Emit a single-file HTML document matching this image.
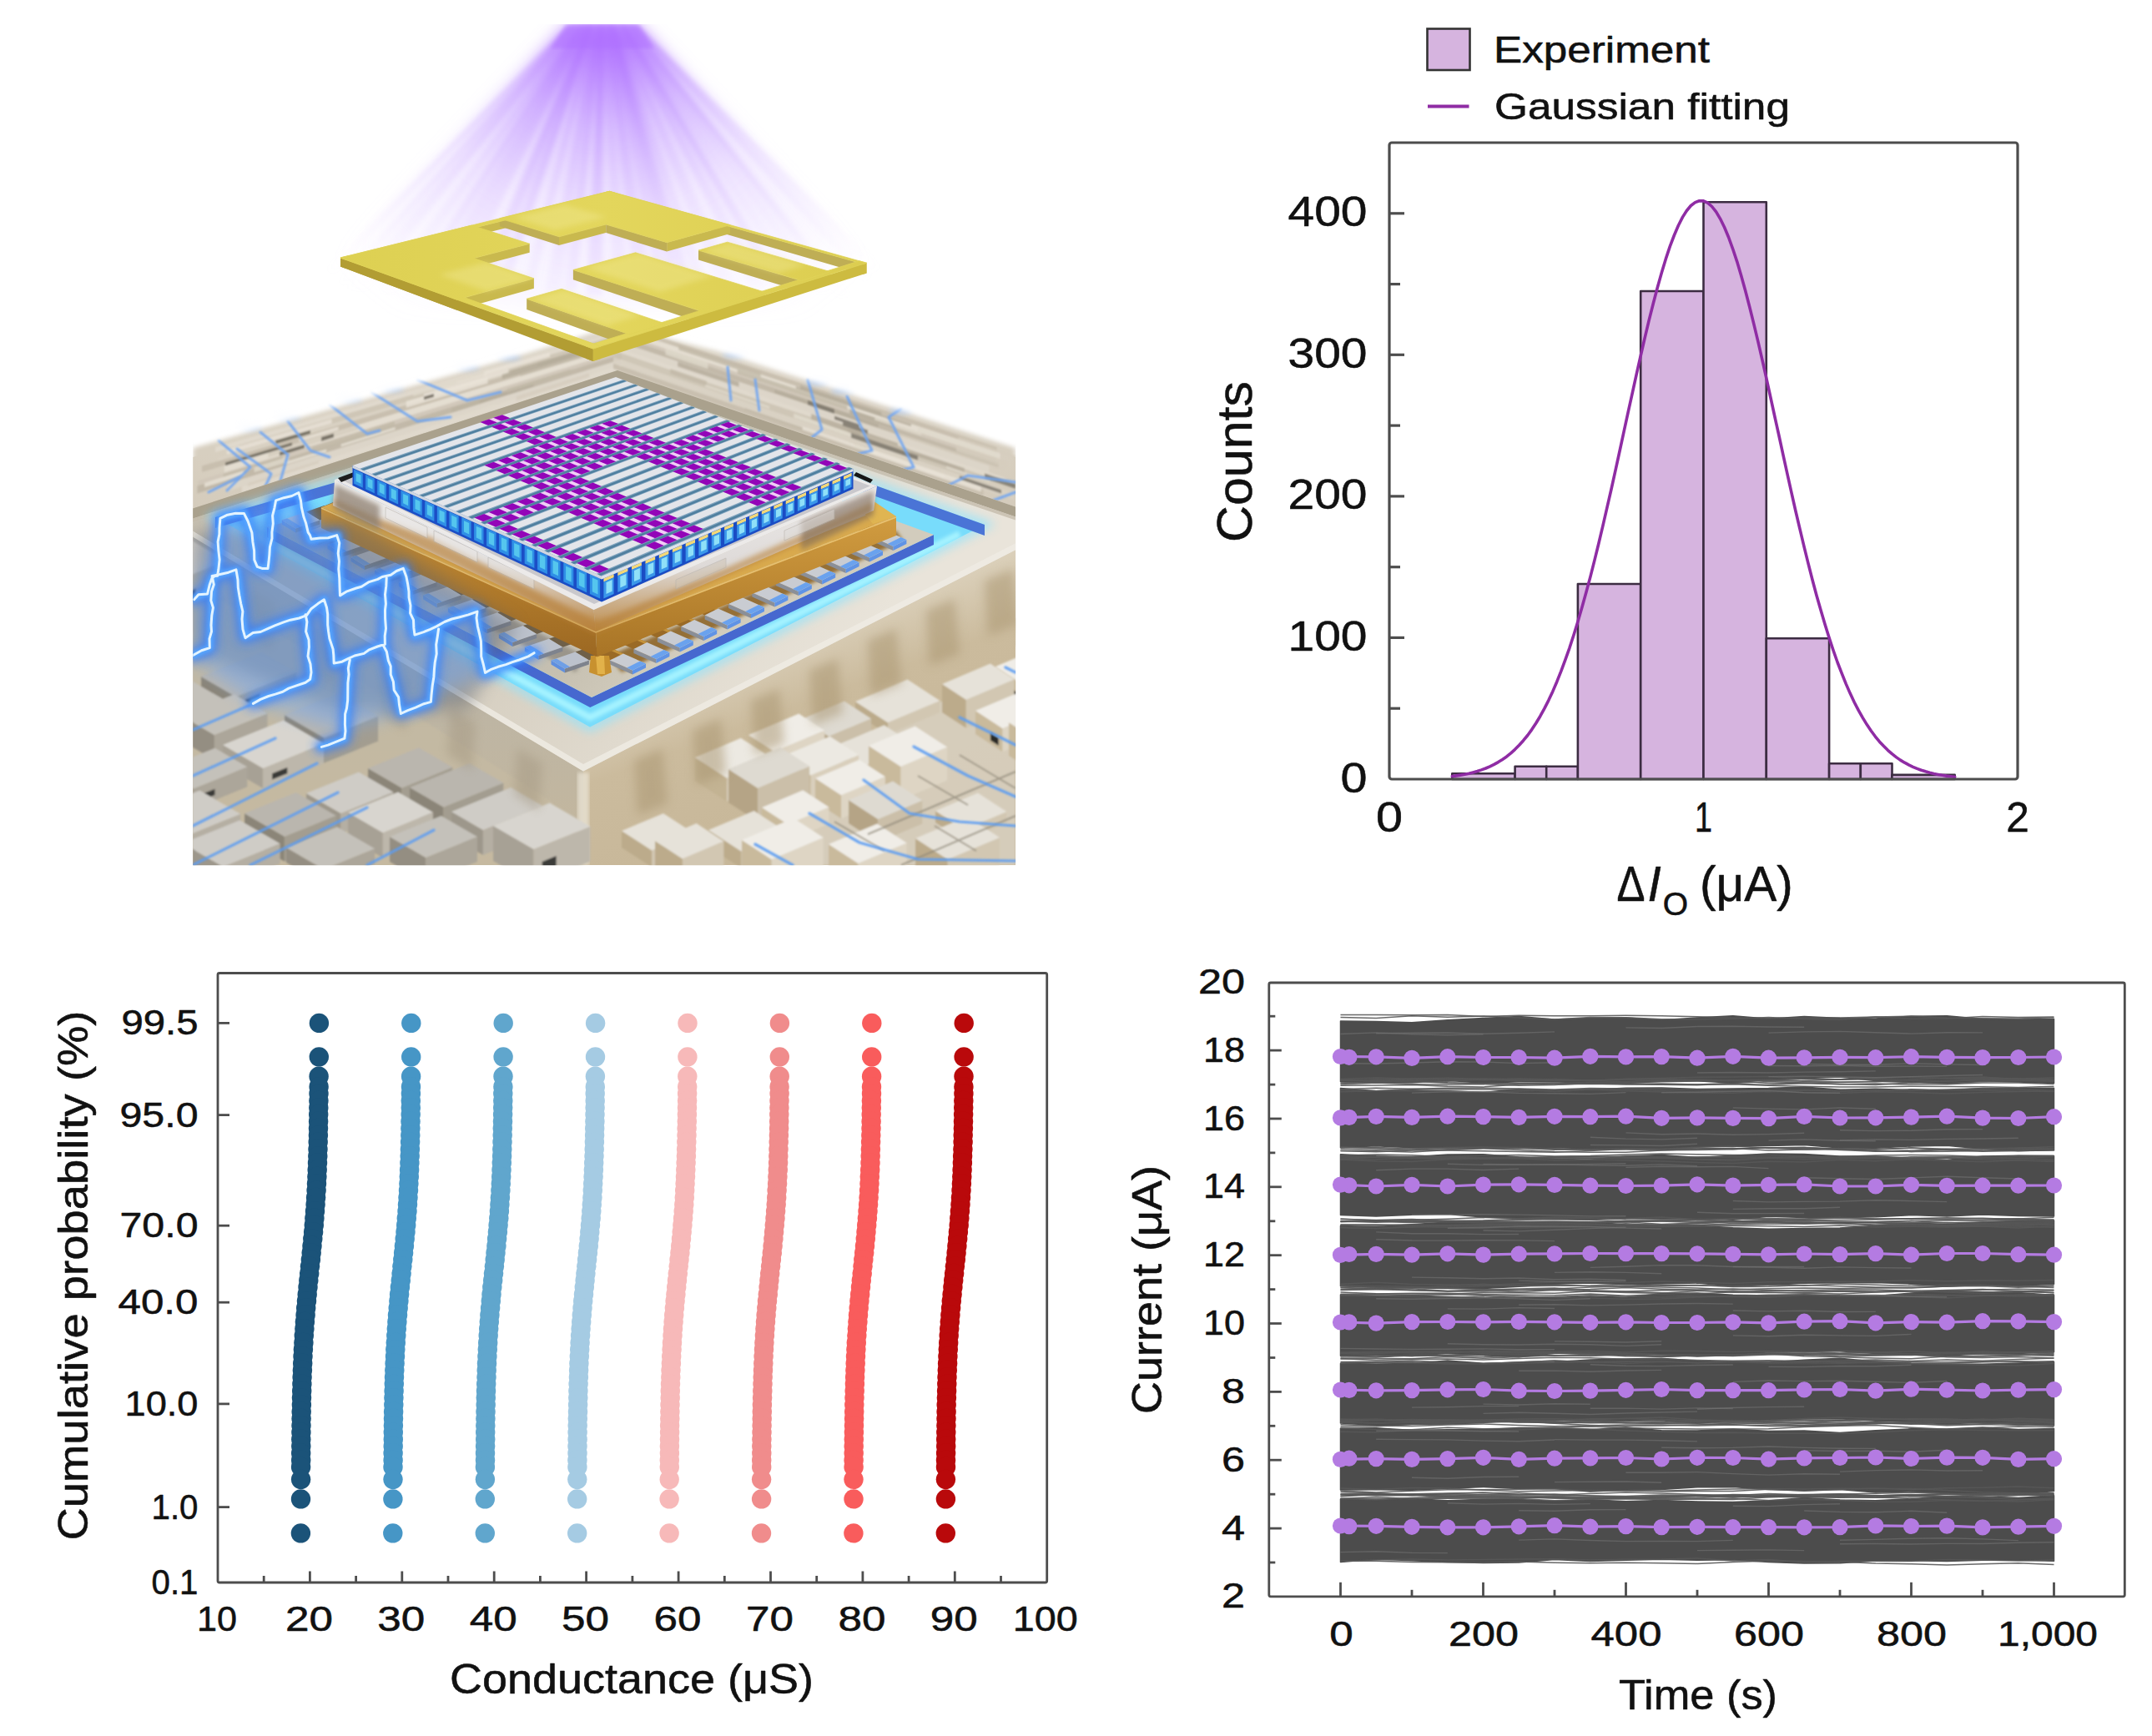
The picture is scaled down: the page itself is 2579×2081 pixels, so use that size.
<!DOCTYPE html>
<html lang="en"><head><meta charset="utf-8"><title>Figure</title>
<style>
html,body{margin:0;padding:0;background:#fff}
body{width:2579px;height:2081px;overflow:hidden}
svg{display:block;font-family:'Liberation Sans', sans-serif}
svg text{stroke:#111;stroke-width:0.55px;stroke-linejoin:round}
</style></head><body>
<svg width="2579" height="2081" viewBox="0 0 2579 2081">
<rect width="2579" height="2081" fill="#fff"/>
<defs>
<clipPath id="sceneClip"><rect x="231.3" y="0" width="985.9" height="1037.3"/></clipPath>
<filter id="b1" x="-5%" y="-5%" width="110%" height="110%"><feGaussianBlur stdDeviation="1"/></filter>
<filter id="b2" x="-5%" y="-5%" width="110%" height="110%"><feGaussianBlur stdDeviation="2"/></filter>
<filter id="b3" x="-10%" y="-10%" width="120%" height="120%"><feGaussianBlur stdDeviation="3.2"/></filter>
<filter id="b6" x="-10%" y="-10%" width="120%" height="120%"><feGaussianBlur stdDeviation="6"/></filter>
<filter id="b10" x="-20%" y="-20%" width="140%" height="140%"><feGaussianBlur stdDeviation="10"/></filter>
<filter id="b16" x="-20%" y="-20%" width="140%" height="140%"><feGaussianBlur stdDeviation="16"/></filter>
<linearGradient id="gBoard" x1="0" y1="400" x2="0" y2="1037" gradientUnits="userSpaceOnUse">
<stop offset="0" stop-color="#ddd6c9"/><stop offset="0.35" stop-color="#d4cbbb"/><stop offset="1" stop-color="#cdc2ae"/></linearGradient>
<linearGradient id="gPlat" x1="300" y1="500" x2="900" y2="950" gradientUnits="userSpaceOnUse">
<stop offset="0" stop-color="#c6bfb0"/><stop offset="0.55" stop-color="#d6cfc1"/><stop offset="1" stop-color="#e9e4da"/></linearGradient>
<linearGradient id="gFaceL" x1="0" y1="640" x2="0" y2="1037" gradientUnits="userSpaceOnUse">
<stop offset="0" stop-color="#b4b2ae"/><stop offset="0.5" stop-color="#bdb5a4"/><stop offset="1" stop-color="#c4b79d"/></linearGradient>
<linearGradient id="gFaceR" x1="900" y1="760" x2="1000" y2="1030" gradientUnits="userSpaceOnUse">
<stop offset="0" stop-color="#ded4c0"/><stop offset="0.35" stop-color="#cbbb9d"/><stop offset="1" stop-color="#c6b698"/></linearGradient>
<linearGradient id="gIsland" x1="400" y1="560" x2="760" y2="840" gradientUnits="userSpaceOnUse">
<stop offset="0" stop-color="#9ea3ad"/><stop offset="0.45" stop-color="#b7b5b0"/><stop offset="0.8" stop-color="#c6c0b1"/><stop offset="1" stop-color="#d2ccbd"/></linearGradient>
<linearGradient id="gBrL" x1="0" y1="0" x2="0" y2="1" >
<stop offset="0" stop-color="#c89036"/><stop offset="1" stop-color="#9c6822"/></linearGradient>
<linearGradient id="gBrR" x1="0" y1="0" x2="0" y2="1">
<stop offset="0" stop-color="#d19c40"/><stop offset="1" stop-color="#a87426"/></linearGradient>
<linearGradient id="gCarL" x1="0" y1="0" x2="0" y2="1">
<stop offset="0" stop-color="#f1f0ef"/><stop offset="0.55" stop-color="#e2dfdd"/><stop offset="0.85" stop-color="#c8a67c"/><stop offset="1" stop-color="#b98238"/></linearGradient>
<linearGradient id="gCarR" x1="0" y1="0" x2="0" y2="1">
<stop offset="0" stop-color="#eceae9"/><stop offset="0.55" stop-color="#dedad8"/><stop offset="0.88" stop-color="#c6a171"/><stop offset="1" stop-color="#b8843a"/></linearGradient>
<linearGradient id="gCellL" x1="0" y1="0" x2="1" y2="0">
<stop offset="0" stop-color="#1c4fc8"/><stop offset="0.3" stop-color="#3fb2ea"/><stop offset="0.7" stop-color="#56c4ee"/><stop offset="1" stop-color="#1b55cc"/></linearGradient>
<radialGradient id="gBeam" cx="722" cy="22" r="430" gradientUnits="userSpaceOnUse">
<stop offset="0" stop-color="#ae6cff" stop-opacity="0.98"/><stop offset="0.1" stop-color="#b57cff" stop-opacity="0.9"/>
<stop offset="0.3" stop-color="#c39bff" stop-opacity="0.55"/><stop offset="0.55" stop-color="#d3b8ff" stop-opacity="0.28"/>
<stop offset="0.8" stop-color="#dccaff" stop-opacity="0.14"/>
<stop offset="1" stop-color="#e6d8ff" stop-opacity="0"/></radialGradient>
<radialGradient id="gRay" cx="722" cy="22" r="450" gradientUnits="userSpaceOnUse">
<stop offset="0" stop-color="#a862ff" stop-opacity="0.9"/><stop offset="0.4" stop-color="#b98aff" stop-opacity="0.45"/>
<stop offset="0.8" stop-color="#cfb0ff" stop-opacity="0.12"/><stop offset="1" stop-color="#e6d8ff" stop-opacity="0"/></radialGradient>
<linearGradient id="gMaskTop" x1="408" y1="310" x2="1038" y2="330" gradientUnits="userSpaceOnUse">
<stop offset="0" stop-color="#ddd052"/><stop offset="0.5" stop-color="#e3d65c"/><stop offset="1" stop-color="#dccd50"/></linearGradient>
</defs>
<g clip-path="url(#sceneClip)">
<g id="board">
<g filter="url(#b3)">
<polygon points="231,535 620,425 738,388 860,419 1217,535 1217,760 231,760" fill="url(#gBoard)" />
</g>
<polygon points="231,548 620,438 738,402 860,432 1217,548 1217,1037 231,1037" fill="url(#gBoard)" />
<g filter="url(#b1)">
<polygon points="258.1,536.1 745,396 745,400.2 258.1,542" fill="#e2dbcf" opacity="0.85"/>
<polygon points="735,385.7 1194.6,536.2 1194.6,542 735,390.8" fill="#c5bcab" opacity="0.85"/>
<polygon points="286.5,533.8 745,400.2 745,405.4 286.5,541" fill="#cdc4b4" opacity="0.85"/>
<polygon points="735,390.8 1198.4,543.3 1198.4,550.5 735,397.3" fill="#e6dfd4" opacity="0.85"/>
<polygon points="261.5,548.4 745,405.4 745,408.6 261.5,552.8" fill="#d9d1c3" opacity="0.85"/>
<polygon points="735,397.3 1193.5,548.9 1193.5,553.2 735,401.1" fill="#d0c7b8" opacity="0.85"/>
<polygon points="242.1,558.6 745,408.6 745,413.9 242.1,566" fill="#c5bcab" opacity="0.85"/>
<polygon points="735,401.1 1196.5,554.2 1196.5,561.4 735,407.5" fill="#beb5a4" opacity="0.85"/>
<polygon points="268.8,557.9 745,413.9 745,420.2 268.8,566.6" fill="#e6dfd4" opacity="0.85"/>
<polygon points="735,407.5 1185.3,557.7 1185.3,566.3 735,415.2" fill="#ddd6ca" opacity="0.85"/>
<polygon points="236.6,576.5 745,420.2 745,424.4 236.6,582.5" fill="#d0c7b8" opacity="0.85"/>
<polygon points="735,415.2 1204.9,572.9 1204.9,578.7 735,420.3" fill="#e2dbcf" opacity="0.85"/>
<polygon points="236.4,582.5 745,424.4 745,430.7 236.4,591.5" fill="#beb5a4" opacity="0.85"/>
<polygon points="735,420.3 1184.6,571.9 1184.6,580.5 735,428" fill="#cdc4b4" opacity="0.85"/>
<polygon points="272.6,580 745,430.7 745,437 272.6,588.8" fill="#ddd6ca" opacity="0.85"/>
<polygon points="735,428 1215.3,590.9 1215.3,599.6 735,435.7" fill="#d9d1c3" opacity="0.85"/>
<polygon points="289.9,583.2 745,437 745,442.3 289.9,590.4" fill="#e2dbcf" opacity="0.85"/>
<polygon points="735,435.7 1178.4,587 1178.4,594.2 735,442.1" fill="#c5bcab" opacity="0.85"/>
<polygon points="304.6,560 346.1,547.1 346.1,553.3 304.6,566.3" fill="#e0d9cc" opacity="0.8"/>
<polygon points="803.4,442.1 846.9,456.8 846.9,462.7 803.4,447.9" fill="#c2b9a8" opacity="0.8"/>
<polygon points="373.8,535.7 472.9,505.1 472.9,511.7 373.8,542.7" fill="#c2b9a8" opacity="0.8"/>
<polygon points="972.1,496.1 1076.1,531.1 1076.1,538.2 972.1,503.1" fill="#b4ab9a" opacity="0.8"/>
<polygon points="508.5,466.2 589.1,442.8 589.1,445.6 508.5,469.1" fill="#e0d9cc" opacity="0.8"/>
<polygon points="1148.4,523.5 1217,546 1217,549.4 1148.4,526.8" fill="#d6cdbe" opacity="0.8"/>
<polygon points="358.5,525.7 405.5,511.6 405.5,515.5 358.5,529.7" fill="#ebe5da" opacity="0.8"/>
<polygon points="928.1,467 1052.8,508.4 1052.8,512.4 928.1,470.9" fill="#b4ab9a" opacity="0.8"/>
<polygon points="520.8,465.5 582.2,447.6 582.2,450.1 520.8,468.1" fill="#ebe5da" opacity="0.8"/>
<polygon points="953.9,462.9 1091.9,508.3 1091.9,511.2 953.9,465.7" fill="#b4ab9a" opacity="0.8"/>
<polygon points="321.4,542.3 428.9,509.8 428.9,515.4 321.4,548.4" fill="#d6cdbe" opacity="0.8"/>
<polygon points="812.2,433.6 885.5,458 885.5,463.7 812.2,439.2" fill="#b4ab9a" opacity="0.8"/>
<polygon points="341,554.1 391.1,538.4 391.1,541.8 341,557.6" fill="#ebe5da" opacity="0.8"/>
<polygon points="952,497.4 1040.7,527.4 1040.7,530.9 952,500.8" fill="#e0d9cc" opacity="0.8"/>
<polygon points="644,434.8 735,407.9 735,412.2 644,439.4" fill="#b4ab9a" opacity="0.8"/>
<polygon points="1018.2,490.3 1069.8,507.4 1069.8,513 1018.2,495.9" fill="#b4ab9a" opacity="0.8"/>
<polygon points="594.4,485 731.9,440.9 731.9,443 594.4,487.3" fill="#e0d9cc" opacity="0.8"/>
<polygon points="892.5,489 1021,532.8 1021,535.6 892.5,491.7" fill="#c2b9a8" opacity="0.8"/>
<polygon points="486.8,481.1 584.5,452.3 584.5,459.4 486.8,488.8" fill="#ebe5da" opacity="0.8"/>
<polygon points="1146,532.5 1207.4,552.8 1207.4,561.4 1146,541" fill="#d6cdbe" opacity="0.8"/>
<polygon points="580.4,445.6 659,422.8 659,427.8 580.4,450.9" fill="#ebe5da" opacity="0.8"/>
<polygon points="813.3,413.8 911.6,446.1 911.6,452 813.3,419.6" fill="#c2b9a8" opacity="0.8"/>
<polygon points="495.1,470.6 547.8,455.3 547.8,459.5 495.1,475" fill="#e0d9cc" opacity="0.8"/>
<polygon points="959,461.9 1056.4,493.9 1056.4,498.7 959,466.6" fill="#b4ab9a" opacity="0.8"/>
<polygon points="612.5,443.9 734.2,407.9 734.2,410.7 612.5,446.9" fill="#c2b9a8" opacity="0.8"/>
<polygon points="1048.4,500 1104.2,518.4 1104.2,522.1 1048.4,503.6" fill="#e0d9cc" opacity="0.8"/>
<polygon points="601.7,447.6 702.1,418 702.1,424.3 601.7,454.5" fill="#b4ab9a" opacity="0.8"/>
<polygon points="797.5,417.8 848.4,434.6 848.4,442.3 797.5,425.3" fill="#e0d9cc" opacity="0.8"/>
<polygon points="528.9,504.7 594.6,483.7 594.6,487.2 528.9,508.4" fill="#e0d9cc" opacity="0.8"/>
<polygon points="961.7,511.2 1053.7,542.5 1053.7,546.6 961.7,515.2" fill="#ebe5da" opacity="0.8"/>
<polygon points="507.9,472 609.5,442.3 609.5,446.8 507.9,477" fill="#ebe5da" opacity="0.8"/>
<polygon points="883.7,442.7 1015.4,486.2 1015.4,491.6 883.7,448" fill="#c2b9a8" opacity="0.8"/>
<polygon points="408.7,532.4 473.6,512.1 473.6,515 408.7,535.5" fill="#ebe5da" opacity="0.8"/>
<polygon points="845.2,460.9 922.1,486.9 922.1,489.9 845.2,463.9" fill="#e0d9cc" opacity="0.8"/>
<polygon points="296.7,579.6 381.8,552.3 381.8,555.6 296.7,583" fill="#d6cdbe" opacity="0.8"/>
<polygon points="1023.1,532.6 1132.2,569.8 1132.2,573.2 1023.1,535.9" fill="#e0d9cc" opacity="0.8"/>
<polygon points="618.7,475.3 706.2,447.3 706.2,452.1 618.7,480.4" fill="#d6cdbe" opacity="0.8"/>
<polygon points="1039.4,536.8 1175.6,583.2 1175.6,589.5 1039.4,542.9" fill="#ebe5da" opacity="0.8"/>
<polygon points="267.6,568.4 338.7,546.5 338.7,549.7 267.6,571.7" fill="#c2b9a8" opacity="0.8"/>
<polygon points="1149.8,555.7 1197.3,571.7 1197.3,575 1149.8,559" fill="#e0d9cc" opacity="0.8"/>
<polygon points="623.9,448.5 735,415.1 735,417.4 623.9,451" fill="#c2b9a8" opacity="0.8"/>
<polygon points="1073.5,518 1205,561.8 1205,564.9 1073.5,521.1" fill="#d6cdbe" opacity="0.8"/>
<polygon points="271.8,539 397.6,502.3 397.6,507.6 271.8,544.7" fill="#ebe5da" opacity="0.8"/>
<polygon points="1099.5,511.7 1196.8,543.7 1196.8,549.3 1099.5,517.2" fill="#e0d9cc" opacity="0.8"/>
<polygon points="245.1,578.9 292.3,564.2 292.3,569.3 245.1,584.1" fill="#ebe5da" opacity="0.8"/>
<polygon points="1016.6,514.3 1155.9,561.2 1155.9,566.3 1016.6,519.2" fill="#b4ab9a" opacity="0.8"/>
<polygon points="541.4,489.9 639.5,459.3 639.5,463.3 541.4,494.3" fill="#b4ab9a" opacity="0.8"/>
<polygon points="951.2,495.6 1045.3,527.4 1045.3,532.4 951.2,500.5" fill="#e0d9cc" opacity="0.8"/>
<polygon points="486.5,508.1 574.6,480.5 574.6,483.1 486.5,510.8" fill="#c2b9a8" opacity="0.8"/>
<polygon points="1134.2,558.6 1185.5,576 1185.5,579 1134.2,561.6" fill="#e0d9cc" opacity="0.8"/>
<polygon points="607.5,466.3 684.3,442.4 684.3,446.8 607.5,470.9" fill="#c2b9a8" opacity="0.8"/>
<polygon points="1030.9,519 1091.2,539.3 1091.2,544.9 1030.9,524.5" fill="#c2b9a8" opacity="0.8"/>
<polygon points="270,554.6 350,530.5 350,534 270,558.3" fill="#6f695d" opacity="0.9"/>
<polygon points="330,528.1 372,515.7 372,519.8 330,532.3" fill="#6f695d" opacity="0.9"/>
<polygon points="335,542.1 365,532.9 365,537.1 335,546.3" fill="#6f695d" opacity="0.9"/>
<polygon points="385,524.1 400,519.6 400,524.3 385,528.9" fill="#6f695d" opacity="0.9"/>
<polygon points="508,475.5 520,471.9 520,475.7 508,479.3" fill="#6f695d" opacity="0.9"/>
<polygon points="968,479.8 1000,490.4 1000,495.9 968,485.2" fill="#7d776b" opacity="0.85"/>
<polygon points="1010,505.4 1040,515.5 1040,520.3 1010,510.3" fill="#7d776b" opacity="0.85"/>
<polygon points="1020,519.1 1100,546.2 1100,551.8 1020,524.7" fill="#7d776b" opacity="0.85"/>
<polygon points="1000,498.6 1030,508.7 1030,512.8 1000,502.8" fill="#7d776b" opacity="0.85"/>
<polygon points="1180,567.4 1217,579.9 1217,585.7 1180,573.2" fill="#7d776b" opacity="0.85"/>
<polygon points="1150,570.2 1200,587.2 1200,591.5 1150,574.5" fill="#7d776b" opacity="0.85"/>
</g>
<g fill="none" stroke="#6ea4f2" stroke-width="3" stroke-linejoin="round" stroke-linecap="round" opacity="0.9" filter="url(#b1)">
<polyline points="262,528 300,560 272,588"/>
<polyline points="284,538 325,568 310,600"/>
<polyline points="312,518 345,545 335,580"/>
<polyline points="345,505 372,540 395,548"/>
<polyline points="395,485 440,520 455,516"/>
<polyline points="445,470 500,505 540,500"/>
<polyline points="500,455 560,480 600,470"/>
<polyline points="250,590 290,570"/>
<polyline points="872,440 876,480"/>
<polyline points="905,455 910,492"/>
<polyline points="968,455 985,515 972,525"/>
<polyline points="1015,475 1045,540 1025,545"/>
<polyline points="1080,490 1065,500 1095,560 1075,565"/>
<polyline points="1130,585 1160,570 1217,578"/>
<polyline points="1190,600 1217,590"/>
</g>
<g filter="url(#b3)" opacity="0.55" fill="#9cc4ff">
<ellipse cx="300" cy="512" rx="14" ry="4"/>
<ellipse cx="345" cy="500" rx="14" ry="4"/>
<ellipse cx="420" cy="478" rx="14" ry="4"/>
<ellipse cx="470" cy="466" rx="14" ry="4"/>
<ellipse cx="560" cy="440" rx="14" ry="4"/>
<ellipse cx="610" cy="428" rx="14" ry="4"/>
<ellipse cx="880" cy="425" rx="14" ry="4"/>
<ellipse cx="980" cy="458" rx="14" ry="4"/>
<ellipse cx="1010" cy="468" rx="14" ry="4"/>
<ellipse cx="1080" cy="492" rx="14" ry="4"/>
</g>
<g filter="url(#b3)" fill="none" stroke="#fff" stroke-width="16" stroke-linejoin="round" opacity="0.95">
<polyline points="200,536 620,417 738,380 860,411 1250,538"/>
</g>
</g>
<g id="platform">
<polygon points="231,643.6 699,924.4 699,1037 231,1037" fill="url(#gFaceL)" />
<polygon points="699,924.4 1217,659.2 1217,1037 699,1037" fill="url(#gFaceR)" />
<polygon points="231,609.6 740,444 1217,607.5 1217,659.2 699,924.4 231,643.6" fill="url(#gPlat)" />
<polygon points="231,609.6 740,444 1217,607.5 1217,619.5 740,457 231,621.6" fill="#aaa18d" />
<polygon points="231,621.6 740,457 1217,619.5 1217,623.5 740,461 231,625.6" fill="#c4bcab" opacity="0.8"/>
<polygon points="231,636.6 699,916 1217,651.2 1217,659.2 699,924.4 231,643.6" fill="#efebe3" opacity="0.85"/>
<g filter="url(#b2)">
<polygon points="692,926 706,926 706,1037 692,1037" fill="#e9e2d3" opacity="0.8"/>
</g>
</g>
<g id="blocks">
<g filter="url(#b1)">
<polygon points="231,700 470,840 660,960 699,1037 231,1037" fill="#c7bba3" opacity="0.55"/>
<polygon points="165,670 210.7,696.5 210.7,738.5 165,712" fill="#a7a195" /><polygon points="210.7,696.5 271.2,672 271.2,714 210.7,738.5" fill="#bdb7ab" /><polygon points="165,670 225.5,645.5 271.2,672 210.7,696.5" fill="#d8d5cf" />
<polygon points="219.8,711.7 234.9,705.6 234.9,718.2 219.8,724.3" fill="#3b3a38" />
<polygon points="241,811 282.8,835.2 282.8,853.2 241,829" fill="#8b8578" /><polygon points="282.8,835.2 355.3,805.8 355.3,823.8 282.8,853.2" fill="#a39d90" /><polygon points="241,811 313.5,781.6 355.3,805.8 282.8,835.2" fill="#bab6ae" />
<polygon points="293.7,838.9 311.8,831.6 311.8,837 293.7,844.3" fill="#3b3a38" />
<polygon points="167,841 207.1,864.2 207.1,882.2 167,859" fill="#948e82" /><polygon points="207.1,864.2 269.2,839.1 269.2,857.1 207.1,882.2" fill="#aca69a" /><polygon points="167,841 229.1,815.8 269.2,839.1 207.1,864.2" fill="#c4c1ba" />
<polygon points="216.4,868.6 231.9,862.3 231.9,867.7 216.4,874" fill="#3b3a38" />
<polygon points="217,858 256.9,881.1 256.9,911.1 217,888" fill="#948e82" /><polygon points="256.9,881.1 320.5,855.3 320.5,885.3 256.9,911.1" fill="#aca69a" /><polygon points="217,858 280.6,832.2 320.5,855.3 256.9,881.1" fill="#c4c1ba" />
<polygon points="341,857 388.6,884.6 388.6,914.6 341,887" fill="#8b8578" /><polygon points="388.6,884.6 453.1,858.5 453.1,888.5 388.6,914.6" fill="#a39d90" /><polygon points="341,857 405.5,830.9 453.1,858.5 388.6,884.6" fill="#bab6ae" />
<polygon points="267,893 315.2,921 315.2,945 267,917" fill="#a7a195" /><polygon points="315.2,921 388,891.5 388,915.5 315.2,945" fill="#bdb7ab" /><polygon points="267,893 339.8,863.5 388,891.5 315.2,921" fill="#d8d5cf" />
<polygon points="326.1,927.3 344.3,920 344.3,927.2 326.1,934.5" fill="#3b3a38" />
<polygon points="193,923 231.7,945.5 231.7,969.5 193,947" fill="#948e82" /><polygon points="231.7,945.5 296.3,919.3 296.3,943.3 231.7,969.5" fill="#aca69a" /><polygon points="193,923 257.6,896.8 296.3,919.3 231.7,945.5" fill="#c4c1ba" />
<polygon points="241.4,952.3 257.5,945.8 257.5,953 241.4,959.5" fill="#3b3a38" />
<polygon points="441,921 481.5,944.5 481.5,968.5 441,945" fill="#8b8578" /><polygon points="481.5,944.5 542.3,919.8 542.3,943.8 481.5,968.5" fill="#a39d90" /><polygon points="441,921 501.9,896.3 542.3,919.8 481.5,944.5" fill="#bab6ae" />
<polygon points="367,951 408.5,975.1 408.5,999.1 367,975" fill="#9d978b" /><polygon points="408.5,975.1 471.4,949.6 471.4,973.6 408.5,999.1" fill="#b5afa3" /><polygon points="367,951 429.9,925.5 471.4,949.6 408.5,975.1" fill="#cfccc6" />
<polygon points="491,944 531.5,967.5 531.5,997.5 491,974" fill="#8b8578" /><polygon points="531.5,967.5 603.3,938.4 603.3,968.4 531.5,997.5" fill="#a39d90" /><polygon points="491,944 562.8,914.9 603.3,938.4 531.5,967.5" fill="#bab6ae" />
<polygon points="169,976 217.8,1004.3 217.8,1034.3 169,1006" fill="#9d978b" /><polygon points="217.8,1004.3 288.2,975.8 288.2,1005.8 217.8,1034.3" fill="#b5afa3" /><polygon points="169,976 239.4,947.5 288.2,975.8 217.8,1004.3" fill="#cfccc6" />
<polygon points="228.4,1013.5 246,1006.4 246,1015.4 228.4,1022.5" fill="#3b3a38" />
<polygon points="293,975 340.9,1002.8 340.9,1032.8 293,1005" fill="#8b8578" /><polygon points="340.9,1002.8 402.7,977.7 402.7,1007.7 340.9,1032.8" fill="#a39d90" /><polygon points="293,975 354.8,950 402.7,977.7 340.9,1002.8" fill="#bab6ae" />
<polygon points="417,974 458.8,998.2 458.8,1028.2 417,1004" fill="#a7a195" /><polygon points="458.8,998.2 518.9,973.8 518.9,1003.8 458.8,1028.2" fill="#bdb7ab" /><polygon points="417,974 477.1,949.6 518.9,973.8 458.8,998.2" fill="#d8d5cf" />
<polygon points="541,973 578.9,995 578.9,1025 541,1003" fill="#9d978b" /><polygon points="578.9,995 650.2,966.1 650.2,996.1 578.9,1025" fill="#b5afa3" /><polygon points="541,973 612.3,944.1 650.2,966.1 578.9,995" fill="#cfccc6" />
<polygon points="219,1011 267.3,1039 267.3,1063 219,1035" fill="#9d978b" /><polygon points="267.3,1039 335.6,1011.3 335.6,1035.3 267.3,1063" fill="#b5afa3" /><polygon points="219,1011 287.3,983.3 335.6,1011.3 267.3,1039" fill="#cfccc6" />
<polygon points="343,1016 387.9,1042 387.9,1060 343,1034" fill="#948e82" /><polygon points="387.9,1042 449.1,1017.3 449.1,1035.3 387.9,1060" fill="#aca69a" /><polygon points="343,1016 404.2,991.2 449.1,1017.3 387.9,1042" fill="#c4c1ba" />
<polygon points="397.1,1046.4 412.4,1040.2 412.4,1045.6 397.1,1051.8" fill="#3b3a38" />
<polygon points="467,1003 510.2,1028 510.2,1058 467,1033" fill="#948e82" /><polygon points="510.2,1028 572,1003 572,1033 510.2,1058" fill="#aca69a" /><polygon points="467,1003 528.8,977.9 572,1003 510.2,1028" fill="#c4c1ba" />
<polygon points="591,990 639.5,1018.1 639.5,1060.1 591,1032" fill="#a7a195" /><polygon points="639.5,1018.1 707.3,990.7 707.3,1032.7 639.5,1060.1" fill="#bdb7ab" /><polygon points="591,990 658.8,962.5 707.3,990.7 639.5,1018.1" fill="#d8d5cf" />
<polygon points="649.7,1032.9 666.6,1026 666.6,1038.6 649.7,1045.5" fill="#3b3a38" />
</g>
<g fill="none" stroke="#5b9cf2" stroke-width="3.2" stroke-linecap="round" opacity="0.85" filter="url(#b1)">
<line x1="231" y1="875" x2="300" y2="845"/>
<line x1="231" y1="930" x2="330" y2="885"/>
<line x1="231" y1="990" x2="380" y2="915"/>
<line x1="231" y1="1037" x2="405" y2="950"/>
<line x1="300" y1="1037" x2="440" y2="968"/>
<line x1="440" y1="1037" x2="520" y2="995"/>
</g>
<g filter="url(#b1)">
<polygon points="1000,900 1217,800 1217,1037 900,1037" fill="#dad2c3" opacity="0.8"/>
<polygon points="1217,740 1251.3,762.3 1251.3,796.3 1217,774" fill="#c9ba9c" /><polygon points="1251.3,762.3 1305.3,739.5 1305.3,773.5 1251.3,796.3" fill="#ded5c4" /><polygon points="1217,740 1271,717.2 1305.3,739.5 1251.3,762.3" fill="#f0ede7" />
<polygon points="1193,799 1224.3,819.3 1224.3,847.3 1193,827" fill="#c9ba9c" /><polygon points="1224.3,819.3 1286.3,793.2 1286.3,821.2 1224.3,847.3" fill="#ded5c4" /><polygon points="1193,799 1255,772.8 1286.3,793.2 1224.3,819.3" fill="#f0ede7" />
<polygon points="1210.2,824.2 1219.6,830.3 1219.6,840.1 1210.2,834" fill="#2b2a28" />
<polygon points="1025,841 1064,866.3 1064,880.3 1025,855" fill="#bcab8b" /><polygon points="1064,866.3 1126.5,840 1126.5,854 1064,880.3" fill="#d2c7b2" /><polygon points="1025,841 1087.5,814.6 1126.5,840 1064,866.3" fill="#e6e2d9" />
<polygon points="1129,820 1157.8,838.7 1157.8,872.7 1129,854" fill="#bcab8b" /><polygon points="1157.8,838.7 1215.6,814.4 1215.6,848.4 1157.8,872.7" fill="#d2c7b2" /><polygon points="1129,820 1186.8,795.6 1215.6,814.4 1157.8,838.7" fill="#e6e2d9" />
<polygon points="961,862 993.1,882.8 993.1,902.8 961,882" fill="#b5a486" /><polygon points="993.1,882.8 1044,861.4 1044,881.4 993.1,902.8" fill="#cbbfa9" /><polygon points="961,862 1011.9,840.5 1044,861.4 993.1,882.8" fill="#dedad1" />
<polygon points="1169,852 1201.5,873.2 1201.5,901.2 1169,880" fill="#c9ba9c" /><polygon points="1201.5,873.2 1249.5,852.9 1249.5,880.9 1201.5,901.2" fill="#ded5c4" /><polygon points="1169,852 1217,831.7 1249.5,852.9 1201.5,873.2" fill="#f0ede7" />
<polygon points="1186.9,877.6 1196.7,884 1196.7,893.8 1186.9,887.4" fill="#2b2a28" />
<polygon points="897,881 928,901.1 928,929.1 897,909" fill="#c9ba9c" /><polygon points="928,901.1 988.3,875.7 988.3,903.7 928,929.1" fill="#ded5c4" /><polygon points="897,881 957.3,855.6 988.3,875.7 928,901.1" fill="#f0ede7" />
<polygon points="914,906.1 923.3,912.1 923.3,921.9 914,915.9" fill="#2b2a28" />
<polygon points="1001,894 1037.2,917.5 1037.2,931.5 1001,908" fill="#bcab8b" /><polygon points="1037.2,917.5 1095.8,892.8 1095.8,906.8 1037.2,931.5" fill="#d2c7b2" /><polygon points="1001,894 1059.6,869.3 1095.8,892.8 1037.2,917.5" fill="#e6e2d9" />
<polygon points="1209,866 1237.4,884.5 1237.4,924.5 1209,906" fill="#c9ba9c" /><polygon points="1237.4,884.5 1290.9,861.9 1290.9,901.9 1237.4,924.5" fill="#ded5c4" /><polygon points="1209,866 1262.5,843.4 1290.9,861.9 1237.4,884.5" fill="#f0ede7" />
<polygon points="833,908 871.1,932.8 871.1,960.8 833,936" fill="#c3b393" /><polygon points="871.1,932.8 926,909.6 926,937.6 871.1,960.8" fill="#d9cfbc" /><polygon points="833,908 887.9,884.8 926,909.6 871.1,932.8" fill="#ece9e2" />
<polygon points="937,907 971.5,929.4 971.5,957.4 937,935" fill="#c3b393" /><polygon points="971.5,929.4 1029.1,905.1 1029.1,933.1 971.5,957.4" fill="#d9cfbc" /><polygon points="937,907 994.6,882.7 1029.1,905.1 971.5,929.4" fill="#ece9e2" />
<polygon points="1041,894 1079.5,919 1079.5,959 1041,934" fill="#c9ba9c" /><polygon points="1079.5,919 1135.1,895.6 1135.1,935.6 1079.5,959" fill="#ded5c4" /><polygon points="1041,894 1096.6,870.5 1135.1,895.6 1079.5,919" fill="#f0ede7" />
<polygon points="873,922 908,944.8 908,984.8 873,962" fill="#b5a486" /><polygon points="908,944.8 970.2,918.6 970.2,958.6 908,984.8" fill="#cbbfa9" /><polygon points="873,922 935.1,895.8 970.2,918.6 908,944.8" fill="#dedad1" />
<polygon points="977,933 1008.1,953.2 1008.1,981.2 977,961" fill="#c9ba9c" /><polygon points="1008.1,953.2 1060.9,930.9 1060.9,958.9 1008.1,981.2" fill="#ded5c4" /><polygon points="977,933 1029.8,910.7 1060.9,930.9 1008.1,953.2" fill="#f0ede7" />
<polygon points="913,968 944,988.2 944,1008.2 913,988" fill="#c9ba9c" /><polygon points="944,988.2 993.4,967.4 993.4,987.4 944,1008.2" fill="#ded5c4" /><polygon points="913,968 962.3,947.2 993.4,967.4 944,988.2" fill="#f0ede7" />
<polygon points="1017,959 1052.2,981.9 1052.2,1009.9 1017,987" fill="#b5a486" /><polygon points="1052.2,981.9 1105.3,959.5 1105.3,987.5 1052.2,1009.9" fill="#cbbfa9" /><polygon points="1017,959 1070.1,936.6 1105.3,959.5 1052.2,981.9" fill="#dedad1" />
<polygon points="1121,972 1155.6,994.5 1155.6,1008.5 1121,986" fill="#bcab8b" /><polygon points="1155.6,994.5 1206.4,973 1206.4,987 1155.6,1008.5" fill="#d2c7b2" /><polygon points="1121,972 1171.9,950.5 1206.4,973 1155.6,994.5" fill="#e6e2d9" />
<polygon points="745,996 781.2,1019.5 781.2,1039.5 745,1016" fill="#bcab8b" /><polygon points="781.2,1019.5 831.1,998.5 831.1,1018.5 781.2,1039.5" fill="#d2c7b2" /><polygon points="745,996 794.9,974.9 831.1,998.5 781.2,1019.5" fill="#e6e2d9" />
<polygon points="849,995 888.2,1020.5 888.2,1040.5 849,1015" fill="#bcab8b" /><polygon points="888.2,1020.5 942.9,997.4 942.9,1017.4 888.2,1040.5" fill="#d2c7b2" /><polygon points="849,995 903.7,971.9 942.9,997.4 888.2,1020.5" fill="#e6e2d9" />
<polygon points="785,1008 817.9,1029.4 817.9,1063.4 785,1042" fill="#bcab8b" /><polygon points="817.9,1029.4 867.4,1008.5 867.4,1042.5 817.9,1063.4" fill="#d2c7b2" /><polygon points="785,1008 834.6,987.1 867.4,1008.5 817.9,1029.4" fill="#e6e2d9" />
<polygon points="889,1007 924.7,1030.2 924.7,1064.2 889,1041" fill="#c9ba9c" /><polygon points="924.7,1030.2 986.8,1004 986.8,1038 924.7,1064.2" fill="#ded5c4" /><polygon points="889,1007 951.1,980.8 986.8,1004 924.7,1030.2" fill="#f0ede7" />
<polygon points="993,1012 1028.4,1035 1028.4,1063 993,1040" fill="#c9ba9c" /><polygon points="1028.4,1035 1086.7,1010.5 1086.7,1038.5 1028.4,1063" fill="#ded5c4" /><polygon points="993,1012 1051.2,987.4 1086.7,1010.5 1028.4,1035" fill="#f0ede7" />
<polygon points="1097,1005 1135.7,1030.2 1135.7,1064.2 1097,1039" fill="#bcab8b" /><polygon points="1135.7,1030.2 1198.1,1003.9 1198.1,1037.9 1135.7,1064.2" fill="#d2c7b2" /><polygon points="1097,1005 1159.4,978.7 1198.1,1003.9 1135.7,1030.2" fill="#e6e2d9" />
</g>
<g fill="none" stroke="#8d8677" stroke-width="2" opacity="0.7" filter="url(#b1)">
<line x1="1040" y1="1000" x2="1217" y2="925"/>
<line x1="1080" y1="1037" x2="1217" y2="978"/>
<line x1="1100" y1="930" x2="1160" y2="965"/>
<line x1="1150" y1="905" x2="1217" y2="945"/>
<line x1="1120" y1="990" x2="1170" y2="1020"/>
<line x1="1000" y1="985" x2="1060" y2="1020"/>
</g>
<g fill="none" stroke="#5b9cf2" stroke-width="3.2" stroke-linecap="round" stroke-linejoin="round" opacity="0.9" filter="url(#b1)">
<polyline points="1150,860 1217,893"/>
<polyline points="1095,895 1160,930 1217,955"/>
<polyline points="1035,935 1090,975 1150,985 1217,990"/>
<polyline points="970,975 1030,1010 1100,1030 1217,1032"/>
<polyline points="905,1012 950,1037"/>
<polyline points="1205,800 1217,806"/>
</g>
<g filter="url(#b6)" opacity="0.5">
<polygon points="760,911.2 794,897.2 800,963.2 764,977.2" fill="#a8946f" />
<polygon points="830,875.3 864,861.3 870,927.3 834,941.3" fill="#a8946f" />
<polygon points="900,839.5 934,825.5 940,891.5 904,905.5" fill="#a8946f" />
<polygon points="970,803.6 1004,789.6 1010,855.6 974,869.6" fill="#a8946f" />
<polygon points="1040,767.8 1074,753.8 1080,819.8 1044,833.8" fill="#a8946f" />
<polygon points="1110,732 1144,718 1150,784 1114,798" fill="#a8946f" />
<polygon points="1180,696.1 1214,682.1 1220,748.1 1184,762.1" fill="#a8946f" />
</g>
<g filter="url(#b6)" opacity="0.45">
<polygon points="300,705 330,723 326,780 296,760" fill="#a39680" />
<polygon points="380,753 410,771 406,828 376,808" fill="#a39680" />
<polygon points="460,801 490,819 486,876 456,856" fill="#a39680" />
<polygon points="540,849 570,867 566,924 536,904" fill="#a39680" />
<polygon points="620,897 650,915 646,972 616,952" fill="#a39680" />
</g>
</g>
<g id="ring">
<g filter="url(#b6)" opacity="0.8"><polygon points="258,620 755,476 1180,629 707,871.5" fill="none" stroke="#8fe4ff" stroke-width="10"/></g>
<polygon points="258,620 755,476 1180,629 707,871.5" fill="#78dcfb" />
<g filter="url(#b2)">
<polyline points="290,634 707,860 1150,640" fill="none" stroke="#a5f3ff" stroke-width="8"/>
</g>
<polygon points="258,620 755,476 1180,629 1180,642 755,489 258,633" fill="#4a74d6" />
<polygon points="320,632 709,836 1119,641 1119,653 707.2,848 320,644" fill="#4668cf" />
<polygon points="320,632 754,508 1119,641 709,836" fill="url(#gIsland)" />
<g filter="url(#b6)" opacity="0.45"><polygon points="320,632 520,570 640,700 470,720" fill="#7f9fd8" /></g>
</g>
<g id="pins">
<g filter="url(#b2)">
<polygon points="392,630 700,786 690,806 395,652" fill="#77736c" opacity="0.55"/>
<polygon points="730,786 1074,636 1082,648 745,806" fill="#8a5f22" opacity="0.85"/>
</g>
<polygon points="366.8,613.5 383.2,623.5 405,616 388.6,606" fill="#6f6048" />
<polygon points="354.2,633.5 383.2,623.5 383.2,628.5 354.2,638.5" fill="#7e838d" /><polygon points="337.8,623.5 354.2,633.5 354.2,638.5 337.8,628.5" fill="#5f8fe0" /><polygon points="337.8,623.5 366.8,613.5 383.2,623.5 354.2,633.5" fill="#bcc2cc" /><polygon points="337.8,623.5 344.2,621.3 360.6,631.3 354.2,633.5" fill="#6f9fe6" />
<polygon points="394,628.2 410.4,638.2 432.1,630.7 415.7,620.7" fill="#6f6048" />
<polygon points="381.4,648.2 410.4,638.2 410.4,643.2 381.4,653.2" fill="#7e838d" /><polygon points="365,638.2 381.4,648.2 381.4,653.2 365,643.2" fill="#5f8fe0" /><polygon points="365,638.2 394,628.2 410.4,638.2 381.4,648.2" fill="#bcc2cc" /><polygon points="365,638.2 371.4,636 387.8,646 381.4,648.2" fill="#6f9fe6" />
<polygon points="421.6,643 438,653 459.7,645.5 443.3,635.5" fill="#6f6048" />
<polygon points="409,663 438,653 438,658 409,668" fill="#7e838d" /><polygon points="392.6,653 409,663 409,668 392.6,658" fill="#5f8fe0" /><polygon points="392.6,653 421.6,643 438,653 409,663" fill="#bcc2cc" /><polygon points="392.6,653 399,650.8 415.4,660.8 409,663" fill="#6f9fe6" />
<polygon points="449.6,657.9 466,667.9 487.7,660.4 471.3,650.4" fill="#6f6048" />
<polygon points="437,677.9 466,667.9 466,672.9 437,682.9" fill="#7e838d" /><polygon points="420.6,667.9 437,677.9 437,682.9 420.6,672.9" fill="#5f8fe0" /><polygon points="420.6,667.9 449.6,657.9 466,667.9 437,677.9" fill="#bcc2cc" /><polygon points="420.6,667.9 427,665.7 443.4,675.7 437,677.9" fill="#6f9fe6" />
<polygon points="478,672.9 494.4,682.9 516.2,675.4 499.8,665.4" fill="#6f6048" />
<polygon points="465.4,692.9 494.4,682.9 494.4,687.9 465.4,697.9" fill="#7e838d" /><polygon points="449,682.9 465.4,692.9 465.4,697.9 449,687.9" fill="#5f8fe0" /><polygon points="449,682.9 478,672.9 494.4,682.9 465.4,692.9" fill="#bcc2cc" /><polygon points="449,682.9 455.4,680.7 471.8,690.7 465.4,692.9" fill="#6f9fe6" />
<polygon points="506.9,688.1 523.3,698.1 545,690.6 528.6,680.6" fill="#6f6048" />
<polygon points="494.3,708.1 523.3,698.1 523.3,703.1 494.3,713.1" fill="#7e838d" /><polygon points="477.9,698.1 494.3,708.1 494.3,713.1 477.9,703.1" fill="#5f8fe0" /><polygon points="477.9,698.1 506.9,688.1 523.3,698.1 494.3,708.1" fill="#bcc2cc" /><polygon points="477.9,698.1 484.2,695.9 500.6,705.9 494.3,708.1" fill="#6f9fe6" />
<polygon points="536.2,703.4 552.6,713.4 574.3,705.9 557.9,695.9" fill="#6f6048" />
<polygon points="523.6,723.4 552.6,713.4 552.6,718.4 523.6,728.4" fill="#7e838d" /><polygon points="507.2,713.4 523.6,723.4 523.6,728.4 507.2,718.4" fill="#5f8fe0" /><polygon points="507.2,713.4 536.2,703.4 552.6,713.4 523.6,723.4" fill="#bcc2cc" /><polygon points="507.2,713.4 513.5,711.2 529.9,721.2 523.6,723.4" fill="#6f9fe6" />
<polygon points="565.9,718.8 582.3,728.8 604.1,721.3 587.7,711.3" fill="#6f6048" />
<polygon points="553.3,738.8 582.3,728.8 582.3,733.8 553.3,743.8" fill="#7e838d" /><polygon points="536.9,728.8 553.3,738.8 553.3,743.8 536.9,733.8" fill="#5f8fe0" /><polygon points="536.9,728.8 565.9,718.8 582.3,728.8 553.3,738.8" fill="#bcc2cc" /><polygon points="536.9,728.8 543.3,726.6 559.7,736.6 553.3,738.8" fill="#6f9fe6" />
<polygon points="596.1,734.3 612.5,744.3 634.3,736.8 617.9,726.8" fill="#6f6048" />
<polygon points="583.5,754.3 612.5,744.3 612.5,749.3 583.5,759.3" fill="#7e838d" /><polygon points="567.1,744.3 583.5,754.3 583.5,759.3 567.1,749.3" fill="#5f8fe0" /><polygon points="567.1,744.3 596.1,734.3 612.5,744.3 583.5,754.3" fill="#bcc2cc" /><polygon points="567.1,744.3 573.5,742.1 589.9,752.1 583.5,754.3" fill="#6f9fe6" />
<polygon points="626.8,749.9 643.2,759.9 664.9,752.4 648.5,742.4" fill="#6f6048" />
<polygon points="614.2,769.9 643.2,759.9 643.2,764.9 614.2,774.9" fill="#7e838d" /><polygon points="597.8,759.9 614.2,769.9 614.2,774.9 597.8,764.9" fill="#5f8fe0" /><polygon points="597.8,759.9 626.8,749.9 643.2,759.9 614.2,769.9" fill="#bcc2cc" /><polygon points="597.8,759.9 604.2,757.7 620.6,767.7 614.2,769.9" fill="#6f9fe6" />
<polygon points="657.9,765.7 674.3,775.7 696.1,768.2 679.6,758.2" fill="#6f6048" />
<polygon points="645.3,785.7 674.3,775.7 674.3,780.7 645.3,790.7" fill="#7e838d" /><polygon points="628.9,775.7 645.3,785.7 645.3,790.7 628.9,780.7" fill="#5f8fe0" /><polygon points="628.9,775.7 657.9,765.7 674.3,775.7 645.3,785.7" fill="#bcc2cc" /><polygon points="628.9,775.7 635.3,773.5 651.7,783.5 645.3,785.7" fill="#6f9fe6" />
<polygon points="689.5,781.6 705.9,791.6 727.7,784.1 711.2,774.1" fill="#6f6048" />
<polygon points="676.9,801.6 705.9,791.6 705.9,796.6 676.9,806.6" fill="#7e838d" /><polygon points="660.5,791.6 676.9,801.6 676.9,806.6 660.5,796.6" fill="#5f8fe0" /><polygon points="660.5,791.6 689.5,781.6 705.9,791.6 676.9,801.6" fill="#bcc2cc" /><polygon points="660.5,791.6 666.9,789.4 683.3,799.4 676.9,801.6" fill="#6f9fe6" />
<polygon points="1043.4,643 1059.4,635 1036.5,624.8 1020.5,632.8" fill="#9a6a26" />
<polygon points="1059.4,635 1036.5,624.8 1036.5,627.8 1059.4,638" fill="#c4933c" />
<polygon points="1043.4,643 1070.4,655 1070.4,660 1043.4,648" fill="#8a8f98" /><polygon points="1070.4,655 1086.4,647 1086.4,652 1070.4,660" fill="#5f93e6" /><polygon points="1043.4,643 1070.4,655 1086.4,647 1059.4,635" fill="#c9ccd2" /><polygon points="1070.4,655 1063.7,652 1079.7,644 1086.4,647" fill="#6aa2ee" />
<polygon points="1015,656.5 1031,648.5 1008,638.3 992,646.3" fill="#9a6a26" />
<polygon points="1031,648.5 1008,638.3 1008,641.3 1031,651.5" fill="#c4933c" />
<polygon points="1015,656.5 1042,668.5 1042,673.5 1015,661.5" fill="#8a8f98" /><polygon points="1042,668.5 1058,660.5 1058,665.5 1042,673.5" fill="#5f93e6" /><polygon points="1015,656.5 1042,668.5 1058,660.5 1031,648.5" fill="#c9ccd2" /><polygon points="1042,668.5 1035.2,665.5 1051.2,657.5 1058,660.5" fill="#6aa2ee" />
<polygon points="986.6,670 1002.6,662 979.6,651.8 963.6,659.8" fill="#9a6a26" />
<polygon points="1002.6,662 979.6,651.8 979.6,654.8 1002.6,665" fill="#c4933c" />
<polygon points="986.6,670 1013.6,682 1013.6,687 986.6,675" fill="#8a8f98" /><polygon points="1013.6,682 1029.6,674 1029.6,679 1013.6,687" fill="#5f93e6" /><polygon points="986.6,670 1013.6,682 1029.6,674 1002.6,662" fill="#c9ccd2" /><polygon points="1013.6,682 1006.9,679 1022.8,671 1029.6,674" fill="#6aa2ee" />
<polygon points="958.2,683.5 974.2,675.5 951.2,665.3 935.2,673.3" fill="#9a6a26" />
<polygon points="974.2,675.5 951.2,665.3 951.2,668.3 974.2,678.5" fill="#c4933c" />
<polygon points="958.2,683.5 985.2,695.5 985.2,700.5 958.2,688.5" fill="#8a8f98" /><polygon points="985.2,695.5 1001.2,687.5 1001.2,692.5 985.2,700.5" fill="#5f93e6" /><polygon points="958.2,683.5 985.2,695.5 1001.2,687.5 974.2,675.5" fill="#c9ccd2" /><polygon points="985.2,695.5 978.5,692.5 994.5,684.5 1001.2,687.5" fill="#6aa2ee" />
<polygon points="929.8,697 945.8,689 922.8,678.8 906.8,686.8" fill="#9a6a26" />
<polygon points="945.8,689 922.8,678.8 922.8,681.8 945.8,692" fill="#c4933c" />
<polygon points="929.8,697 956.8,709 956.8,714 929.8,702" fill="#8a8f98" /><polygon points="956.8,709 972.8,701 972.8,706 956.8,714" fill="#5f93e6" /><polygon points="929.8,697 956.8,709 972.8,701 945.8,689" fill="#c9ccd2" /><polygon points="956.8,709 950,706 966,698 972.8,701" fill="#6aa2ee" />
<polygon points="901.4,710.5 917.4,702.5 894.4,692.3 878.4,700.3" fill="#9a6a26" />
<polygon points="917.4,702.5 894.4,692.3 894.4,695.3 917.4,705.5" fill="#c4933c" />
<polygon points="901.4,710.5 928.4,722.5 928.4,727.5 901.4,715.5" fill="#8a8f98" /><polygon points="928.4,722.5 944.4,714.5 944.4,719.5 928.4,727.5" fill="#5f93e6" /><polygon points="901.4,710.5 928.4,722.5 944.4,714.5 917.4,702.5" fill="#c9ccd2" /><polygon points="928.4,722.5 921.6,719.5 937.6,711.5 944.4,714.5" fill="#6aa2ee" />
<polygon points="873,724 889,716 866,705.8 850,713.8" fill="#9a6a26" />
<polygon points="889,716 866,705.8 866,708.8 889,719" fill="#c4933c" />
<polygon points="873,724 900,736 900,741 873,729" fill="#8a8f98" /><polygon points="900,736 916,728 916,733 900,741" fill="#5f93e6" /><polygon points="873,724 900,736 916,728 889,716" fill="#c9ccd2" /><polygon points="900,736 893.2,733 909.2,725 916,728" fill="#6aa2ee" />
<polygon points="844.6,737.5 860.6,729.5 837.6,719.3 821.6,727.3" fill="#9a6a26" />
<polygon points="860.6,729.5 837.6,719.3 837.6,722.3 860.6,732.5" fill="#c4933c" />
<polygon points="844.6,737.5 871.6,749.5 871.6,754.5 844.6,742.5" fill="#8a8f98" /><polygon points="871.6,749.5 887.6,741.5 887.6,746.5 871.6,754.5" fill="#5f93e6" /><polygon points="844.6,737.5 871.6,749.5 887.6,741.5 860.6,729.5" fill="#c9ccd2" /><polygon points="871.6,749.5 864.9,746.5 880.9,738.5 887.6,741.5" fill="#6aa2ee" />
<polygon points="816.2,751 832.2,743 809.2,732.8 793.2,740.8" fill="#9a6a26" />
<polygon points="832.2,743 809.2,732.8 809.2,735.8 832.2,746" fill="#c4933c" />
<polygon points="816.2,751 843.2,763 843.2,768 816.2,756" fill="#8a8f98" /><polygon points="843.2,763 859.2,755 859.2,760 843.2,768" fill="#5f93e6" /><polygon points="816.2,751 843.2,763 859.2,755 832.2,743" fill="#c9ccd2" /><polygon points="843.2,763 836.5,760 852.5,752 859.2,755" fill="#6aa2ee" />
<polygon points="787.8,764.5 803.8,756.5 780.8,746.3 764.8,754.3" fill="#9a6a26" />
<polygon points="803.8,756.5 780.8,746.3 780.8,749.3 803.8,759.5" fill="#c4933c" />
<polygon points="787.8,764.5 814.8,776.5 814.8,781.5 787.8,769.5" fill="#8a8f98" /><polygon points="814.8,776.5 830.8,768.5 830.8,773.5 814.8,781.5" fill="#5f93e6" /><polygon points="787.8,764.5 814.8,776.5 830.8,768.5 803.8,756.5" fill="#c9ccd2" /><polygon points="814.8,776.5 808,773.5 824,765.5 830.8,768.5" fill="#6aa2ee" />
<polygon points="759.4,778 775.4,770 752.4,759.8 736.4,767.8" fill="#9a6a26" />
<polygon points="775.4,770 752.4,759.8 752.4,762.8 775.4,773" fill="#c4933c" />
<polygon points="759.4,778 786.4,790 786.4,795 759.4,783" fill="#8a8f98" /><polygon points="786.4,790 802.4,782 802.4,787 786.4,795" fill="#5f93e6" /><polygon points="759.4,778 786.4,790 802.4,782 775.4,770" fill="#c9ccd2" /><polygon points="786.4,790 779.6,787 795.6,779 802.4,782" fill="#6aa2ee" />
<polygon points="731,791.5 747,783.5 724,773.3 708,781.3" fill="#9a6a26" />
<polygon points="747,783.5 724,773.3 724,776.3 747,786.5" fill="#c4933c" />
<polygon points="731,791.5 758,803.5 758,808.5 731,796.5" fill="#8a8f98" /><polygon points="758,803.5 774,795.5 774,800.5 758,808.5" fill="#5f93e6" /><polygon points="731,791.5 758,803.5 774,795.5 747,783.5" fill="#c9ccd2" /><polygon points="758,803.5 751.2,800.5 767.2,792.5 774,795.5" fill="#6aa2ee" />
<polygon points="708,786 730,786 733,806 721,811 706,806" fill="#c8912f" />
<polygon points="714,786 724,786 725,808 716,808" fill="#e2b24a" />
</g>
<g id="bronze">
<polygon points="385,608 404,600 420,606 400,616" fill="#6f6a50" />
<polygon points="385,608 714,757 715.5,787.5 385,633" fill="url(#gBrL)" />
<polygon points="714,757 1074,619 1074,642 715.5,787.5" fill="url(#gBrR)" />
<polygon points="385,608 714,757 1074,619 1052,612 714,748 404,601" fill="#d9aa4e" />
<polygon points="1040,596 1074,619 1046,628 1030,608" fill="#e0b552" />
<polyline points="385,609 714,758 1074,620" fill="none" stroke="#ecc878" stroke-width="1.6" opacity="0.9"/>
</g>
<g id="carrier">
<polygon points="401,575 711.5,731 714,757 399,606" fill="url(#gCarL)" />
<polygon points="711.5,731 1051,582.5 1047,612 714,757" fill="url(#gCarR)" />
<g filter="url(#b3)">
<polygon points="399,597 450,620 520,646 714,744 714,759 399,607" fill="#b8823c" opacity="0.7"/>
<polygon points="714,746 850,690 960,641 1047,601 1047,613 714,759" fill="#b8823c" opacity="0.65"/>
<polygon points="401,580 455,606 455,636 401,610" fill="#8f8070" opacity="0.75"/>
<polygon points="960,626 1047,588 1047,618 960,660" fill="#7f6a58" opacity="0.6"/>
</g>
<polygon points="462,608 512,632 512,645 462,621" fill="#e9e7e6" stroke="#b5b0aa" stroke-width="1" opacity="0.55"/>
<polygon points="520,636 572,661 572,674 520,649" fill="#e9e7e6" stroke="#b5b0aa" stroke-width="1" opacity="0.55"/>
<polygon points="585,668 640,694 640,706 585,680" fill="#e3e0dd" stroke="#b5b0aa" stroke-width="1" opacity="0.55"/>
<polygon points="940,636 1000,610 1000,622 940,648" fill="#dedbd8" stroke="#b5b0aa" stroke-width="1" opacity="0.55"/>
<polygon points="810,695 870,669 870,680 810,706" fill="#cfc4b4" stroke="#b5b0aa" stroke-width="1" opacity="0.55"/>
<polygon points="401,575 738,462 1051,582.5 711.5,731" fill="#eceae9" />
<polygon points="409,575 738,466 1043,582.5 712,724" fill="#c9c8cc" />
<polygon points="405,573 424,566 428,570 409,578" fill="#1d1d1d" />
<polygon points="1026,566 1046,575 1043,579 1023,570" fill="#151515" />
</g>
<g id="array">
<polygon points="422.5,558 721,690.5 721,721.5 422.5,582" fill="#1b4ec6" />
<polygon points="721,690.5 1022.5,562 1022.5,586 721,721.5" fill="#1a4cc4" />
<polygon points="424.2,562.7 434.8,567.4 434.8,584.7 424.2,579.8" fill="#2f8fe6" />
<polygon points="426.7,566.9 432.5,569.4 432.5,579.8 426.7,576.9" fill="#55c6ee" />
<polygon points="438.1,568.9 448.8,573.7 448.8,591.3 438.1,586.3" fill="#2f8fe6" />
<polygon points="440.6,573 446.5,575.7 446.5,586.3 440.6,583.4" fill="#55c6ee" />
<polygon points="452.2,575.2 462.9,579.9 462.9,597.9 452.2,592.9" fill="#2f8fe6" />
<polygon points="454.7,579.3 460.6,581.9 460.6,592.9 454.7,590" fill="#55c6ee" />
<polygon points="466.3,581.4 477.1,586.2 477.1,604.6 466.3,599.5" fill="#2f8fe6" />
<polygon points="468.9,585.6 474.8,588.2 474.8,599.6 468.9,596.7" fill="#55c6ee" />
<polygon points="480.5,587.8 491.4,592.6 491.4,611.3 480.5,606.2" fill="#2f8fe6" />
<polygon points="483.1,591.9 489.1,594.6 489.1,606.3 483.1,603.3" fill="#55c6ee" />
<polygon points="494.9,594.1 505.8,599 505.8,618.1 494.9,612.9" fill="#2f8fe6" />
<polygon points="497.5,598.3 503.5,601 503.5,613 497.5,610.1" fill="#55c6ee" />
<polygon points="509.3,600.5 520.4,605.4 520.4,624.9 509.3,619.7" fill="#2f8fe6" />
<polygon points="511.9,604.7 518,607.4 518,619.8 511.9,616.8" fill="#55c6ee" />
<polygon points="523.9,607 535,611.9 535,631.7 523.9,626.5" fill="#2f8fe6" />
<polygon points="526.5,611.2 532.7,613.9 532.7,626.7 526.5,623.7" fill="#55c6ee" />
<polygon points="538.5,613.5 549.7,618.5 549.7,638.6 538.5,633.3" fill="#2f8fe6" />
<polygon points="541.2,617.7 547.4,620.4 547.4,633.5 541.2,630.5" fill="#55c6ee" />
<polygon points="553.3,620.1 564.6,625.1 564.6,645.5 553.3,640.2" fill="#2f8fe6" />
<polygon points="556,624.2 562.2,627 562.2,640.5 556,637.4" fill="#55c6ee" />
<polygon points="568.1,626.7 579.5,631.7 579.5,652.5 568.1,647.2" fill="#2f8fe6" />
<polygon points="570.8,630.8 577.1,633.6 577.1,647.4 570.8,644.4" fill="#55c6ee" />
<polygon points="583.1,633.3 594.6,638.4 594.6,659.5 583.1,654.2" fill="#2f8fe6" />
<polygon points="585.8,637.5 592.2,640.3 592.2,654.5 585.8,651.4" fill="#55c6ee" />
<polygon points="598.2,640 609.7,645.1 609.7,666.6 598.2,661.2" fill="#2f8fe6" />
<polygon points="600.9,644.2 607.3,647 607.3,661.5 600.9,658.4" fill="#55c6ee" />
<polygon points="613.4,646.7 625,651.9 625,673.8 613.4,668.3" fill="#2f8fe6" />
<polygon points="616.1,651 622.6,653.8 622.6,668.7 616.1,665.5" fill="#55c6ee" />
<polygon points="628.7,653.5 640.4,658.7 640.4,680.9 628.7,675.5" fill="#2f8fe6" />
<polygon points="631.5,657.8 637.9,660.6 637.9,675.8 631.5,672.7" fill="#55c6ee" />
<polygon points="644.1,660.4 655.9,665.6 655.9,688.2 644.1,682.7" fill="#2f8fe6" />
<polygon points="646.9,664.6 653.4,667.5 653.4,683.1 646.9,679.9" fill="#55c6ee" />
<polygon points="659.6,667.3 671.5,672.5 671.5,695.4 659.6,689.9" fill="#2f8fe6" />
<polygon points="662.5,671.5 669,674.4 669,690.3 662.5,687.2" fill="#55c6ee" />
<polygon points="675.3,674.2 687.3,679.5 687.3,702.8 675.3,697.2" fill="#2f8fe6" />
<polygon points="678.1,678.5 684.7,681.4 684.7,697.7 678.1,694.5" fill="#55c6ee" />
<polygon points="691,681.2 703.1,686.6 703.1,710.2 691,704.5" fill="#2f8fe6" />
<polygon points="693.9,685.5 700.6,688.4 700.6,705 693.9,701.8" fill="#55c6ee" />
<polygon points="706.9,688.3 719.1,693.6 719.1,717.6 706.9,711.9" fill="#2f8fe6" />
<polygon points="709.8,692.5 716.5,695.5 716.5,712.5 709.8,709.2" fill="#55c6ee" />
<polygon points="723.4,693.5 735.6,688.3 735.6,692.3 723.4,697.5" fill="#f3d878" />
<polygon points="723.4,697.5 735.6,692.3 735.6,712 723.4,717.4" fill="#3a97ea" />
<polygon points="726.5,698.2 733.6,695.1 733.6,708.8 726.5,712.1" fill="#8fe0f8" />
<polygon points="740.3,686.3 752.4,681.1 752.4,685.1 740.3,690.3" fill="#f3d878" />
<polygon points="740.3,690.3 752.4,685.1 752.4,704.5 740.3,709.9" fill="#3a97ea" />
<polygon points="743.3,691 750.4,688 750.4,701.3 743.3,704.6" fill="#8fe0f8" />
<polygon points="757,679.1 768.9,674.1 768.9,678.1 757,683.1" fill="#f3d878" />
<polygon points="757,683.1 768.9,678.1 768.9,697.1 757,702.4" fill="#3a97ea" />
<polygon points="760,683.9 766.9,680.9 766.9,693.9 760,697.1" fill="#8fe0f8" />
<polygon points="773.5,672.1 785.2,667.1 785.2,671.1 773.5,676.1" fill="#f3d878" />
<polygon points="773.5,676.1 785.2,671.1 785.2,689.8 773.5,695" fill="#3a97ea" />
<polygon points="776.5,676.9 783.3,673.9 783.3,686.6 776.5,689.8" fill="#8fe0f8" />
<polygon points="789.8,665.2 801.4,660.2 801.4,664.2 789.8,669.2" fill="#f3d878" />
<polygon points="789.8,669.2 801.4,664.2 801.4,682.5 789.8,687.7" fill="#3a97ea" />
<polygon points="792.7,669.9 799.5,667.1 799.5,679.4 792.7,682.5" fill="#8fe0f8" />
<polygon points="805.9,658.3 817.3,653.5 817.3,657.5 805.9,662.3" fill="#f3d878" />
<polygon points="805.9,662.3 817.3,657.5 817.3,675.4 805.9,680.5" fill="#3a97ea" />
<polygon points="808.7,663.1 815.4,660.3 815.4,672.2 808.7,675.3" fill="#8fe0f8" />
<polygon points="821.7,651.6 833,646.8 833,650.8 821.7,655.6" fill="#f3d878" />
<polygon points="821.7,655.6 833,650.8 833,668.4 821.7,673.4" fill="#3a97ea" />
<polygon points="824.6,656.4 831.1,653.6 831.1,665.2 824.6,668.2" fill="#8fe0f8" />
<polygon points="837.4,644.9 848.5,640.1 848.5,644.1 837.4,648.9" fill="#f3d878" />
<polygon points="837.4,648.9 848.5,644.1 848.5,661.4 837.4,666.4" fill="#3a97ea" />
<polygon points="840.2,649.7 846.7,646.9 846.7,658.2 840.2,661.2" fill="#8fe0f8" />
<polygon points="852.8,638.3 863.9,633.6 863.9,637.6 852.8,642.3" fill="#f3d878" />
<polygon points="852.8,642.3 863.9,637.6 863.9,654.5 852.8,659.5" fill="#3a97ea" />
<polygon points="855.6,643.1 862,640.4 862,651.3 855.6,654.3" fill="#8fe0f8" />
<polygon points="868.1,631.8 879,627.2 879,631.2 868.1,635.8" fill="#f3d878" />
<polygon points="868.1,635.8 879,631.2 879,647.7 868.1,652.6" fill="#3a97ea" />
<polygon points="870.9,636.6 877.2,633.9 877.2,644.5 870.9,647.4" fill="#8fe0f8" />
<polygon points="883.2,625.4 894,620.8 894,624.8 883.2,629.4" fill="#f3d878" />
<polygon points="883.2,629.4 894,624.8 894,641 883.2,645.8" fill="#3a97ea" />
<polygon points="885.9,630.2 892.2,627.5 892.2,637.7 885.9,640.7" fill="#8fe0f8" />
<polygon points="898.1,619 908.7,614.5 908.7,618.5 898.1,623" fill="#f3d878" />
<polygon points="898.1,623 908.7,618.5 908.7,634.3 898.1,639.1" fill="#3a97ea" />
<polygon points="900.8,623.9 907,621.2 907,631.1 900.8,634" fill="#8fe0f8" />
<polygon points="912.8,612.7 923.3,608.3 923.3,612.3 912.8,616.7" fill="#f3d878" />
<polygon points="912.8,616.7 923.3,612.3 923.3,627.8 912.8,632.5" fill="#3a97ea" />
<polygon points="915.4,617.6 921.6,615 921.6,624.5 915.4,627.4" fill="#8fe0f8" />
<polygon points="927.4,606.6 937.7,602.1 937.7,606.1 927.4,610.6" fill="#f3d878" />
<polygon points="927.4,610.6 937.7,606.1 937.7,621.3 927.4,626" fill="#3a97ea" />
<polygon points="930,611.4 936,608.9 936,618 930,620.8" fill="#8fe0f8" />
<polygon points="941.7,600.4 952,596.1 952,600.1 941.7,604.4" fill="#f3d878" />
<polygon points="941.7,604.4 952,600.1 952,614.9 941.7,619.5" fill="#3a97ea" />
<polygon points="944.3,605.3 950.3,602.8 950.3,611.6 944.3,614.4" fill="#8fe0f8" />
<polygon points="955.9,594.4 966,590.1 966,594.1 955.9,598.4" fill="#f3d878" />
<polygon points="955.9,598.4 966,594.1 966,608.5 955.9,613.1" fill="#3a97ea" />
<polygon points="958.4,599.3 964.3,596.8 964.3,605.2 958.4,608" fill="#8fe0f8" />
<polygon points="969.9,588.4 979.9,584.1 979.9,588.1 969.9,592.4" fill="#f3d878" />
<polygon points="969.9,592.4 979.9,588.1 979.9,602.2 969.9,606.8" fill="#3a97ea" />
<polygon points="972.4,593.3 978.3,590.9 978.3,599 972.4,601.7" fill="#8fe0f8" />
<polygon points="983.8,582.5 993.6,578.3 993.6,582.3 983.8,586.5" fill="#f3d878" />
<polygon points="983.8,586.5 993.6,582.3 993.6,596 983.8,600.5" fill="#3a97ea" />
<polygon points="986.3,587.4 992,585 992,592.7 986.3,595.4" fill="#8fe0f8" />
<polygon points="997.5,576.7 1007.2,572.5 1007.2,576.5 997.5,580.7" fill="#f3d878" />
<polygon points="997.5,580.7 1007.2,576.5 1007.2,589.9 997.5,594.3" fill="#3a97ea" />
<polygon points="999.9,581.6 1005.6,579.2 1005.6,586.6 999.9,589.3" fill="#8fe0f8" />
<polygon points="1011,570.9 1020.6,566.8 1020.6,570.8 1011,574.9" fill="#f3d878" />
<polygon points="1011,574.9 1020.6,570.8 1020.6,583.8 1011,588.2" fill="#3a97ea" />
<polygon points="1013.4,575.9 1019,573.5 1019,580.5 1013.4,583.2" fill="#8fe0f8" />
<polygon points="422.5,558 721,690.5 721,694.5 422.5,561" fill="#cfd6df" />
<polygon points="721,690.5 1022.5,562 1022.5,565 721,694.5" fill="#dfe3ea" />
<polygon points="422.5,558 738,452 1022.5,562 721,690.5" fill="#e3e5ea" />
<polygon points="431.1,561.8 746.3,455.2 751.4,457.2 436.4,564.2" fill="#7fa3be" />
<polygon points="432.5,562.4 747.6,455.7 750.4,456.8 435.5,563.8" fill="#4f7f9f" />
<polygon points="445.1,568 759.7,460.4 764.9,462.4 450.5,570.4" fill="#7fa3be" />
<polygon points="446.5,568.7 761.1,460.9 763.9,462 449.5,570" fill="#4f7f9f" />
<polygon points="459.2,574.3 773.2,465.6 778.4,467.6 464.6,576.7" fill="#7fa3be" />
<polygon points="460.6,574.9 774.6,466.2 777.5,467.3 463.6,576.2" fill="#4f7f9f" />
<polygon points="473.4,580.6 786.8,470.9 792,472.9 478.8,583" fill="#7fa3be" />
<polygon points="474.8,581.2 788.2,471.4 791.1,472.5 477.8,582.6" fill="#4f7f9f" />
<polygon points="487.7,586.9 800.5,476.2 805.8,478.2 493.2,589.4" fill="#7fa3be" />
<polygon points="489.1,587.6 801.9,476.7 804.8,477.8 492.1,588.9" fill="#4f7f9f" />
<polygon points="502.1,593.3 814.3,481.5 819.6,483.5 507.6,595.8" fill="#7fa3be" />
<polygon points="503.5,594 815.7,482 818.6,483.2 506.6,595.3" fill="#4f7f9f" />
<polygon points="516.6,599.8 828.2,486.9 833.5,488.9 522.1,602.2" fill="#7fa3be" />
<polygon points="518,600.4 829.6,487.4 832.5,488.5 521.1,601.8" fill="#4f7f9f" />
<polygon points="531.2,606.2 842.1,492.3 847.5,494.3 536.8,608.7" fill="#7fa3be" />
<polygon points="532.7,606.9 843.5,492.8 846.5,493.9 535.7,608.3" fill="#4f7f9f" />
<polygon points="545.9,612.8 856.2,497.7 861.5,499.8 551.5,615.3" fill="#7fa3be" />
<polygon points="547.4,613.4 857.6,498.2 860.5,499.4 550.5,614.8" fill="#4f7f9f" />
<polygon points="560.7,619.3 870.3,503.2 875.7,505.2 566.4,621.9" fill="#7fa3be" />
<polygon points="562.2,620 871.7,503.7 874.7,504.9 565.3,621.4" fill="#4f7f9f" />
<polygon points="575.6,626 884.5,508.7 889.9,510.8 581.3,628.5" fill="#7fa3be" />
<polygon points="577.1,626.6 885.9,509.2 888.9,510.4 580.3,628" fill="#4f7f9f" />
<polygon points="590.6,632.6 898.8,514.2 904.3,516.3 596.4,635.2" fill="#7fa3be" />
<polygon points="592.2,633.3 900.3,514.7 903.3,515.9 595.3,634.7" fill="#4f7f9f" />
<polygon points="605.8,639.4 913.2,519.8 918.7,521.9 611.6,641.9" fill="#7fa3be" />
<polygon points="607.3,640 914.7,520.3 917.7,521.5 610.5,641.5" fill="#4f7f9f" />
<polygon points="621,646.1 927.7,525.4 933.3,527.5 626.9,648.7" fill="#7fa3be" />
<polygon points="622.6,646.8 929.2,525.9 932.3,527.1 625.8,648.2" fill="#4f7f9f" />
<polygon points="636.4,652.9 942.3,531 947.9,533.2 642.3,655.5" fill="#7fa3be" />
<polygon points="637.9,653.6 943.8,531.6 946.9,532.8 641.2,655.1" fill="#4f7f9f" />
<polygon points="651.9,659.8 957,536.7 962.6,538.9 657.8,662.4" fill="#7fa3be" />
<polygon points="653.4,660.5 958.5,537.3 961.6,538.5 656.7,662" fill="#4f7f9f" />
<polygon points="667.5,666.7 971.8,542.4 977.4,544.6 673.4,669.4" fill="#7fa3be" />
<polygon points="669,667.4 973.3,543 976.4,544.2 672.3,668.9" fill="#4f7f9f" />
<polygon points="683.2,673.7 986.7,548.2 992.4,550.3 689.2,676.4" fill="#7fa3be" />
<polygon points="684.7,674.4 988.2,548.7 991.3,549.9 688,675.9" fill="#4f7f9f" />
<polygon points="699,680.7 1001.7,553.9 1007.4,556.2 705,683.4" fill="#7fa3be" />
<polygon points="700.6,681.4 1003.2,554.5 1006.3,555.7 703.9,682.9" fill="#4f7f9f" />
<polygon points="714.9,687.8 1016.7,559.8 1022.5,562 721,690.5" fill="#7fa3be" />
<polygon points="716.5,688.5 1018.3,560.4 1021.4,561.6 719.9,690" fill="#4f7f9f" />
<polygon points="576.5,506.1 601.6,497.6 610.4,501.2 585.2,509.7" fill="#f0cdf6" />
<polygon points="575.4,506.1 586.2,502.5 595.9,506.5 585.2,510.1" fill="#9305b8" />
<polygon points="591.2,500.8 601.9,497.2 611.5,501.2 600.9,504.8" fill="#9305b8" />
<polygon points="590.2,511.7 615.3,503.2 624.1,506.8 599,515.4" fill="#f0cdf6" />
<polygon points="589.1,511.8 599.9,508.1 609.6,512.2 598.9,515.8" fill="#9305b8" />
<polygon points="604.9,506.4 615.5,502.8 625.2,506.8 614.6,510.5" fill="#9305b8" />
<polygon points="604,517.5 629,508.8 637.9,512.5 612.8,521.1" fill="#f0cdf6" />
<polygon points="602.9,517.5 613.6,513.8 623.5,517.9 612.8,521.6" fill="#9305b8" />
<polygon points="618.6,512.1 629.2,508.5 639,512.5 628.5,516.1" fill="#9305b8" />
<polygon points="617.8,523.2 642.9,514.5 651.8,518.2 626.8,526.9" fill="#f0cdf6" />
<polygon points="616.8,523.3 627.5,519.5 637.4,523.6 626.7,527.4" fill="#9305b8" />
<polygon points="632.5,517.8 643.1,514.1 652.9,518.2 642.4,521.9" fill="#9305b8" />
<polygon points="631.8,529 656.8,520.2 665.7,523.9 640.8,532.7" fill="#f0cdf6" />
<polygon points="630.8,529.1 641.4,525.3 651.4,529.4 640.7,533.2" fill="#9305b8" />
<polygon points="646.4,523.5 657,519.8 666.9,523.9 656.4,527.6" fill="#9305b8" />
<polygon points="581.4,557.7 731.1,504.5 740,508.1 590.6,561.6" fill="#f0cdf6" />
<polygon points="580.4,557.8 591.5,553.8 601.6,558.1 590.5,562.1" fill="#9305b8" />
<polygon points="596.8,552 607.8,548 617.9,552.3 606.9,556.2" fill="#9305b8" />
<polygon points="613,546.2 623.9,542.3 634,546.5 623.1,550.4" fill="#9305b8" />
<polygon points="629,540.5 639.8,536.7 649.8,540.9 639.1,544.7" fill="#9305b8" />
<polygon points="644.8,534.9 655.5,531.1 665.5,535.2 654.9,539.1" fill="#9305b8" />
<polygon points="660.5,529.3 671,525.6 681,529.7 670.5,533.5" fill="#9305b8" />
<polygon points="675.9,523.8 686.3,520.1 696.3,524.2 685.9,527.9" fill="#9305b8" />
<polygon points="691.2,518.4 701.5,514.7 711.4,518.8 701.2,522.5" fill="#9305b8" />
<polygon points="706.3,513 716.5,509.4 726.4,513.4 716.2,517.1" fill="#9305b8" />
<polygon points="721.2,507.7 731.3,504.2 741.2,508.1 731.1,511.7" fill="#9305b8" />
<polygon points="595.7,563.8 745.1,510.1 754.1,513.7 604.9,567.8" fill="#f0cdf6" />
<polygon points="594.6,563.9 605.8,559.9 616,564.2 604.8,568.2" fill="#9305b8" />
<polygon points="611,558 622,554 632.2,558.3 621.2,562.3" fill="#9305b8" />
<polygon points="627.2,552.2 638.1,548.3 648.2,552.5 637.3,556.5" fill="#9305b8" />
<polygon points="643.2,546.4 653.9,542.6 664.1,546.8 653.3,550.7" fill="#9305b8" />
<polygon points="659,540.8 669.6,536.9 679.7,541.1 669.1,545" fill="#9305b8" />
<polygon points="674.6,535.1 685.1,531.4 695.2,535.5 684.7,539.3" fill="#9305b8" />
<polygon points="690,529.6 700.4,525.9 710.4,530 700.1,533.7" fill="#9305b8" />
<polygon points="705.3,524.1 715.5,520.4 725.5,524.5 715.3,528.2" fill="#9305b8" />
<polygon points="720.3,518.7 730.5,515.1 740.5,519.1 730.3,522.7" fill="#9305b8" />
<polygon points="735.2,513.3 745.2,509.7 755.2,513.7 745.2,517.4" fill="#9305b8" />
<polygon points="610.1,570 759.1,515.7 768.2,519.4 619.4,573.9" fill="#f0cdf6" />
<polygon points="609,570 620.1,566 630.4,570.3 619.3,574.4" fill="#9305b8" />
<polygon points="625.4,564.1 636.4,560.1 646.6,564.4 635.6,568.4" fill="#9305b8" />
<polygon points="641.5,558.2 652.4,554.3 662.6,558.5 651.7,562.5" fill="#9305b8" />
<polygon points="657.5,552.4 668.2,548.5 678.4,552.7 667.7,556.7" fill="#9305b8" />
<polygon points="673.2,546.7 683.8,542.8 694,547 683.4,550.9" fill="#9305b8" />
<polygon points="688.8,541 699.3,537.2 709.4,541.4 699,545.2" fill="#9305b8" />
<polygon points="704.2,535.4 714.6,531.6 724.7,535.8 714.3,539.6" fill="#9305b8" />
<polygon points="719.4,529.9 729.6,526.1 739.7,530.2 729.5,534" fill="#9305b8" />
<polygon points="734.4,524.4 744.6,520.7 754.6,524.8 744.5,528.5" fill="#9305b8" />
<polygon points="749.3,519 759.3,515.4 769.4,519.4 759.4,523" fill="#9305b8" />
<polygon points="624.6,576.2 773.3,521.4 782.4,525 633.9,580.1" fill="#f0cdf6" />
<polygon points="623.5,576.2 634.6,572.1 644.9,576.5 633.8,580.6" fill="#9305b8" />
<polygon points="639.8,570.2 650.8,566.2 661.1,570.5 650.1,574.6" fill="#9305b8" />
<polygon points="655.9,564.3 666.8,560.3 677,564.6 666.2,568.6" fill="#9305b8" />
<polygon points="671.8,558.4 682.6,554.5 692.8,558.7 682.1,562.7" fill="#9305b8" />
<polygon points="687.6,552.6 698.2,548.7 708.4,553 697.8,556.9" fill="#9305b8" />
<polygon points="703.1,546.9 713.6,543.1 723.8,547.2 713.3,551.1" fill="#9305b8" />
<polygon points="718.5,541.3 728.8,537.4 739,541.6 728.7,545.4" fill="#9305b8" />
<polygon points="733.7,535.7 743.9,531.9 754,536 743.8,539.8" fill="#9305b8" />
<polygon points="748.7,530.1 758.8,526.4 768.9,530.5 758.8,534.2" fill="#9305b8" />
<polygon points="763.5,524.7 773.5,521 783.6,525.1 773.6,528.8" fill="#9305b8" />
<polygon points="639.2,582.4 787.6,527.1 796.7,530.8 648.5,586.4" fill="#f0cdf6" />
<polygon points="638.1,582.4 649.2,578.3 659.6,582.7 648.5,586.9" fill="#9305b8" />
<polygon points="654.3,576.4 665.3,572.3 675.7,576.7 664.7,580.8" fill="#9305b8" />
<polygon points="670.4,570.4 681.3,566.4 691.6,570.7 680.8,574.7" fill="#9305b8" />
<polygon points="686.3,564.5 697,560.5 707.3,564.8 696.7,568.8" fill="#9305b8" />
<polygon points="702,558.6 712.6,554.7 722.9,558.9 712.3,562.9" fill="#9305b8" />
<polygon points="717.5,552.8 728,549 738.2,553.2 727.8,557.1" fill="#9305b8" />
<polygon points="732.9,547.1 743.2,543.3 753.4,547.5 743.1,551.3" fill="#9305b8" />
<polygon points="748,541.5 758.2,537.7 768.4,541.8 758.2,545.7" fill="#9305b8" />
<polygon points="763,535.9 773,532.2 783.2,536.3 773.2,540.1" fill="#9305b8" />
<polygon points="777.8,530.4 787.7,526.7 797.9,530.8 788,534.5" fill="#9305b8" />
<polygon points="569.5,620.4 695.6,572.9 705,576.8 579.1,624.6" fill="#f0cdf6" />
<polygon points="763.5,547.3 872.7,506.2 881.8,509.7 772.8,551.1" fill="#f0cdf6" />
<polygon points="568.4,620.5 580.2,616 590.8,620.7 579,625.2" fill="#9305b8" />
<polygon points="585.7,614 597.3,609.6 607.9,614.2 596.3,618.6" fill="#9305b8" />
<polygon points="602.8,607.5 614.3,603.2 624.8,607.8 613.3,612.1" fill="#9305b8" />
<polygon points="619.6,601.2 631,596.9 641.5,601.4 630.2,605.7" fill="#9305b8" />
<polygon points="636.3,594.9 647.5,590.7 658,595.2 646.8,599.4" fill="#9305b8" />
<polygon points="652.7,588.7 663.8,584.5 674.3,589 663.2,593.2" fill="#9305b8" />
<polygon points="669,582.6 679.9,578.5 690.4,582.9 679.5,587" fill="#9305b8" />
<polygon points="685,576.5 695.8,572.5 706.3,576.8 695.5,580.9" fill="#9305b8" />
<polygon points="762.4,547.4 772.6,543.5 782.9,547.7 772.7,551.6" fill="#9305b8" />
<polygon points="777.4,541.7 787.4,538 797.7,542.1 787.7,545.9" fill="#9305b8" />
<polygon points="792.1,536.2 802.1,532.4 812.3,536.5 802.4,540.3" fill="#9305b8" />
<polygon points="806.7,530.7 816.5,527 826.8,531 816.9,534.8" fill="#9305b8" />
<polygon points="821.1,525.3 830.8,521.6 841,525.6 831.3,529.3" fill="#9305b8" />
<polygon points="835.4,519.9 845,516.3 855.1,520.2 845.6,523.9" fill="#9305b8" />
<polygon points="849.5,514.6 859,511 869.1,514.9 859.6,518.5" fill="#9305b8" />
<polygon points="863.4,509.3 872.8,505.8 882.9,509.7 873.5,513.3" fill="#9305b8" />
<polygon points="584.5,627 710.3,579 719.8,583 594.1,631.3" fill="#f0cdf6" />
<polygon points="778,553.2 886.9,511.7 896.1,515.2 787.4,557" fill="#f0cdf6" />
<polygon points="583.4,627.1 595.1,622.6 605.8,627.3 594,631.8" fill="#9305b8" />
<polygon points="600.6,620.5 612.2,616.1 622.9,620.7 611.3,625.2" fill="#9305b8" />
<polygon points="617.7,614 629.1,609.6 639.7,614.3 628.3,618.7" fill="#9305b8" />
<polygon points="634.5,607.6 645.8,603.3 656.4,607.9 645.1,612.2" fill="#9305b8" />
<polygon points="651.1,601.3 662.3,597 672.9,601.5 661.7,605.8" fill="#9305b8" />
<polygon points="667.5,595 678.6,590.8 689.1,595.3 678.1,599.5" fill="#9305b8" />
<polygon points="683.7,588.8 694.6,584.7 705.2,589.1 694.3,593.3" fill="#9305b8" />
<polygon points="699.8,582.7 710.5,578.6 721,583 710.3,587.1" fill="#9305b8" />
<polygon points="777,553.3 787.1,549.4 797.5,553.6 787.4,557.5" fill="#9305b8" />
<polygon points="791.9,547.6 801.9,543.8 812.2,547.9 802.2,551.8" fill="#9305b8" />
<polygon points="806.6,542 816.5,538.2 826.8,542.3 816.9,546.1" fill="#9305b8" />
<polygon points="821.1,536.4 830.9,532.7 841.2,536.8 831.4,540.5" fill="#9305b8" />
<polygon points="835.5,531 845.2,527.3 855.5,531.3 845.8,535" fill="#9305b8" />
<polygon points="849.7,525.5 859.3,521.9 869.5,525.9 860,529.6" fill="#9305b8" />
<polygon points="863.8,520.2 873.3,516.6 883.5,520.5 874,524.2" fill="#9305b8" />
<polygon points="877.7,514.9 887,511.3 897.2,515.2 887.9,518.8" fill="#9305b8" />
<polygon points="667.1,607.6 725.1,585.2 734.7,589.2 676.7,611.8" fill="#f0cdf6" />
<polygon points="792.6,559.2 845.3,538.8 854.6,542.6 802.1,563" fill="#f0cdf6" />
<polygon points="598.4,633.8 610.1,629.2 620.9,634 609.2,638.5" fill="#9305b8" />
<polygon points="666,607.7 677.2,603.4 687.8,607.9 676.7,612.3" fill="#9305b8" />
<polygon points="682.4,601.4 693.4,597.1 704,601.6 693,605.9" fill="#9305b8" />
<polygon points="698.6,595.1 709.5,590.9 720.1,595.4 709.2,599.6" fill="#9305b8" />
<polygon points="714.6,589 725.3,584.8 735.9,589.2 725.1,593.4" fill="#9305b8" />
<polygon points="791.6,559.2 801.7,555.3 812.2,559.5 802.1,563.5" fill="#9305b8" />
<polygon points="806.5,553.5 816.5,549.6 826.9,553.8 816.9,557.7" fill="#9305b8" />
<polygon points="821.2,547.8 831,544 841.4,548.2 831.6,552" fill="#9305b8" />
<polygon points="835.7,542.2 845.4,538.5 855.8,542.6 846,546.4" fill="#9305b8" />
<polygon points="892.1,520.5 901.4,516.9 911.6,520.8 902.3,524.5" fill="#9305b8" />
<polygon points="682.2,614.1 740,591.5 749.6,595.5 691.8,618.2" fill="#f0cdf6" />
<polygon points="807.4,565.2 859.9,544.6 869.3,548.4 816.9,569" fill="#f0cdf6" />
<polygon points="613.6,640.5 625.3,635.9 636.1,640.7 624.4,645.3" fill="#9305b8" />
<polygon points="681.1,614.1 692.2,609.8 702.9,614.4 691.8,618.8" fill="#9305b8" />
<polygon points="697.4,607.8 708.4,603.5 719.1,608 708.1,612.3" fill="#9305b8" />
<polygon points="713.5,601.5 724.4,597.2 735.1,601.7 724.2,606" fill="#9305b8" />
<polygon points="729.5,595.2 740.2,591 750.9,595.5 740.1,599.7" fill="#9305b8" />
<polygon points="806.3,565.2 816.4,561.3 826.9,565.5 816.9,569.5" fill="#9305b8" />
<polygon points="821.2,559.4 831.1,555.5 841.6,559.7 831.7,563.7" fill="#9305b8" />
<polygon points="835.8,553.7 845.7,549.9 856.1,554 846.3,557.9" fill="#9305b8" />
<polygon points="850.3,548.1 860,544.2 870.5,548.4 860.7,552.2" fill="#9305b8" />
<polygon points="906.5,526.1 915.8,522.5 926.1,526.4 916.9,530.1" fill="#9305b8" />
<polygon points="697.3,620.6 755,597.8 764.7,601.8 707,624.8" fill="#f0cdf6" />
<polygon points="822.2,571.2 874.6,550.5 884.1,554.2 831.8,575.1" fill="#f0cdf6" />
<polygon points="628.9,647.3 640.5,642.7 651.4,647.5 639.8,652.1" fill="#9305b8" />
<polygon points="696.2,620.7 707.3,616.3 718.1,620.9 707,625.3" fill="#9305b8" />
<polygon points="712.5,614.2 723.5,609.9 734.2,614.4 723.3,618.8" fill="#9305b8" />
<polygon points="728.6,607.8 739.4,603.6 750.2,608.1 739.4,612.4" fill="#9305b8" />
<polygon points="744.5,601.6 755.2,597.3 765.9,601.8 755.2,606.1" fill="#9305b8" />
<polygon points="821.2,571.2 831.2,567.3 841.8,571.5 831.8,575.6" fill="#9305b8" />
<polygon points="836,565.4 845.9,561.5 856.5,565.7 846.5,569.7" fill="#9305b8" />
<polygon points="850.6,559.6 860.4,555.7 870.9,559.9 861.1,563.9" fill="#9305b8" />
<polygon points="865,553.9 874.7,550.1 885.2,554.2 875.5,558.1" fill="#9305b8" />
<polygon points="921.1,531.7 930.4,528.1 940.7,532.1 931.5,535.8" fill="#9305b8" />
<polygon points="712.5,627.1 770.1,604.1 779.9,608.2 722.4,631.4" fill="#f0cdf6" />
<polygon points="837.2,577.3 889.4,556.3 898.9,560.1 846.8,581.2" fill="#f0cdf6" />
<polygon points="644.2,654.1 655.9,649.4 666.9,654.3 655.2,659" fill="#9305b8" />
<polygon points="711.4,627.2 722.5,622.8 733.4,627.4 722.3,631.9" fill="#9305b8" />
<polygon points="727.7,620.7 738.7,616.3 749.5,620.9 738.6,625.3" fill="#9305b8" />
<polygon points="743.8,614.3 754.6,609.9 765.4,614.5 754.6,618.9" fill="#9305b8" />
<polygon points="759.6,607.9 770.3,603.6 781.1,608.2 770.4,612.5" fill="#9305b8" />
<polygon points="836.1,577.3 846.2,573.3 856.8,577.6 846.8,581.7" fill="#9305b8" />
<polygon points="850.9,571.4 860.8,567.4 871.4,571.7 861.5,575.7" fill="#9305b8" />
<polygon points="865.4,565.6 875.2,561.7 885.8,565.9 876,569.8" fill="#9305b8" />
<polygon points="879.8,559.8 889.5,555.9 900.1,560.1 890.4,564" fill="#9305b8" />
<polygon points="935.7,537.4 945,533.7 955.4,537.8 946.2,541.5" fill="#9305b8" />
<polygon points="727.9,633.7 785.4,610.5 795.2,614.6 737.8,638" fill="#f0cdf6" />
<polygon points="852.2,583.4 904.3,562.3 913.9,566.1 861.9,587.3" fill="#f0cdf6" />
<polygon points="659.7,661 671.4,656.3 682.4,661.1 670.8,665.9" fill="#9305b8" />
<polygon points="726.8,633.8 737.8,629.3 748.8,634 737.8,638.5" fill="#9305b8" />
<polygon points="743,627.2 753.9,622.8 764.9,627.5 754,631.9" fill="#9305b8" />
<polygon points="759,620.7 769.8,616.4 780.7,621 770,625.4" fill="#9305b8" />
<polygon points="774.9,614.3 785.5,610 796.4,614.6 785.8,618.9" fill="#9305b8" />
<polygon points="851.1,583.4 861.2,579.4 871.9,583.7 861.9,587.8" fill="#9305b8" />
<polygon points="865.9,577.5 875.8,573.5 886.4,577.8 876.6,581.8" fill="#9305b8" />
<polygon points="880.4,571.6 890.2,567.6 900.8,571.9 891.1,575.9" fill="#9305b8" />
<polygon points="894.7,565.8 904.4,561.9 915,566.1 905.4,570" fill="#9305b8" />
<polygon points="950.5,543.2 959.7,539.4 970.2,543.5 961,547.3" fill="#9305b8" />
<polygon points="743.4,640.4 800.7,616.9 810.5,621 753.3,644.7" fill="#f0cdf6" />
<polygon points="867.3,589.5 919.3,568.2 928.9,572 877.1,593.5" fill="#f0cdf6" />
<polygon points="675.4,667.9 687,663.1 698.1,668 686.5,672.8" fill="#9305b8" />
<polygon points="742.2,640.5 753.3,635.9 764.3,640.7 753.3,645.2" fill="#9305b8" />
<polygon points="758.4,633.8 769.3,629.4 780.3,634 769.5,638.5" fill="#9305b8" />
<polygon points="774.4,627.3 785.2,622.9 796.2,627.5 785.4,631.9" fill="#9305b8" />
<polygon points="790.2,620.8 800.8,616.4 811.8,621 801.2,625.4" fill="#9305b8" />
<polygon points="866.3,589.6 876.3,585.5 887.1,589.9 877.1,594" fill="#9305b8" />
<polygon points="881,583.6 890.8,579.5 901.6,583.8 891.7,587.9" fill="#9305b8" />
<polygon points="895.4,577.6 905.2,573.6 915.9,577.9 906.2,581.9" fill="#9305b8" />
<polygon points="909.8,571.8 919.4,567.8 930.1,572 920.5,576" fill="#9305b8" />
<polygon points="965.4,548.9 974.6,545.2 985.1,549.3 976,553.1" fill="#9305b8" />
<polygon points="758.9,647.1 816.1,623.3 826,627.5 769,651.4" fill="#f0cdf6" />
<polygon points="882.6,595.7 934.4,574.2 944.1,578.1 892.4,599.7" fill="#f0cdf6" />
<polygon points="691.1,674.9 702.7,670.1 713.9,675 702.3,679.9" fill="#9305b8" />
<polygon points="757.8,647.2 768.8,642.6 779.9,647.3 769,651.9" fill="#9305b8" />
<polygon points="774,640.5 784.8,635.9 795.9,640.6 785.1,645.2" fill="#9305b8" />
<polygon points="789.9,633.8 800.7,629.4 811.7,634 801,638.5" fill="#9305b8" />
<polygon points="805.7,627.3 816.3,622.9 827.3,627.5 816.7,631.9" fill="#9305b8" />
<polygon points="881.5,595.8 891.5,591.6 902.4,596 892.4,600.2" fill="#9305b8" />
<polygon points="896.2,589.7 906,585.6 916.8,590 907,594.1" fill="#9305b8" />
<polygon points="910.6,583.7 920.3,579.7 931.1,584 921.4,588.1" fill="#9305b8" />
<polygon points="924.9,577.8 934.5,573.8 945.3,578.1 935.7,582.1" fill="#9305b8" />
<polygon points="980.3,554.8 989.5,551 1000.1,555.1 991,558.9" fill="#9305b8" />
<polygon points="774.6,653.8 831.6,629.9 841.6,634 784.7,658.2" fill="#f0cdf6" />
<polygon points="897.9,602 949.6,580.2 959.4,584.1 907.8,606" fill="#f0cdf6" />
<polygon points="707,681.9 718.5,677 729.8,682 718.3,686.9" fill="#9305b8" />
<polygon points="773.5,653.9 784.5,649.3 795.7,654.1 784.7,658.7" fill="#9305b8" />
<polygon points="789.6,647.1 800.5,642.6 811.6,647.3 800.8,651.9" fill="#9305b8" />
<polygon points="805.5,640.4 816.2,635.9 827.4,640.6 816.7,645.2" fill="#9305b8" />
<polygon points="821.2,633.8 831.8,629.4 842.9,634 832.3,638.5" fill="#9305b8" />
<polygon points="896.9,602 906.8,597.8 917.8,602.3 907.8,606.5" fill="#9305b8" />
<polygon points="911.5,595.9 921.3,591.8 932.2,596.1 922.4,600.3" fill="#9305b8" />
<polygon points="925.9,589.8 935.6,585.8 946.4,590.1 936.8,594.2" fill="#9305b8" />
<polygon points="940.1,583.8 949.7,579.8 960.5,584.1 951,588.2" fill="#9305b8" />
<polygon points="995.4,560.6 1004.5,556.8 1015.2,560.9 1006.1,564.8" fill="#9305b8" />
</g>
<g id="wave">
<g filter="url(#b10)" opacity="0.42"><polygon points="231,640 420,620 620,750 560,850 400,850 231,780" fill="#59606e" /></g>
<g filter="url(#b10)" opacity="0.42">
<polygon points="231.1,713.1 263.9,621.1 357.9,590.5 409,672.2 572.6,733.6 580.8,807.2 480.6,854.3 409,876.8 302.7,842 231.1,790.9" fill="#6aa8ff" />
</g>
<g fill="none" stroke-linejoin="round" stroke-linecap="round">
<g filter="url(#b6)" stroke="#2f7bff" stroke-width="16" opacity="0.75">
<polyline points="231.1,717.2 247.5,711.1 253.6,692.7 260.8,690.7 263.9,621.1 292.5,614 300.7,637.5 306.8,680.4 321.1,681.5 329.3,600.7 357.9,590.5 368.1,637.5 372.2,647.7 405,641.6 409,713.1 484.7,681.5 497,762.2 570.6,731.6 580.8,807.2 640.1,782.7"/>
<polyline points="231.1,785.7 251.6,776.5 255.7,690.7 284.3,683.5 293.5,763.3 366.1,736.7 388.6,718.3 400.9,796 460.2,772.5 463.2,692.7"/>
<polyline points="302.7,842 373.3,814.4 366.1,736.7"/>
<polyline points="384.5,895.2 413.1,886 419.3,790.9"/>
<polyline points="460.2,772.5 480.6,854.3 515.4,842 525.6,754"/>
</g>
<g filter="url(#b2)" stroke="#59a7ff" stroke-width="8" opacity="0.95">
<polyline points="231.1,717.2 247.5,711.1 253.6,692.7 260.8,690.7 263.9,621.1 292.5,614 300.7,637.5 306.8,680.4 321.1,681.5 329.3,600.7 357.9,590.5 368.1,637.5 372.2,647.7 405,641.6 409,713.1 484.7,681.5 497,762.2 570.6,731.6 580.8,807.2 640.1,782.7"/>
<polyline points="231.1,785.7 251.6,776.5 255.7,690.7 284.3,683.5 293.5,763.3 366.1,736.7 388.6,718.3 400.9,796 460.2,772.5 463.2,692.7"/>
<polyline points="302.7,842 373.3,814.4 366.1,736.7"/>
<polyline points="384.5,895.2 413.1,886 419.3,790.9"/>
<polyline points="460.2,772.5 480.6,854.3 515.4,842 525.6,754"/>
</g>
<g stroke="#e4f4ff" stroke-width="3">
<polyline points="232.6,718.7 237.9,712.8 248.6,711.9 251.1,701.3 254,693 257.5,690.6 260.6,690.3 261.9,682.3 263.1,670.9 261.9,660.1 261.1,649.4 262.9,640.4 263,632.3 263.9,621.3 272.6,617.2 282.4,615.2 292.5,615.6 297.1,624.7 301.9,638.4 302.9,649.5 304.6,659.9 304.8,671.2 308.3,679.3 314.8,681.6 321,681.5 322,673.8 322.9,664.6 323.4,655.8 326,645.4 325.9,637.9 327.3,627.6 326.6,618.1 329,608.6 330.6,599.9 340.2,596.7 349.8,594.5 357.9,590.5 360.5,600.1 361.4,608.3 364.1,620.1 366.5,626.7 369.2,638.2 371.5,641.6 373,646.3 383.6,644.9 393.2,644.8 403.7,641.6 406.7,651 405.2,663.2 406.5,672.9 405.8,682 406.8,693.3 407.1,704.4 407.5,713.9 415.9,708.8 426.9,705 433.3,703.2 442.3,697.6 452.7,694.4 458,691.5 468.3,689.3 475.1,684.5 483.2,681.3 486.9,691.2 488.7,700.2 490,709 490.1,716.5 492,725.7 491.6,735.1 495.5,743.1 495.9,752.9 497,761.1 507.7,757.6 515.7,754.3 523.1,750.9 532.6,745.5 541.5,742 550.9,739.7 561.4,736.9 572,733.1 571,740.8 572.4,750.8 574.8,760.9 576.4,768.6 576.7,778.9 576.7,786.8 579.3,796.5 581.5,806.4 588,802.7 596.9,799.3 606.3,796.6 614.1,793.7 622.3,791 633.1,786.9 640.1,782.7"/>
<polyline points="230.9,785.8 241.6,779.7 251.3,776.6 251,765.7 253.5,757 253,749.3 253.8,737.7 255.4,728.4 252.8,719.9 253.5,709.1 256.3,700.8 254.1,690.5 264.9,688.2 273.8,686.2 282.9,682.8 285,694.9 285.3,704.3 286.8,713.6 288.6,723.3 290.9,733 290,742.1 291,754.4 294,764.7 303.2,758.4 312.2,757.5 321.4,753.3 329.4,749.8 339.8,745.9 348,743.2 358.5,741 367.5,737.7 373,729.7 381.1,723.6 388.4,718.8 391.5,728.3 392.7,736.4 392.7,749 393.6,756.9 394.9,765.5 399.1,778.1 399.8,785.1 400.2,795.1 409.9,793.2 417.6,789.3 425,786 436.2,783.4 441.9,779.2 452.4,775 461.4,772.3 461.2,762.2 462.5,753.4 461.6,741.4 461.5,731.1 462.4,723.8 461.5,712.7 462.8,702.4 463.2,692.7"/>
<polyline points="303.4,843.4 312.2,838.4 321.8,834.5 330,832.1 338.8,829.3 345.9,825.1 355.3,821.8 366,818.3 371.7,814.3 373,805.9 372,796 369,786.7 370.4,775.9 370.1,767 366.6,757.1 367.9,745.4 366.1,736.7"/>
<polyline points="385.3,895.4 393.1,893.1 402.4,889.4 412.9,885.2 414,876.3 413.4,868.4 413.6,855.8 415.5,849 416.7,839.2 416.8,829.5 416.9,818.6 418.1,808.4 417.3,801.2 419.3,790.9"/>
<polyline points="459.1,773.3 463.4,781.2 465.3,791.6 468.2,798.6 468.2,808.4 471.4,817.2 472.2,827.2 477.6,835.6 478.5,844.8 480.4,855.4 488.7,851.7 498,848.2 508,843.7 516.4,841.4 517,833.2 518.2,822.1 519.9,811.4 520.4,802.6 521.2,794.3 523.2,783.8 522.7,772.7 524.3,763 525.6,754"/>
</g></g>
</g>
</g>
<g id="beam">
<g filter="url(#b10)">
<polygon points="680,30 764,30 1095,375 350,370" fill="url(#gBeam)" />
</g>
<g filter="url(#b3)">
<polygon points="682,30 686,30 378.4,350.5 363.2,350.5" fill="url(#gRay)" opacity="0.62"/>
<polygon points="685.1,30 689.1,30 410.1,344.8 399.9,344.8" fill="url(#gRay)" opacity="0.73"/>
<polygon points="688.2,30 692.2,30 439.1,346.8 415.2,346.8" fill="url(#gRay)" opacity="0.56"/>
<polygon points="691.4,30 695.4,30 473.9,349.7 454.9,349.7" fill="url(#gRay)" opacity="0.42"/>
<polygon points="694.5,30 698.5,30 497.8,354.4 480.5,354.4" fill="url(#gRay)" opacity="0.68"/>
<polygon points="697.6,30 701.6,30 528.1,344.8 507.4,344.8" fill="url(#gRay)" opacity="0.62"/>
<polygon points="700.7,30 704.7,30 550.9,344.4 528.8,344.4" fill="url(#gRay)" opacity="0.56"/>
<polygon points="703.8,30 707.8,30 584.5,354.5 564.5,354.5" fill="url(#gRay)" opacity="0.76"/>
<polygon points="707,30 711,30 605.4,353.6 589.2,353.6" fill="url(#gRay)" opacity="0.77"/>
<polygon points="710.1,30 714.1,30 639,345.2 627.1,345.2" fill="url(#gRay)" opacity="0.45"/>
<polygon points="713.2,30 717.2,30 671.8,349.2 653.1,349.2" fill="url(#gRay)" opacity="0.49"/>
<polygon points="716.3,30 720.3,30 690.6,348.6 675.7,348.6" fill="url(#gRay)" opacity="0.61"/>
<polygon points="719.4,30 723.4,30 722.1,354.9 702.6,354.9" fill="url(#gRay)" opacity="0.77"/>
<polygon points="722.6,30 726.6,30 754.4,355.9 735,355.9" fill="url(#gRay)" opacity="0.42"/>
<polygon points="725.7,30 729.7,30 784.1,355.6 761.4,355.6" fill="url(#gRay)" opacity="0.61"/>
<polygon points="728.8,30 732.8,30 809.2,346.5 787.6,346.5" fill="url(#gRay)" opacity="0.61"/>
<polygon points="731.9,30 735.9,30 830.5,344.8 808.6,344.8" fill="url(#gRay)" opacity="0.80"/>
<polygon points="735,30 739,30 852.3,353.6 836.5,353.6" fill="url(#gRay)" opacity="0.42"/>
<polygon points="738.2,30 742.2,30 886.8,353.2 864.6,353.2" fill="url(#gRay)" opacity="0.37"/>
<polygon points="741.3,30 745.3,30 918.9,344.5 898.8,344.5" fill="url(#gRay)" opacity="0.50"/>
<polygon points="744.4,30 748.4,30 949.6,355.8 932.6,355.8" fill="url(#gRay)" opacity="0.80"/>
<polygon points="747.5,30 751.5,30 969.2,344.9 950.8,344.9" fill="url(#gRay)" opacity="0.36"/>
<polygon points="750.6,30 754.6,30 995.4,348.9 976.9,348.9" fill="url(#gRay)" opacity="0.42"/>
<polygon points="753.8,30 757.8,30 1018.9,354.4 1004.5,354.4" fill="url(#gRay)" opacity="0.78"/>
<polygon points="756.9,30 760.9,30 1061.6,348.5 1045.1,348.5" fill="url(#gRay)" opacity="0.58"/>
<polygon points="760,30 764,30 1086.2,351.1 1068.4,351.1" fill="url(#gRay)" opacity="0.63"/>
</g>
<g filter="url(#b2)"><polygon points="678,30 766,30 784,58 660,58" fill="#b070ff" opacity="0.5"/></g>
<rect x="600" y="0" width="260" height="29" fill="#fff"/>
</g>
<g id="mask">
<polygon points="1034.7,316.4 726.5,230.2 726.5,238.9 1034.7,328.7" fill="#bfae55" />
<polygon points="737.1,231.2 414.6,311.4 414.6,322 737.1,240" fill="#c9b94e" />
<polygon points="670,283.8 598.8,261.8 598.8,271.2 670,294.1" fill="#bfae55" />
<polygon points="726.2,269.1 670,283.8 670,294.1 726.2,279.1" fill="#c9b94e" />
<polygon points="875.1,269.7 799.1,290.7 799.1,301.6 875.1,280" fill="#c9b94e" />
<polygon points="799.1,290.7 726.2,269.1 726.2,279.1 799.1,301.6" fill="#bfae55" />
<polygon points="634.7,292.2 567.9,309.6 567.9,320.6 634.7,302.7" fill="#c9b94e" />
<polygon points="960.4,336.5 837,300.1 837,311.4 960.4,349.4" fill="#bfae55" />
<polygon points="995.1,325.7 960.4,336.5 960.4,349.4 995.2,338.2" fill="#c9b94e" />
<polygon points="841.6,373.6 686.9,323.5 686.9,335.2 841.6,387.4" fill="#bfae55" />
<polygon points="639.9,333.8 547.6,359.3 547.5,371.8 639.9,345.7" fill="#c9b94e" />
<polygon points="916.7,350.2 841.6,373.6 841.6,387.4 916.8,363.3" fill="#c9b94e" />
<polygon points="754.4,400.9 631.2,358.2 631.2,370.9 754.5,415.4" fill="#bfae55" />
<polygon points="796.5,387.7 754.4,400.9 754.5,415.4 796.5,401.9" fill="#c9b94e" />
<polygon points="1038.5,315.2 1034.7,316.4 1034.7,328.7 1038.5,327.5" fill="#cdbb40" />
<polygon points="414.6,311.4 408,309 408,319.5 414.6,322" fill="#b29d33" />
<polygon points="547.6,359.3 408,309 408,319.5 547.5,371.8" fill="#b29d33" />
<polygon points="1038.5,315.2 710.7,418 710.7,433 1038.5,327.5" fill="#cdbb40" />
<polygon points="710.7,418 408,309 408,319.5 710.7,433" fill="#b29d33" />
<polygon points="710.7,418 702.1,414.9 702.1,429.8 710.7,433" fill="#b29d33" />
<polygon points="720,415.1 710.7,418 710.7,433 720,430" fill="#cdbb40" />
<polygon points="408,309 730.3,229.3 737.1,231.2 414.6,311.4" fill="url(#gMaskTop)" stroke="#e0d358" stroke-width="0.8"/>
<polygon points="726.5,230.2 730.3,229.3 1038.5,315.2 1034.7,316.4" fill="url(#gMaskTop)" stroke="#e0d358" stroke-width="0.8"/>
<polygon points="702.1,414.9 1029.8,312.8 1038.5,315.2 710.7,418" fill="url(#gMaskTop)" stroke="#e0d358" stroke-width="0.8"/>
<polygon points="408,309 417,306.8 720,415.1 710.7,418" fill="url(#gMaskTop)" stroke="#e0d358" stroke-width="0.8"/>
<polygon points="408,309 565.2,270.1 634.7,292.2 567.9,309.6 639.9,333.8 547.6,359.3" fill="url(#gMaskTop)" stroke="#e0d358" stroke-width="0.8"/>
<polygon points="598.8,261.8 730.3,229.3 875.1,269.7 799.1,290.7 726.2,269.1 670,283.8" fill="url(#gMaskTop)" stroke="#e0d358" stroke-width="0.8"/>
<polygon points="686.9,323.5 761.6,302.8 916.7,350.2 841.6,373.6" fill="url(#gMaskTop)" stroke="#e0d358" stroke-width="0.8"/>
<polygon points="837,300.1 871.7,290.2 995.1,325.7 960.4,336.5" fill="url(#gMaskTop)" stroke="#e0d358" stroke-width="0.8"/>
<polygon points="631.2,358.2 673,346.3 796.5,387.7 754.4,400.9" fill="url(#gMaskTop)" stroke="#e0d358" stroke-width="0.8"/>
<g filter="url(#b3)" opacity="0.35">
<polygon points="526.4,329.2 582.2,314.4 639.9,333.8 583.8,349.3" fill="#f4eda0" />
<polygon points="615.3,260.8 676.8,245.5 727.1,260.1 665.3,276.1" fill="#f4eda0" />
<polygon points="701.6,321.3 764.7,303.8 854,331 790.7,349.9" fill="#f4eda0" />
<polygon points="841,300.4 874.3,291 966,317.3 932.7,327.5" fill="#f4eda0" />
<polygon points="636.5,358.6 676.1,347.4 767.3,378 727.5,390.1" fill="#f4eda0" />
</g>
</g>
<g id="hist">
<rect x="1740.3" y="927.2" width="75.3" height="6.8" fill="#d6b4df" stroke="#3c2c42" stroke-width="2.6" stroke-linejoin="round"/>
<rect x="1815.6" y="918.7" width="37.7" height="15.3" fill="#d6b4df" stroke="#3c2c42" stroke-width="2.6" stroke-linejoin="round"/>
<rect x="1853.2" y="918.7" width="37.7" height="15.3" fill="#d6b4df" stroke="#3c2c42" stroke-width="2.6" stroke-linejoin="round"/>
<rect x="1890.9" y="700" width="75.3" height="234" fill="#d6b4df" stroke="#3c2c42" stroke-width="2.6" stroke-linejoin="round"/>
<rect x="1966.2" y="349" width="75.3" height="585" fill="#d6b4df" stroke="#3c2c42" stroke-width="2.6" stroke-linejoin="round"/>
<rect x="2041.5" y="242.2" width="75.3" height="691.8" fill="#d6b4df" stroke="#3c2c42" stroke-width="2.6" stroke-linejoin="round"/>
<rect x="2116.8" y="765.3" width="75.3" height="168.7" fill="#d6b4df" stroke="#3c2c42" stroke-width="2.6" stroke-linejoin="round"/>
<rect x="2192.1" y="915.3" width="37.7" height="18.7" fill="#d6b4df" stroke="#3c2c42" stroke-width="2.6" stroke-linejoin="round"/>
<rect x="2229.8" y="915.3" width="37.7" height="18.7" fill="#d6b4df" stroke="#3c2c42" stroke-width="2.6" stroke-linejoin="round"/>
<rect x="2267.4" y="928.9" width="75.3" height="5.1" fill="#d6b4df" stroke="#3c2c42" stroke-width="2.6" stroke-linejoin="round"/>
<polyline points="1740.3,930.6 1745.3,929.9 1750.3,929.1 1755.4,928.2 1760.4,927.2 1765.4,925.9 1770.4,924.5 1775.4,922.9 1780.5,921 1785.5,918.9 1790.5,916.4 1795.5,913.6 1800.5,910.4 1805.6,906.9 1810.6,902.8 1815.6,898.3 1820.6,893.3 1825.6,887.7 1830.7,881.5 1835.7,874.6 1840.7,867 1845.7,858.7 1850.7,849.6 1855.8,839.6 1860.8,828.9 1865.8,817.2 1870.8,804.7 1875.8,791.2 1880.9,776.8 1885.9,761.5 1890.9,745.2 1895.9,728.1 1900.9,710 1906,691.1 1911,671.4 1916,651 1921,629.9 1926,608.2 1931.1,586 1936.1,563.3 1941.1,540.5 1946.1,517.4 1951.1,494.4 1956.2,471.4 1961.2,448.7 1966.2,426.5 1971.2,404.8 1976.2,383.8 1981.3,363.7 1986.3,344.7 1991.3,326.9 1996.3,310.4 2001.3,295.4 2006.4,282 2011.4,270.3 2016.4,260.4 2021.4,252.5 2026.4,246.5 2031.5,242.6 2036.5,240.7 2041.5,240.9 2046.5,243.2 2051.5,247.5 2056.6,253.9 2061.6,262.3 2066.6,272.5 2071.6,284.5 2076.6,298.3 2081.7,313.6 2086.7,330.4 2091.7,348.4 2096.7,367.7 2101.7,387.9 2106.8,409.1 2111.8,430.9 2116.8,453.2 2121.8,476 2126.8,499 2131.9,522 2136.9,545.1 2141.9,567.9 2146.9,590.4 2151.9,612.5 2157,634.1 2162,655.1 2167,675.4 2172,695 2177,713.7 2182.1,731.6 2187.1,748.5 2192.1,764.6 2197.1,779.8 2202.1,794 2207.2,807.2 2212.2,819.6 2217.2,831.1 2222.2,841.7 2227.2,851.4 2232.3,860.4 2237.3,868.6 2242.3,876 2247.3,882.8 2252.3,888.9 2257.4,894.3 2262.4,899.3 2267.4,903.7 2272.4,907.6 2277.4,911.1 2282.5,914.2 2287.5,916.9 2292.5,919.3 2297.5,921.4 2302.5,923.2 2307.6,924.8 2312.6,926.2 2317.6,927.4 2322.6,928.4 2327.6,929.3 2332.7,930.1 2337.7,930.7 2342.7,931.2" fill="none" stroke="#8f2ca4" stroke-width="3.6" stroke-linejoin="round" stroke-linecap="round"/>
<rect x="1665" y="171" width="753" height="763" fill="none" stroke="#4d4d4d" stroke-width="3.2" rx="3"/>
<line x1="1665" y1="849.2" x2="1678" y2="849.2" stroke="#4d4d4d" stroke-width="3.2" />
<line x1="1665" y1="764.4" x2="1683" y2="764.4" stroke="#4d4d4d" stroke-width="3.2" />
<line x1="1665" y1="679.7" x2="1678" y2="679.7" stroke="#4d4d4d" stroke-width="3.2" />
<line x1="1665" y1="594.9" x2="1683" y2="594.9" stroke="#4d4d4d" stroke-width="3.2" />
<line x1="1665" y1="510.1" x2="1678" y2="510.1" stroke="#4d4d4d" stroke-width="3.2" />
<line x1="1665" y1="425.3" x2="1683" y2="425.3" stroke="#4d4d4d" stroke-width="3.2" />
<line x1="1665" y1="340.6" x2="1678" y2="340.6" stroke="#4d4d4d" stroke-width="3.2" />
<line x1="1665" y1="255.8" x2="1683" y2="255.8" stroke="#4d4d4d" stroke-width="3.2" />
<text x="1638.5" y="949.5" font-size="50" text-anchor="end" fill="#111" textLength="32" lengthAdjust="spacingAndGlyphs">0</text>
<text x="1638.5" y="779.9" font-size="50" text-anchor="end" fill="#111" textLength="95" lengthAdjust="spacingAndGlyphs">100</text>
<text x="1638.5" y="610.4" font-size="50" text-anchor="end" fill="#111" textLength="95" lengthAdjust="spacingAndGlyphs">200</text>
<text x="1638.5" y="440.8" font-size="50" text-anchor="end" fill="#111" textLength="95" lengthAdjust="spacingAndGlyphs">300</text>
<text x="1638.5" y="271.3" font-size="50" text-anchor="end" fill="#111" textLength="95" lengthAdjust="spacingAndGlyphs">400</text>
<text x="1665" y="997" font-size="50" text-anchor="middle" fill="#111" textLength="32" lengthAdjust="spacingAndGlyphs">0</text>
<text x="2041.5" y="997" font-size="50" text-anchor="middle" fill="#111" textLength="21" lengthAdjust="spacingAndGlyphs">1</text>
<text x="2418" y="997" font-size="50" text-anchor="middle" fill="#111" textLength="27.5" lengthAdjust="spacingAndGlyphs">2</text>
<text x="1499.5" y="553.5" font-size="58.5" text-anchor="middle" fill="#111" textLength="193" lengthAdjust="spacingAndGlyphs" transform="rotate(-90 1499.5 553.5)">Counts</text>
<text x="1937.5" y="1079.5" font-size="58.5" fill="#111"><tspan textLength="34" lengthAdjust="spacingAndGlyphs">Δ</tspan><tspan font-style="italic" dx="3">I</tspan><tspan font-size="39" dy="17" dx="2">O</tspan><tspan dy="-17" dx="14">(μA)</tspan></text>
<rect x="1710.5" y="34.5" width="51" height="49.5" fill="#d6b4df" stroke="#333" stroke-width="2.6"/>
<line x1="1711" y1="127.6" x2="1760.5" y2="127.6" stroke="#8f2ca4" stroke-width="4" />
<text x="1790" y="74.5" font-size="45" text-anchor="start" fill="#111" textLength="259" lengthAdjust="spacingAndGlyphs">Experiment</text>
<text x="1791" y="142.5" font-size="45" text-anchor="start" fill="#111" textLength="354" lengthAdjust="spacingAndGlyphs">Gaussian fitting</text>
</g>
<g id="prob">
<g fill="#1b5379">
<circle cx="382.4" cy="1226.4" r="11.7"/>
<circle cx="382.3" cy="1266.9" r="11.7"/>
<circle cx="382.1" cy="1290.3" r="11.7"/>
<circle cx="382.1" cy="1302.8" r="11.7"/>
<circle cx="382" cy="1311.1" r="11.7"/>
<circle cx="381.9" cy="1319.4" r="11.7"/>
<circle cx="381.8" cy="1327.7" r="11.7"/>
<circle cx="381.7" cy="1336" r="11.7"/>
<circle cx="381.6" cy="1344.3" r="11.7"/>
<circle cx="381.5" cy="1352.5" r="11.7"/>
<circle cx="381.4" cy="1360.8" r="11.7"/>
<circle cx="381.2" cy="1369.1" r="11.7"/>
<circle cx="381" cy="1377.4" r="11.7"/>
<circle cx="380.8" cy="1385.7" r="11.7"/>
<circle cx="380.5" cy="1394" r="11.7"/>
<circle cx="380.2" cy="1402.2" r="11.7"/>
<circle cx="379.9" cy="1410.5" r="11.7"/>
<circle cx="379.5" cy="1418.8" r="11.7"/>
<circle cx="379.1" cy="1427.1" r="11.7"/>
<circle cx="378.6" cy="1435.4" r="11.7"/>
<circle cx="378.1" cy="1443.7" r="11.7"/>
<circle cx="377.5" cy="1452" r="11.7"/>
<circle cx="376.9" cy="1460.2" r="11.7"/>
<circle cx="376.3" cy="1468.5" r="11.7"/>
<circle cx="375.6" cy="1476.8" r="11.7"/>
<circle cx="374.8" cy="1485.1" r="11.7"/>
<circle cx="374" cy="1493.4" r="11.7"/>
<circle cx="373.2" cy="1501.7" r="11.7"/>
<circle cx="372.4" cy="1509.9" r="11.7"/>
<circle cx="371.5" cy="1518.2" r="11.7"/>
<circle cx="370.7" cy="1526.5" r="11.7"/>
<circle cx="369.8" cy="1534.8" r="11.7"/>
<circle cx="369" cy="1543.1" r="11.7"/>
<circle cx="368.2" cy="1551.4" r="11.7"/>
<circle cx="367.5" cy="1559.6" r="11.7"/>
<circle cx="366.7" cy="1567.9" r="11.7"/>
<circle cx="366.1" cy="1576.2" r="11.7"/>
<circle cx="365.4" cy="1584.5" r="11.7"/>
<circle cx="364.9" cy="1592.8" r="11.7"/>
<circle cx="364.3" cy="1601.1" r="11.7"/>
<circle cx="363.9" cy="1609.4" r="11.7"/>
<circle cx="363.4" cy="1617.6" r="11.7"/>
<circle cx="363" cy="1625.9" r="11.7"/>
<circle cx="362.7" cy="1634.2" r="11.7"/>
<circle cx="362.4" cy="1642.5" r="11.7"/>
<circle cx="362.1" cy="1650.8" r="11.7"/>
<circle cx="361.9" cy="1659.1" r="11.7"/>
<circle cx="361.7" cy="1667.3" r="11.7"/>
<circle cx="361.5" cy="1675.6" r="11.7"/>
<circle cx="361.4" cy="1683.9" r="11.7"/>
<circle cx="361.2" cy="1692.2" r="11.7"/>
<circle cx="361.1" cy="1700.5" r="11.7"/>
<circle cx="361" cy="1708.8" r="11.7"/>
<circle cx="360.9" cy="1717.1" r="11.7"/>
<circle cx="360.8" cy="1725.3" r="11.7"/>
<circle cx="360.8" cy="1733.6" r="11.7"/>
<circle cx="360.7" cy="1741.9" r="11.7"/>
<circle cx="360.7" cy="1750.2" r="11.7"/>
<circle cx="360.6" cy="1758.5" r="11.7"/>
<circle cx="360.6" cy="1773.4" r="11.7"/>
<circle cx="360.5" cy="1796.9" r="11.7"/>
<circle cx="360.4" cy="1837.9" r="11.7"/>
</g>
<g fill="#4696c6">
<circle cx="492.8" cy="1226.4" r="11.7"/>
<circle cx="492.7" cy="1266.9" r="11.7"/>
<circle cx="492.6" cy="1290.3" r="11.7"/>
<circle cx="492.5" cy="1302.8" r="11.7"/>
<circle cx="492.4" cy="1311.1" r="11.7"/>
<circle cx="492.3" cy="1319.4" r="11.7"/>
<circle cx="492.3" cy="1327.7" r="11.7"/>
<circle cx="492.2" cy="1336" r="11.7"/>
<circle cx="492" cy="1344.3" r="11.7"/>
<circle cx="491.9" cy="1352.5" r="11.7"/>
<circle cx="491.8" cy="1360.8" r="11.7"/>
<circle cx="491.6" cy="1369.1" r="11.7"/>
<circle cx="491.4" cy="1377.4" r="11.7"/>
<circle cx="491.2" cy="1385.7" r="11.7"/>
<circle cx="490.9" cy="1394" r="11.7"/>
<circle cx="490.6" cy="1402.2" r="11.7"/>
<circle cx="490.3" cy="1410.5" r="11.7"/>
<circle cx="489.9" cy="1418.8" r="11.7"/>
<circle cx="489.5" cy="1427.1" r="11.7"/>
<circle cx="489" cy="1435.4" r="11.7"/>
<circle cx="488.5" cy="1443.7" r="11.7"/>
<circle cx="488" cy="1452" r="11.7"/>
<circle cx="487.3" cy="1460.2" r="11.7"/>
<circle cx="486.7" cy="1468.5" r="11.7"/>
<circle cx="486" cy="1476.8" r="11.7"/>
<circle cx="485.2" cy="1485.1" r="11.7"/>
<circle cx="484.4" cy="1493.4" r="11.7"/>
<circle cx="483.6" cy="1501.7" r="11.7"/>
<circle cx="482.8" cy="1509.9" r="11.7"/>
<circle cx="481.9" cy="1518.2" r="11.7"/>
<circle cx="481.1" cy="1526.5" r="11.7"/>
<circle cx="480.3" cy="1534.8" r="11.7"/>
<circle cx="479.4" cy="1543.1" r="11.7"/>
<circle cx="478.6" cy="1551.4" r="11.7"/>
<circle cx="477.9" cy="1559.6" r="11.7"/>
<circle cx="477.2" cy="1567.9" r="11.7"/>
<circle cx="476.5" cy="1576.2" r="11.7"/>
<circle cx="475.9" cy="1584.5" r="11.7"/>
<circle cx="475.3" cy="1592.8" r="11.7"/>
<circle cx="474.8" cy="1601.1" r="11.7"/>
<circle cx="474.3" cy="1609.4" r="11.7"/>
<circle cx="473.8" cy="1617.6" r="11.7"/>
<circle cx="473.5" cy="1625.9" r="11.7"/>
<circle cx="473.1" cy="1634.2" r="11.7"/>
<circle cx="472.8" cy="1642.5" r="11.7"/>
<circle cx="472.5" cy="1650.8" r="11.7"/>
<circle cx="472.3" cy="1659.1" r="11.7"/>
<circle cx="472.1" cy="1667.3" r="11.7"/>
<circle cx="471.9" cy="1675.6" r="11.7"/>
<circle cx="471.8" cy="1683.9" r="11.7"/>
<circle cx="471.6" cy="1692.2" r="11.7"/>
<circle cx="471.5" cy="1700.5" r="11.7"/>
<circle cx="471.4" cy="1708.8" r="11.7"/>
<circle cx="471.3" cy="1717.1" r="11.7"/>
<circle cx="471.3" cy="1725.3" r="11.7"/>
<circle cx="471.2" cy="1733.6" r="11.7"/>
<circle cx="471.1" cy="1741.9" r="11.7"/>
<circle cx="471.1" cy="1750.2" r="11.7"/>
<circle cx="471" cy="1758.5" r="11.7"/>
<circle cx="471" cy="1773.4" r="11.7"/>
<circle cx="470.9" cy="1796.9" r="11.7"/>
<circle cx="470.8" cy="1837.9" r="11.7"/>
</g>
<g fill="#60a6cd">
<circle cx="603.2" cy="1226.4" r="11.7"/>
<circle cx="603.1" cy="1266.9" r="11.7"/>
<circle cx="603" cy="1290.3" r="11.7"/>
<circle cx="602.9" cy="1302.8" r="11.7"/>
<circle cx="602.8" cy="1311.1" r="11.7"/>
<circle cx="602.8" cy="1319.4" r="11.7"/>
<circle cx="602.7" cy="1327.7" r="11.7"/>
<circle cx="602.6" cy="1336" r="11.7"/>
<circle cx="602.5" cy="1344.3" r="11.7"/>
<circle cx="602.3" cy="1352.5" r="11.7"/>
<circle cx="602.2" cy="1360.8" r="11.7"/>
<circle cx="602" cy="1369.1" r="11.7"/>
<circle cx="601.8" cy="1377.4" r="11.7"/>
<circle cx="601.6" cy="1385.7" r="11.7"/>
<circle cx="601.3" cy="1394" r="11.7"/>
<circle cx="601" cy="1402.2" r="11.7"/>
<circle cx="600.7" cy="1410.5" r="11.7"/>
<circle cx="600.3" cy="1418.8" r="11.7"/>
<circle cx="599.9" cy="1427.1" r="11.7"/>
<circle cx="599.4" cy="1435.4" r="11.7"/>
<circle cx="598.9" cy="1443.7" r="11.7"/>
<circle cx="598.4" cy="1452" r="11.7"/>
<circle cx="597.8" cy="1460.2" r="11.7"/>
<circle cx="597.1" cy="1468.5" r="11.7"/>
<circle cx="596.4" cy="1476.8" r="11.7"/>
<circle cx="595.6" cy="1485.1" r="11.7"/>
<circle cx="594.9" cy="1493.4" r="11.7"/>
<circle cx="594" cy="1501.7" r="11.7"/>
<circle cx="593.2" cy="1509.9" r="11.7"/>
<circle cx="592.4" cy="1518.2" r="11.7"/>
<circle cx="591.5" cy="1526.5" r="11.7"/>
<circle cx="590.7" cy="1534.8" r="11.7"/>
<circle cx="589.8" cy="1543.1" r="11.7"/>
<circle cx="589" cy="1551.4" r="11.7"/>
<circle cx="588.3" cy="1559.6" r="11.7"/>
<circle cx="587.6" cy="1567.9" r="11.7"/>
<circle cx="586.9" cy="1576.2" r="11.7"/>
<circle cx="586.3" cy="1584.5" r="11.7"/>
<circle cx="585.7" cy="1592.8" r="11.7"/>
<circle cx="585.2" cy="1601.1" r="11.7"/>
<circle cx="584.7" cy="1609.4" r="11.7"/>
<circle cx="584.3" cy="1617.6" r="11.7"/>
<circle cx="583.9" cy="1625.9" r="11.7"/>
<circle cx="583.5" cy="1634.2" r="11.7"/>
<circle cx="583.2" cy="1642.5" r="11.7"/>
<circle cx="583" cy="1650.8" r="11.7"/>
<circle cx="582.7" cy="1659.1" r="11.7"/>
<circle cx="582.5" cy="1667.3" r="11.7"/>
<circle cx="582.3" cy="1675.6" r="11.7"/>
<circle cx="582.2" cy="1683.9" r="11.7"/>
<circle cx="582" cy="1692.2" r="11.7"/>
<circle cx="581.9" cy="1700.5" r="11.7"/>
<circle cx="581.8" cy="1708.8" r="11.7"/>
<circle cx="581.7" cy="1717.1" r="11.7"/>
<circle cx="581.7" cy="1725.3" r="11.7"/>
<circle cx="581.6" cy="1733.6" r="11.7"/>
<circle cx="581.5" cy="1741.9" r="11.7"/>
<circle cx="581.5" cy="1750.2" r="11.7"/>
<circle cx="581.4" cy="1758.5" r="11.7"/>
<circle cx="581.4" cy="1773.4" r="11.7"/>
<circle cx="581.3" cy="1796.9" r="11.7"/>
<circle cx="581.3" cy="1837.9" r="11.7"/>
</g>
<g fill="#a5cbe3">
<circle cx="713.6" cy="1226.4" r="11.7"/>
<circle cx="713.5" cy="1266.9" r="11.7"/>
<circle cx="713.4" cy="1290.3" r="11.7"/>
<circle cx="713.3" cy="1302.8" r="11.7"/>
<circle cx="713.2" cy="1311.1" r="11.7"/>
<circle cx="713.2" cy="1319.4" r="11.7"/>
<circle cx="713.1" cy="1327.7" r="11.7"/>
<circle cx="713" cy="1336" r="11.7"/>
<circle cx="712.9" cy="1344.3" r="11.7"/>
<circle cx="712.7" cy="1352.5" r="11.7"/>
<circle cx="712.6" cy="1360.8" r="11.7"/>
<circle cx="712.4" cy="1369.1" r="11.7"/>
<circle cx="712.2" cy="1377.4" r="11.7"/>
<circle cx="712" cy="1385.7" r="11.7"/>
<circle cx="711.7" cy="1394" r="11.7"/>
<circle cx="711.4" cy="1402.2" r="11.7"/>
<circle cx="711.1" cy="1410.5" r="11.7"/>
<circle cx="710.7" cy="1418.8" r="11.7"/>
<circle cx="710.3" cy="1427.1" r="11.7"/>
<circle cx="709.9" cy="1435.4" r="11.7"/>
<circle cx="709.3" cy="1443.7" r="11.7"/>
<circle cx="708.8" cy="1452" r="11.7"/>
<circle cx="708.2" cy="1460.2" r="11.7"/>
<circle cx="707.5" cy="1468.5" r="11.7"/>
<circle cx="706.8" cy="1476.8" r="11.7"/>
<circle cx="706.1" cy="1485.1" r="11.7"/>
<circle cx="705.3" cy="1493.4" r="11.7"/>
<circle cx="704.4" cy="1501.7" r="11.7"/>
<circle cx="703.6" cy="1509.9" r="11.7"/>
<circle cx="702.8" cy="1518.2" r="11.7"/>
<circle cx="701.9" cy="1526.5" r="11.7"/>
<circle cx="701.1" cy="1534.8" r="11.7"/>
<circle cx="700.3" cy="1543.1" r="11.7"/>
<circle cx="699.5" cy="1551.4" r="11.7"/>
<circle cx="698.7" cy="1559.6" r="11.7"/>
<circle cx="698" cy="1567.9" r="11.7"/>
<circle cx="697.3" cy="1576.2" r="11.7"/>
<circle cx="696.7" cy="1584.5" r="11.7"/>
<circle cx="696.1" cy="1592.8" r="11.7"/>
<circle cx="695.6" cy="1601.1" r="11.7"/>
<circle cx="695.1" cy="1609.4" r="11.7"/>
<circle cx="694.7" cy="1617.6" r="11.7"/>
<circle cx="694.3" cy="1625.9" r="11.7"/>
<circle cx="693.9" cy="1634.2" r="11.7"/>
<circle cx="693.6" cy="1642.5" r="11.7"/>
<circle cx="693.4" cy="1650.8" r="11.7"/>
<circle cx="693.1" cy="1659.1" r="11.7"/>
<circle cx="692.9" cy="1667.3" r="11.7"/>
<circle cx="692.8" cy="1675.6" r="11.7"/>
<circle cx="692.6" cy="1683.9" r="11.7"/>
<circle cx="692.5" cy="1692.2" r="11.7"/>
<circle cx="692.3" cy="1700.5" r="11.7"/>
<circle cx="692.2" cy="1708.8" r="11.7"/>
<circle cx="692.1" cy="1717.1" r="11.7"/>
<circle cx="692.1" cy="1725.3" r="11.7"/>
<circle cx="692" cy="1733.6" r="11.7"/>
<circle cx="692" cy="1741.9" r="11.7"/>
<circle cx="691.9" cy="1750.2" r="11.7"/>
<circle cx="691.9" cy="1758.5" r="11.7"/>
<circle cx="691.8" cy="1773.4" r="11.7"/>
<circle cx="691.7" cy="1796.9" r="11.7"/>
<circle cx="691.7" cy="1837.9" r="11.7"/>
</g>
<g fill="#f7b9b9">
<circle cx="824" cy="1226.4" r="11.7"/>
<circle cx="823.9" cy="1266.9" r="11.7"/>
<circle cx="823.8" cy="1290.3" r="11.7"/>
<circle cx="823.7" cy="1302.8" r="11.7"/>
<circle cx="823.6" cy="1311.1" r="11.7"/>
<circle cx="823.6" cy="1319.4" r="11.7"/>
<circle cx="823.5" cy="1327.7" r="11.7"/>
<circle cx="823.4" cy="1336" r="11.7"/>
<circle cx="823.3" cy="1344.3" r="11.7"/>
<circle cx="823.1" cy="1352.5" r="11.7"/>
<circle cx="823" cy="1360.8" r="11.7"/>
<circle cx="822.8" cy="1369.1" r="11.7"/>
<circle cx="822.6" cy="1377.4" r="11.7"/>
<circle cx="822.4" cy="1385.7" r="11.7"/>
<circle cx="822.1" cy="1394" r="11.7"/>
<circle cx="821.8" cy="1402.2" r="11.7"/>
<circle cx="821.5" cy="1410.5" r="11.7"/>
<circle cx="821.1" cy="1418.8" r="11.7"/>
<circle cx="820.7" cy="1427.1" r="11.7"/>
<circle cx="820.3" cy="1435.4" r="11.7"/>
<circle cx="819.8" cy="1443.7" r="11.7"/>
<circle cx="819.2" cy="1452" r="11.7"/>
<circle cx="818.6" cy="1460.2" r="11.7"/>
<circle cx="817.9" cy="1468.5" r="11.7"/>
<circle cx="817.2" cy="1476.8" r="11.7"/>
<circle cx="816.5" cy="1485.1" r="11.7"/>
<circle cx="815.7" cy="1493.4" r="11.7"/>
<circle cx="814.9" cy="1501.7" r="11.7"/>
<circle cx="814" cy="1509.9" r="11.7"/>
<circle cx="813.2" cy="1518.2" r="11.7"/>
<circle cx="812.3" cy="1526.5" r="11.7"/>
<circle cx="811.5" cy="1534.8" r="11.7"/>
<circle cx="810.7" cy="1543.1" r="11.7"/>
<circle cx="809.9" cy="1551.4" r="11.7"/>
<circle cx="809.1" cy="1559.6" r="11.7"/>
<circle cx="808.4" cy="1567.9" r="11.7"/>
<circle cx="807.7" cy="1576.2" r="11.7"/>
<circle cx="807.1" cy="1584.5" r="11.7"/>
<circle cx="806.5" cy="1592.8" r="11.7"/>
<circle cx="806" cy="1601.1" r="11.7"/>
<circle cx="805.5" cy="1609.4" r="11.7"/>
<circle cx="805.1" cy="1617.6" r="11.7"/>
<circle cx="804.7" cy="1625.9" r="11.7"/>
<circle cx="804.4" cy="1634.2" r="11.7"/>
<circle cx="804" cy="1642.5" r="11.7"/>
<circle cx="803.8" cy="1650.8" r="11.7"/>
<circle cx="803.5" cy="1659.1" r="11.7"/>
<circle cx="803.3" cy="1667.3" r="11.7"/>
<circle cx="803.2" cy="1675.6" r="11.7"/>
<circle cx="803" cy="1683.9" r="11.7"/>
<circle cx="802.9" cy="1692.2" r="11.7"/>
<circle cx="802.8" cy="1700.5" r="11.7"/>
<circle cx="802.6" cy="1708.8" r="11.7"/>
<circle cx="802.6" cy="1717.1" r="11.7"/>
<circle cx="802.5" cy="1725.3" r="11.7"/>
<circle cx="802.4" cy="1733.6" r="11.7"/>
<circle cx="802.4" cy="1741.9" r="11.7"/>
<circle cx="802.3" cy="1750.2" r="11.7"/>
<circle cx="802.3" cy="1758.5" r="11.7"/>
<circle cx="802.2" cy="1773.4" r="11.7"/>
<circle cx="802.1" cy="1796.9" r="11.7"/>
<circle cx="802.1" cy="1837.9" r="11.7"/>
</g>
<g fill="#f08c8c">
<circle cx="934.4" cy="1226.4" r="11.7"/>
<circle cx="934.3" cy="1266.9" r="11.7"/>
<circle cx="934.2" cy="1290.3" r="11.7"/>
<circle cx="934.1" cy="1302.8" r="11.7"/>
<circle cx="934.1" cy="1311.1" r="11.7"/>
<circle cx="934" cy="1319.4" r="11.7"/>
<circle cx="933.9" cy="1327.7" r="11.7"/>
<circle cx="933.8" cy="1336" r="11.7"/>
<circle cx="933.7" cy="1344.3" r="11.7"/>
<circle cx="933.6" cy="1352.5" r="11.7"/>
<circle cx="933.4" cy="1360.8" r="11.7"/>
<circle cx="933.2" cy="1369.1" r="11.7"/>
<circle cx="933" cy="1377.4" r="11.7"/>
<circle cx="932.8" cy="1385.7" r="11.7"/>
<circle cx="932.6" cy="1394" r="11.7"/>
<circle cx="932.3" cy="1402.2" r="11.7"/>
<circle cx="931.9" cy="1410.5" r="11.7"/>
<circle cx="931.6" cy="1418.8" r="11.7"/>
<circle cx="931.1" cy="1427.1" r="11.7"/>
<circle cx="930.7" cy="1435.4" r="11.7"/>
<circle cx="930.2" cy="1443.7" r="11.7"/>
<circle cx="929.6" cy="1452" r="11.7"/>
<circle cx="929" cy="1460.2" r="11.7"/>
<circle cx="928.3" cy="1468.5" r="11.7"/>
<circle cx="927.6" cy="1476.8" r="11.7"/>
<circle cx="926.9" cy="1485.1" r="11.7"/>
<circle cx="926.1" cy="1493.4" r="11.7"/>
<circle cx="925.3" cy="1501.7" r="11.7"/>
<circle cx="924.4" cy="1509.9" r="11.7"/>
<circle cx="923.6" cy="1518.2" r="11.7"/>
<circle cx="922.7" cy="1526.5" r="11.7"/>
<circle cx="921.9" cy="1534.8" r="11.7"/>
<circle cx="921.1" cy="1543.1" r="11.7"/>
<circle cx="920.3" cy="1551.4" r="11.7"/>
<circle cx="919.5" cy="1559.6" r="11.7"/>
<circle cx="918.8" cy="1567.9" r="11.7"/>
<circle cx="918.1" cy="1576.2" r="11.7"/>
<circle cx="917.5" cy="1584.5" r="11.7"/>
<circle cx="916.9" cy="1592.8" r="11.7"/>
<circle cx="916.4" cy="1601.1" r="11.7"/>
<circle cx="915.9" cy="1609.4" r="11.7"/>
<circle cx="915.5" cy="1617.6" r="11.7"/>
<circle cx="915.1" cy="1625.9" r="11.7"/>
<circle cx="914.8" cy="1634.2" r="11.7"/>
<circle cx="914.5" cy="1642.5" r="11.7"/>
<circle cx="914.2" cy="1650.8" r="11.7"/>
<circle cx="914" cy="1659.1" r="11.7"/>
<circle cx="913.8" cy="1667.3" r="11.7"/>
<circle cx="913.6" cy="1675.6" r="11.7"/>
<circle cx="913.4" cy="1683.9" r="11.7"/>
<circle cx="913.3" cy="1692.2" r="11.7"/>
<circle cx="913.2" cy="1700.5" r="11.7"/>
<circle cx="913.1" cy="1708.8" r="11.7"/>
<circle cx="913" cy="1717.1" r="11.7"/>
<circle cx="912.9" cy="1725.3" r="11.7"/>
<circle cx="912.8" cy="1733.6" r="11.7"/>
<circle cx="912.8" cy="1741.9" r="11.7"/>
<circle cx="912.7" cy="1750.2" r="11.7"/>
<circle cx="912.7" cy="1758.5" r="11.7"/>
<circle cx="912.6" cy="1773.4" r="11.7"/>
<circle cx="912.6" cy="1796.9" r="11.7"/>
<circle cx="912.5" cy="1837.9" r="11.7"/>
</g>
<g fill="#f95c5c">
<circle cx="1044.8" cy="1226.4" r="11.7"/>
<circle cx="1044.7" cy="1266.9" r="11.7"/>
<circle cx="1044.6" cy="1290.3" r="11.7"/>
<circle cx="1044.5" cy="1302.8" r="11.7"/>
<circle cx="1044.5" cy="1311.1" r="11.7"/>
<circle cx="1044.4" cy="1319.4" r="11.7"/>
<circle cx="1044.3" cy="1327.7" r="11.7"/>
<circle cx="1044.2" cy="1336" r="11.7"/>
<circle cx="1044.1" cy="1344.3" r="11.7"/>
<circle cx="1044" cy="1352.5" r="11.7"/>
<circle cx="1043.8" cy="1360.8" r="11.7"/>
<circle cx="1043.6" cy="1369.1" r="11.7"/>
<circle cx="1043.4" cy="1377.4" r="11.7"/>
<circle cx="1043.2" cy="1385.7" r="11.7"/>
<circle cx="1043" cy="1394" r="11.7"/>
<circle cx="1042.7" cy="1402.2" r="11.7"/>
<circle cx="1042.3" cy="1410.5" r="11.7"/>
<circle cx="1042" cy="1418.8" r="11.7"/>
<circle cx="1041.6" cy="1427.1" r="11.7"/>
<circle cx="1041.1" cy="1435.4" r="11.7"/>
<circle cx="1040.6" cy="1443.7" r="11.7"/>
<circle cx="1040" cy="1452" r="11.7"/>
<circle cx="1039.4" cy="1460.2" r="11.7"/>
<circle cx="1038.7" cy="1468.5" r="11.7"/>
<circle cx="1038" cy="1476.8" r="11.7"/>
<circle cx="1037.3" cy="1485.1" r="11.7"/>
<circle cx="1036.5" cy="1493.4" r="11.7"/>
<circle cx="1035.7" cy="1501.7" r="11.7"/>
<circle cx="1034.8" cy="1509.9" r="11.7"/>
<circle cx="1034" cy="1518.2" r="11.7"/>
<circle cx="1033.2" cy="1526.5" r="11.7"/>
<circle cx="1032.3" cy="1534.8" r="11.7"/>
<circle cx="1031.5" cy="1543.1" r="11.7"/>
<circle cx="1030.7" cy="1551.4" r="11.7"/>
<circle cx="1029.9" cy="1559.6" r="11.7"/>
<circle cx="1029.2" cy="1567.9" r="11.7"/>
<circle cx="1028.5" cy="1576.2" r="11.7"/>
<circle cx="1027.9" cy="1584.5" r="11.7"/>
<circle cx="1027.3" cy="1592.8" r="11.7"/>
<circle cx="1026.8" cy="1601.1" r="11.7"/>
<circle cx="1026.3" cy="1609.4" r="11.7"/>
<circle cx="1025.9" cy="1617.6" r="11.7"/>
<circle cx="1025.5" cy="1625.9" r="11.7"/>
<circle cx="1025.2" cy="1634.2" r="11.7"/>
<circle cx="1024.9" cy="1642.5" r="11.7"/>
<circle cx="1024.6" cy="1650.8" r="11.7"/>
<circle cx="1024.4" cy="1659.1" r="11.7"/>
<circle cx="1024.2" cy="1667.3" r="11.7"/>
<circle cx="1024" cy="1675.6" r="11.7"/>
<circle cx="1023.8" cy="1683.9" r="11.7"/>
<circle cx="1023.7" cy="1692.2" r="11.7"/>
<circle cx="1023.6" cy="1700.5" r="11.7"/>
<circle cx="1023.5" cy="1708.8" r="11.7"/>
<circle cx="1023.4" cy="1717.1" r="11.7"/>
<circle cx="1023.3" cy="1725.3" r="11.7"/>
<circle cx="1023.2" cy="1733.6" r="11.7"/>
<circle cx="1023.2" cy="1741.9" r="11.7"/>
<circle cx="1023.1" cy="1750.2" r="11.7"/>
<circle cx="1023.1" cy="1758.5" r="11.7"/>
<circle cx="1023" cy="1773.4" r="11.7"/>
<circle cx="1023" cy="1796.9" r="11.7"/>
<circle cx="1022.9" cy="1837.9" r="11.7"/>
</g>
<g fill="#b9090b">
<circle cx="1155.2" cy="1226.4" r="11.7"/>
<circle cx="1155.1" cy="1266.9" r="11.7"/>
<circle cx="1155" cy="1290.3" r="11.7"/>
<circle cx="1154.9" cy="1302.8" r="11.7"/>
<circle cx="1154.9" cy="1311.1" r="11.7"/>
<circle cx="1154.8" cy="1319.4" r="11.7"/>
<circle cx="1154.7" cy="1327.7" r="11.7"/>
<circle cx="1154.6" cy="1336" r="11.7"/>
<circle cx="1154.5" cy="1344.3" r="11.7"/>
<circle cx="1154.4" cy="1352.5" r="11.7"/>
<circle cx="1154.2" cy="1360.8" r="11.7"/>
<circle cx="1154.1" cy="1369.1" r="11.7"/>
<circle cx="1153.9" cy="1377.4" r="11.7"/>
<circle cx="1153.6" cy="1385.7" r="11.7"/>
<circle cx="1153.4" cy="1394" r="11.7"/>
<circle cx="1153.1" cy="1402.2" r="11.7"/>
<circle cx="1152.8" cy="1410.5" r="11.7"/>
<circle cx="1152.4" cy="1418.8" r="11.7"/>
<circle cx="1152" cy="1427.1" r="11.7"/>
<circle cx="1151.5" cy="1435.4" r="11.7"/>
<circle cx="1151" cy="1443.7" r="11.7"/>
<circle cx="1150.4" cy="1452" r="11.7"/>
<circle cx="1149.8" cy="1460.2" r="11.7"/>
<circle cx="1149.2" cy="1468.5" r="11.7"/>
<circle cx="1148.4" cy="1476.8" r="11.7"/>
<circle cx="1147.7" cy="1485.1" r="11.7"/>
<circle cx="1146.9" cy="1493.4" r="11.7"/>
<circle cx="1146.1" cy="1501.7" r="11.7"/>
<circle cx="1145.3" cy="1509.9" r="11.7"/>
<circle cx="1144.4" cy="1518.2" r="11.7"/>
<circle cx="1143.6" cy="1526.5" r="11.7"/>
<circle cx="1142.7" cy="1534.8" r="11.7"/>
<circle cx="1141.9" cy="1543.1" r="11.7"/>
<circle cx="1141.1" cy="1551.4" r="11.7"/>
<circle cx="1140.3" cy="1559.6" r="11.7"/>
<circle cx="1139.6" cy="1567.9" r="11.7"/>
<circle cx="1138.9" cy="1576.2" r="11.7"/>
<circle cx="1138.3" cy="1584.5" r="11.7"/>
<circle cx="1137.7" cy="1592.8" r="11.7"/>
<circle cx="1137.2" cy="1601.1" r="11.7"/>
<circle cx="1136.7" cy="1609.4" r="11.7"/>
<circle cx="1136.3" cy="1617.6" r="11.7"/>
<circle cx="1135.9" cy="1625.9" r="11.7"/>
<circle cx="1135.6" cy="1634.2" r="11.7"/>
<circle cx="1135.3" cy="1642.5" r="11.7"/>
<circle cx="1135" cy="1650.8" r="11.7"/>
<circle cx="1134.8" cy="1659.1" r="11.7"/>
<circle cx="1134.6" cy="1667.3" r="11.7"/>
<circle cx="1134.4" cy="1675.6" r="11.7"/>
<circle cx="1134.2" cy="1683.9" r="11.7"/>
<circle cx="1134.1" cy="1692.2" r="11.7"/>
<circle cx="1134" cy="1700.5" r="11.7"/>
<circle cx="1133.9" cy="1708.8" r="11.7"/>
<circle cx="1133.8" cy="1717.1" r="11.7"/>
<circle cx="1133.7" cy="1725.3" r="11.7"/>
<circle cx="1133.7" cy="1733.6" r="11.7"/>
<circle cx="1133.6" cy="1741.9" r="11.7"/>
<circle cx="1133.5" cy="1750.2" r="11.7"/>
<circle cx="1133.5" cy="1758.5" r="11.7"/>
<circle cx="1133.4" cy="1773.4" r="11.7"/>
<circle cx="1133.4" cy="1796.9" r="11.7"/>
<circle cx="1133.3" cy="1837.9" r="11.7"/>
</g>
<rect x="261" y="1166.5" width="993.7" height="730.5" fill="none" stroke="#4d4d4d" stroke-width="2.8" rx="2"/>
<line x1="316.2" y1="1897" x2="316.2" y2="1889" stroke="#4d4d4d" stroke-width="2.8" />
<line x1="371.4" y1="1897" x2="371.4" y2="1883.5" stroke="#4d4d4d" stroke-width="2.8" />
<line x1="426.6" y1="1897" x2="426.6" y2="1889" stroke="#4d4d4d" stroke-width="2.8" />
<line x1="481.8" y1="1897" x2="481.8" y2="1883.5" stroke="#4d4d4d" stroke-width="2.8" />
<line x1="537" y1="1897" x2="537" y2="1889" stroke="#4d4d4d" stroke-width="2.8" />
<line x1="592.2" y1="1897" x2="592.2" y2="1883.5" stroke="#4d4d4d" stroke-width="2.8" />
<line x1="647.4" y1="1897" x2="647.4" y2="1889" stroke="#4d4d4d" stroke-width="2.8" />
<line x1="702.6" y1="1897" x2="702.6" y2="1883.5" stroke="#4d4d4d" stroke-width="2.8" />
<line x1="757.9" y1="1897" x2="757.9" y2="1889" stroke="#4d4d4d" stroke-width="2.8" />
<line x1="813.1" y1="1897" x2="813.1" y2="1883.5" stroke="#4d4d4d" stroke-width="2.8" />
<line x1="868.3" y1="1897" x2="868.3" y2="1889" stroke="#4d4d4d" stroke-width="2.8" />
<line x1="923.5" y1="1897" x2="923.5" y2="1883.5" stroke="#4d4d4d" stroke-width="2.8" />
<line x1="978.7" y1="1897" x2="978.7" y2="1889" stroke="#4d4d4d" stroke-width="2.8" />
<line x1="1033.9" y1="1897" x2="1033.9" y2="1883.5" stroke="#4d4d4d" stroke-width="2.8" />
<line x1="1089.1" y1="1897" x2="1089.1" y2="1889" stroke="#4d4d4d" stroke-width="2.8" />
<line x1="1144.3" y1="1897" x2="1144.3" y2="1883.5" stroke="#4d4d4d" stroke-width="2.8" />
<line x1="1199.5" y1="1897" x2="1199.5" y2="1889" stroke="#4d4d4d" stroke-width="2.8" />
<line x1="261" y1="1226.4" x2="275" y2="1226.4" stroke="#4d4d4d" stroke-width="2.8" />
<text x="237.5" y="1240.4" font-size="42.5" text-anchor="end" fill="#111" textLength="92" lengthAdjust="spacingAndGlyphs">99.5</text>
<line x1="261" y1="1336.6" x2="275" y2="1336.6" stroke="#4d4d4d" stroke-width="2.8" />
<text x="237.5" y="1350.6" font-size="42.5" text-anchor="end" fill="#111" textLength="94" lengthAdjust="spacingAndGlyphs">95.0</text>
<line x1="261" y1="1469.2" x2="275" y2="1469.2" stroke="#4d4d4d" stroke-width="2.8" />
<text x="237.5" y="1483.2" font-size="42.5" text-anchor="end" fill="#111" textLength="94" lengthAdjust="spacingAndGlyphs">70.0</text>
<line x1="261" y1="1561.2" x2="275" y2="1561.2" stroke="#4d4d4d" stroke-width="2.8" />
<text x="237.5" y="1575.2" font-size="42.5" text-anchor="end" fill="#111" textLength="96" lengthAdjust="spacingAndGlyphs">40.0</text>
<line x1="261" y1="1682.9" x2="275" y2="1682.9" stroke="#4d4d4d" stroke-width="2.8" />
<text x="237.5" y="1696.9" font-size="42.5" text-anchor="end" fill="#111" textLength="88" lengthAdjust="spacingAndGlyphs">10.0</text>
<line x1="261" y1="1806.6" x2="275" y2="1806.6" stroke="#4d4d4d" stroke-width="2.8" />
<text x="237.5" y="1820.6" font-size="42.5" text-anchor="end" fill="#111" textLength="56" lengthAdjust="spacingAndGlyphs">1.0</text>
<text x="237.5" y="1911" font-size="42.5" text-anchor="end" fill="#111" textLength="56" lengthAdjust="spacingAndGlyphs">0.1</text>
<text x="260" y="1955" font-size="42.5" text-anchor="middle" fill="#111" textLength="48" lengthAdjust="spacingAndGlyphs">10</text>
<text x="370.4" y="1955" font-size="42.5" text-anchor="middle" fill="#111" textLength="57" lengthAdjust="spacingAndGlyphs">20</text>
<text x="480.8" y="1955" font-size="42.5" text-anchor="middle" fill="#111" textLength="57" lengthAdjust="spacingAndGlyphs">30</text>
<text x="591.2" y="1955" font-size="42.5" text-anchor="middle" fill="#111" textLength="57" lengthAdjust="spacingAndGlyphs">40</text>
<text x="701.6" y="1955" font-size="42.5" text-anchor="middle" fill="#111" textLength="57" lengthAdjust="spacingAndGlyphs">50</text>
<text x="812.1" y="1955" font-size="42.5" text-anchor="middle" fill="#111" textLength="57" lengthAdjust="spacingAndGlyphs">60</text>
<text x="922.5" y="1955" font-size="42.5" text-anchor="middle" fill="#111" textLength="57" lengthAdjust="spacingAndGlyphs">70</text>
<text x="1032.9" y="1955" font-size="42.5" text-anchor="middle" fill="#111" textLength="57" lengthAdjust="spacingAndGlyphs">80</text>
<text x="1143.3" y="1955" font-size="42.5" text-anchor="middle" fill="#111" textLength="57" lengthAdjust="spacingAndGlyphs">90</text>
<text x="1252.7" y="1955" font-size="42.5" text-anchor="middle" fill="#111" textLength="78" lengthAdjust="spacingAndGlyphs">100</text>
<text x="757" y="2029.5" font-size="50.5" text-anchor="middle" fill="#111" textLength="436" lengthAdjust="spacingAndGlyphs">Conductance (μS)</text>
<text x="104.5" y="1529" font-size="50.5" text-anchor="middle" fill="#111" textLength="635" lengthAdjust="spacingAndGlyphs" transform="rotate(-90 104.5 1529)">Cumulative probability (%)</text>
</g>
<g id="time">
<g fill="#4c4c4c" stroke="#4c4c4c" stroke-width="1.5" stroke-linejoin="round">
<polygon points="1606.5,1797 1649.2,1798.6 1692,1796.5 1734.8,1798.8 1777.5,1797.3 1820.2,1797.5 1863,1799.5 1905.8,1797.8 1948.5,1799.8 1991.2,1798.4 2034,1799.9 2076.8,1800.6 2119.5,1799 2162.2,1795.6 2205,1798 2247.8,1798.8 2290.5,1796.7 2333.2,1793.6 2376,1794.1 2418.8,1795.6 2461.5,1792.8 2461.5,1871.3 2418.8,1870.3 2376,1870.2 2333.2,1871.5 2290.5,1870.8 2247.8,1870.9 2205,1873.8 2162.2,1873.9 2119.5,1872.4 2076.8,1869.7 2034,1870.2 1991.2,1869.2 1948.5,1870.3 1905.8,1871.6 1863,1869.6 1820.2,1873 1777.5,1873.6 1734.8,1872.4 1692,1870.7 1649.2,1869.1 1606.5,1872.5"/>
<polygon points="1606.5,1712.2 1649.2,1711.8 1692,1714.4 1734.8,1713.8 1777.5,1713.7 1820.2,1711.6 1863,1711.3 1905.8,1713.8 1948.5,1711 1991.2,1714.7 2034,1714.9 2076.8,1712.9 2119.5,1715.6 2162.2,1714.9 2205,1717.4 2247.8,1714.8 2290.5,1712.8 2333.2,1712.9 2376,1711.1 2418.8,1713.6 2461.5,1712.6 2461.5,1787.5 2418.8,1791.3 2376,1790.4 2333.2,1789.4 2290.5,1788 2247.8,1788.9 2205,1785.6 2162.2,1786.7 2119.5,1785.6 2076.8,1782.5 2034,1782.8 1991.2,1785.4 1948.5,1786.1 1905.8,1788 1863,1784.4 1820.2,1784.5 1777.5,1782.5 1734.8,1784.3 1692,1786.3 1649.2,1785.7 1606.5,1785.9"/>
<polygon points="1606.5,1634.5 1649.2,1635 1692,1634.4 1734.8,1631.1 1777.5,1634.2 1820.2,1633.6 1863,1632.7 1905.8,1630.1 1948.5,1629.1 1991.2,1628.2 2034,1631.4 2076.8,1632.3 2119.5,1633.1 2162.2,1630.3 2205,1628.3 2247.8,1632.2 2290.5,1634.2 2333.2,1634.9 2376,1635.3 2418.8,1634 2461.5,1632.6 2461.5,1708.9 2418.8,1707.6 2376,1705.1 2333.2,1706.9 2290.5,1704.4 2247.8,1703.2 2205,1700.8 2162.2,1700.9 2119.5,1702.1 2076.8,1703.1 2034,1706.3 1991.2,1702.7 1948.5,1703.1 1905.8,1703.2 1863,1702.2 1820.2,1702.3 1777.5,1705.4 1734.8,1706.9 1692,1707.2 1649.2,1708.5 1606.5,1706.1"/>
<polygon points="1606.5,1552.1 1649.2,1553.4 1692,1553 1734.8,1554.5 1777.5,1555.7 1820.2,1555.4 1863,1555.6 1905.8,1554.1 1948.5,1555.3 1991.2,1550.8 2034,1549.9 2076.8,1552.2 2119.5,1552.9 2162.2,1552.7 2205,1552.5 2247.8,1553.8 2290.5,1550.1 2333.2,1547.2 2376,1548.8 2418.8,1549.6 2461.5,1552.5 2461.5,1620.8 2418.8,1622.4 2376,1622.4 2333.2,1625.2 2290.5,1623.5 2247.8,1622.6 2205,1619.7 2162.2,1619.4 2119.5,1620.7 2076.8,1624.4 2034,1626.1 1991.2,1623.5 1948.5,1624.7 1905.8,1622.3 1863,1622.2 1820.2,1626.7 1777.5,1624.6 1734.8,1622.2 1692,1625.5 1649.2,1625.1 1606.5,1625.2"/>
<polygon points="1606.5,1469.5 1649.2,1470.8 1692,1467.8 1734.8,1465.1 1777.5,1464.5 1820.2,1464.4 1863,1464.3 1905.8,1464.7 1948.5,1468.1 1991.2,1468.2 2034,1469.2 2076.8,1471.8 2119.5,1473.2 2162.2,1472.4 2205,1472.1 2247.8,1469.3 2290.5,1466.1 2333.2,1467.5 2376,1465.3 2418.8,1463.7 2461.5,1463.1 2461.5,1539.3 2418.8,1541.3 2376,1539.7 2333.2,1542 2290.5,1539.2 2247.8,1537.6 2205,1537.7 2162.2,1538.2 2119.5,1540.5 2076.8,1541.9 2034,1538.1 1991.2,1539.1 1948.5,1539.4 1905.8,1537.9 1863,1539.2 1820.2,1542.2 1777.5,1544.6 1734.8,1544.4 1692,1543.8 1649.2,1543.1 1606.5,1541.7"/>
<polygon points="1606.5,1383.7 1649.2,1385.7 1692,1386.7 1734.8,1383.9 1777.5,1383.8 1820.2,1387.1 1863,1389.2 1905.8,1390.2 1948.5,1386.1 1991.2,1384.5 2034,1387.6 2076.8,1385.2 2119.5,1382.9 2162.2,1383.6 2205,1385.9 2247.8,1385.9 2290.5,1388.5 2333.2,1390.6 2376,1385.9 2418.8,1385.3 2461.5,1385.8 2461.5,1457.9 2418.8,1457.4 2376,1456 2333.2,1458.1 2290.5,1456.5 2247.8,1458.8 2205,1459.6 2162.2,1459.5 2119.5,1458.3 2076.8,1462.2 2034,1460.7 1991.2,1461.1 1948.5,1460 1905.8,1461.8 1863,1461.1 1820.2,1460.5 1777.5,1458.9 1734.8,1455.5 1692,1456.2 1649.2,1458 1606.5,1456.4"/>
<polygon points="1606.5,1304.6 1649.2,1307.7 1692,1306.7 1734.8,1307.8 1777.5,1309.5 1820.2,1305.5 1863,1307.2 1905.8,1306.3 1948.5,1304.2 1991.2,1304.1 2034,1305.5 2076.8,1305.1 2119.5,1304.6 2162.2,1302.9 2205,1306.2 2247.8,1305.2 2290.5,1306.5 2333.2,1307.1 2376,1304.4 2418.8,1304.5 2461.5,1304.3 2461.5,1378.9 2418.8,1379.6 2376,1377.3 2333.2,1373.3 2290.5,1373.9 2247.8,1376.2 2205,1376 2162.2,1372.4 2119.5,1373.4 2076.8,1374.5 2034,1374.4 1991.2,1377.1 1948.5,1376.7 1905.8,1376.7 1863,1375.7 1820.2,1376.7 1777.5,1376.3 1734.8,1375.7 1692,1375.7 1649.2,1373.8 1606.5,1375.6"/>
<polygon points="1606.5,1224.1 1649.2,1224.5 1692,1225.8 1734.8,1222.8 1777.5,1220.5 1820.2,1218.5 1863,1222 1905.8,1220.4 1948.5,1219.9 1991.2,1222.8 2034,1219.9 2076.8,1217.7 2119.5,1221.2 2162.2,1218.5 2205,1220.5 2247.8,1221 2290.5,1218.2 2333.2,1217.7 2376,1221.5 2418.8,1221.9 2461.5,1221.6 2461.5,1298.5 2418.8,1296.9 2376,1295.7 2333.2,1299 2290.5,1296.8 2247.8,1295.4 2205,1291.1 2162.2,1292.8 2119.5,1294 2076.8,1298.3 2034,1295.8 1991.2,1296.2 1948.5,1298.4 1905.8,1298.9 1863,1296.4 1820.2,1296.7 1777.5,1298.3 1734.8,1295.3 1692,1297.8 1649.2,1297.8 1606.5,1296.4"/>
</g>
<g fill="none" stroke="#585858" stroke-width="1.5" stroke-opacity="0.9">
<polyline points="1606.5,1790.8 1649.2,1790 1692,1791.7 1734.8,1793.4 1777.5,1791.4 1820.2,1791.4 1863,1790.9 1905.8,1793 1948.5,1794.7 1991.2,1793.2 2034,1793.3 2076.8,1794.8 2119.5,1792.3 2162.2,1791.8 2205,1790.8 2247.8,1793 2290.5,1791.4 2333.2,1793.5 2376,1791.7 2418.8,1792.1 2461.5,1792.9"/>
<polyline points="1606.5,1788.6 1649.2,1790 1692,1791.6 1734.8,1791.1 1777.5,1791.9 1820.2,1793.1 1863,1793.6 1905.8,1794.5 1948.5,1794.4 1991.2,1794 2034,1793.7 2076.8,1791.6 2119.5,1792.1 2162.2,1791.5 2205,1792.5 2247.8,1792.5 2290.5,1793.8 2333.2,1793.8 2376,1794.7 2418.8,1792.4 2461.5,1791.6"/>
<polyline points="1606.5,1796.4 1649.2,1794.6 1692,1796.7 1734.8,1795.2 1777.5,1795.8 1820.2,1796 1863,1794.7 1905.8,1795.6 1948.5,1795.8 1991.2,1795.1 2034,1793.5 2076.8,1795 2119.5,1794 2162.2,1793.8 2205,1794 2247.8,1795.1 2290.5,1796.1 2333.2,1797.9 2376,1798.9 2418.8,1799.9 2461.5,1797.8"/>
<polyline points="1606.5,1796.6 1649.2,1797.8 1692,1795.6 1734.8,1794 1777.5,1793.6 1820.2,1795 1863,1796.1 1905.8,1796.7 1948.5,1796.4 1991.2,1797.4 2034,1797 2076.8,1797.4 2119.5,1794.8 2162.2,1793 2205,1793.5 2247.8,1795 2290.5,1793.2 2333.2,1794.5 2376,1795.3 2418.8,1797.3 2461.5,1797.2"/>
<polyline points="1606.5,1791.6 1649.2,1792.8 1692,1792.4 1734.8,1794.2 1777.5,1794.4 1820.2,1795.2 1863,1794.5 1905.8,1795.5 1948.5,1796.3 1991.2,1795.7 2034,1795.6 2076.8,1794 2119.5,1793.2 2162.2,1791.7 2205,1791 2247.8,1790.3 2290.5,1789.1 2333.2,1790.3 2376,1791.4 2418.8,1789.5 2461.5,1791.5"/>
<polyline points="1606.5,1786.9 1649.2,1789 1692,1787.2 1734.8,1785.7 1777.5,1785.7 1820.2,1785.3 1863,1784.7 1905.8,1787 1948.5,1787.1 1991.2,1787.2 2034,1785.9 2076.8,1785.1 2119.5,1784.5 2162.2,1785.1 2205,1784.2 2247.8,1784.4 2290.5,1784.6 2333.2,1786.6 2376,1788.8 2418.8,1789.9 2461.5,1789.7"/>
<polyline points="1606.5,1796.3 1649.2,1796.4 1692,1796.3 1734.8,1796.2 1777.5,1795.9 1820.2,1796.4 1863,1798.8 1905.8,1797.3 1948.5,1796.4 1991.2,1796.7 2034,1796.9 2076.8,1796.4 2119.5,1798.6 2162.2,1797.3 2205,1798.4 2247.8,1799.9 2290.5,1800.2 2333.2,1798.5 2376,1799.5 2418.8,1797.9 2461.5,1795.9"/>
<polyline points="1606.5,1791.8 1649.2,1791.7 1692,1790.8 1734.8,1789.9 1777.5,1789.8 1820.2,1789.7 1863,1791.9 1905.8,1793.1 1948.5,1793.6 1991.2,1791.9 2034,1792.5 2076.8,1791.9 2119.5,1793.7 2162.2,1794.8 2205,1794.7 2247.8,1792.9 2290.5,1791.7 2333.2,1790.8 2376,1791.8 2418.8,1791.6 2461.5,1791.6"/>
<polyline points="1606.5,1793.3 1649.2,1791.2 1692,1792.6 1734.8,1790.4 1777.5,1789 1820.2,1791.8 1863,1791.9 1905.8,1790.6 1948.5,1789 1991.2,1790 2034,1791.5 2076.8,1792.7 2119.5,1790.6 2162.2,1792.1 2205,1791.7 2247.8,1793.2 2290.5,1792.6 2333.2,1790.5 2376,1792.4 2418.8,1790.9 2461.5,1791.1"/>
<polyline points="1606.5,1784 1649.2,1785.4 1692,1783.6 1734.8,1784 1777.5,1786.2 1820.2,1787.8 1863,1787 1905.8,1786.5 1948.5,1786.8 1991.2,1787.7 2034,1787.5 2076.8,1787.4 2119.5,1785.3 2162.2,1787.2 2205,1785.5 2247.8,1783.9 2290.5,1785.7 2333.2,1783.7 2376,1783.2 2418.8,1782 2461.5,1783.7"/>
<polyline points="1606.5,1793.7 1649.2,1791.5 1692,1791.7 1734.8,1792.7 1777.5,1793.2 1820.2,1794.1 1863,1795.7 1905.8,1796.6 1948.5,1794.2 1991.2,1794.8 2034,1792.6 2076.8,1793.8 2119.5,1794.6 2162.2,1794.2 2205,1795.2 2247.8,1795.1 2290.5,1792.7 2333.2,1791.3 2376,1790.6 2418.8,1790.9 2461.5,1789.9"/>
<polyline points="1606.5,1701.9 1649.2,1701.1 1692,1703.2 1734.8,1701.9 1777.5,1702.2 1820.2,1701.1 1863,1700.8 1905.8,1702.1 1948.5,1703.9 1991.2,1701.6 2034,1703.3 2076.8,1703.1 2119.5,1703.4 2162.2,1703.9 2205,1702.4 2247.8,1700.3 2290.5,1701.8 2333.2,1701.3 2376,1702.3 2418.8,1702 2461.5,1702.5"/>
<polyline points="1606.5,1716.2 1649.2,1716.9 1692,1714.6 1734.8,1714.7 1777.5,1715.9 1820.2,1713.9 1863,1712.1 1905.8,1713.1 1948.5,1715.1 1991.2,1716.2 2034,1717.5 2076.8,1717.3 2119.5,1718.2 2162.2,1718.3 2205,1718.2 2247.8,1716.9 2290.5,1714.7 2333.2,1713.7 2376,1714.4 2418.8,1714.8 2461.5,1714.7"/>
<polyline points="1606.5,1712 1649.2,1713.6 1692,1713.8 1734.8,1711.2 1777.5,1712.8 1820.2,1712.3 1863,1711.5 1905.8,1710 1948.5,1711.5 1991.2,1712.4 2034,1713.1 2076.8,1713 2119.5,1712.7 2162.2,1710.5 2205,1709.3 2247.8,1708.4 2290.5,1711.2 2333.2,1713.2 2376,1711.8 2418.8,1710 2461.5,1710.5"/>
<polyline points="1606.5,1709.9 1649.2,1709.8 1692,1707.5 1734.8,1706.3 1777.5,1705.3 1820.2,1704.1 1863,1706.3 1905.8,1708.4 1948.5,1709.6 1991.2,1709 2034,1707.9 2076.8,1706.1 2119.5,1705.7 2162.2,1705.8 2205,1705.3 2247.8,1706.3 2290.5,1706.6 2333.2,1708.8 2376,1707.4 2418.8,1708.6 2461.5,1706.7"/>
<polyline points="1606.5,1707.7 1649.2,1709 1692,1709.4 1734.8,1708.1 1777.5,1707 1820.2,1708.5 1863,1709.8 1905.8,1708.9 1948.5,1707.9 1991.2,1708.1 2034,1708.9 2076.8,1707.9 2119.5,1709.6 2162.2,1709.6 2205,1709 2247.8,1706.5 2290.5,1706 2333.2,1704.7 2376,1705.5 2418.8,1707 2461.5,1708"/>
<polyline points="1606.5,1700.9 1649.2,1702 1692,1703.9 1734.8,1703.3 1777.5,1702.1 1820.2,1702.3 1863,1703.2 1905.8,1702.1 1948.5,1700.2 1991.2,1701.8 2034,1703.7 2076.8,1703.8 2119.5,1703.5 2162.2,1702.3 2205,1703.3 2247.8,1701.7 2290.5,1700.7 2333.2,1701 2376,1702.5 2418.8,1700.3 2461.5,1701.5"/>
<polyline points="1606.5,1705.2 1649.2,1706 1692,1704.4 1734.8,1705.1 1777.5,1703 1820.2,1703.3 1863,1704.8 1905.8,1705.7 1948.5,1705.6 1991.2,1704.5 2034,1702.5 2076.8,1704.4 2119.5,1704.8 2162.2,1705.7 2205,1703.3 2247.8,1705 2290.5,1706.6 2333.2,1707.6 2376,1707 2418.8,1704.5 2461.5,1702.8"/>
<polyline points="1606.5,1703.5 1649.2,1702.3 1692,1704 1734.8,1705.7 1777.5,1703.9 1820.2,1703.4 1863,1705.9 1905.8,1705.1 1948.5,1705.7 1991.2,1706.2 2034,1706.7 2076.8,1707.7 2119.5,1709.1 2162.2,1708.9 2205,1708.5 2247.8,1705.7 2290.5,1707.2 2333.2,1704.8 2376,1706.2 2418.8,1706.6 2461.5,1705"/>
<polyline points="1606.5,1704.3 1649.2,1706.1 1692,1705.6 1734.8,1705.6 1777.5,1703.5 1820.2,1704.9 1863,1705.2 1905.8,1703.2 1948.5,1705.4 1991.2,1705.4 2034,1703.7 2076.8,1702.7 2119.5,1705 2162.2,1706.6 2205,1707.6 2247.8,1704.8 2290.5,1705.6 2333.2,1704.1 2376,1702.5 2418.8,1703.6 2461.5,1704.7"/>
<polyline points="1606.5,1701.4 1649.2,1702.5 1692,1701.4 1734.8,1702.3 1777.5,1703.1 1820.2,1704.7 1863,1702.8 1905.8,1700.8 1948.5,1700.6 1991.2,1699.1 2034,1701.9 2076.8,1703 2119.5,1702.7 2162.2,1700.6 2205,1699.1 2247.8,1700.4 2290.5,1701.8 2333.2,1702.1 2376,1702.1 2418.8,1700.2 2461.5,1702"/>
<polyline points="1606.5,1703.4 1649.2,1702.4 1692,1701.9 1734.8,1702.2 1777.5,1703.5 1820.2,1704.5 1863,1705 1905.8,1703.7 1948.5,1705.6 1991.2,1706.5 2034,1704.8 2076.8,1705.7 2119.5,1707.1 2162.2,1708.2 2205,1706.8 2247.8,1706.8 2290.5,1704.1 2333.2,1702.6 2376,1701.1 2418.8,1703.1 2461.5,1705.2"/>
<polyline points="1606.5,1634.1 1649.2,1633.2 1692,1633.7 1734.8,1634.9 1777.5,1635 1820.2,1634.2 1863,1633.5 1905.8,1632.6 1948.5,1631.7 1991.2,1631.7 2034,1634 2076.8,1632.6 2119.5,1633.9 2162.2,1633.7 2205,1634.3 2247.8,1633.3 2290.5,1634.7 2333.2,1635.6 2376,1636.2 2418.8,1637 2461.5,1634.5"/>
<polyline points="1606.5,1626.9 1649.2,1627.1 1692,1624.8 1734.8,1625.2 1777.5,1626.6 1820.2,1625.2 1863,1624.9 1905.8,1623.3 1948.5,1625.8 1991.2,1626 2034,1624.8 2076.8,1623.8 2119.5,1622.8 2162.2,1625.7 2205,1626.7 2247.8,1628.1 2290.5,1628.8 2333.2,1626.1 2376,1625.8 2418.8,1624.1 2461.5,1625.3"/>
<polyline points="1606.5,1621.7 1649.2,1622.6 1692,1621.1 1734.8,1619.4 1777.5,1621.6 1820.2,1621.2 1863,1620.8 1905.8,1622.2 1948.5,1622.5 1991.2,1623.7 2034,1624.2 2076.8,1624.4 2119.5,1623.1 2162.2,1622 2205,1623.1 2247.8,1624.6 2290.5,1624.4 2333.2,1622.8 2376,1623.7 2418.8,1623.8 2461.5,1624.3"/>
<polyline points="1606.5,1622.4 1649.2,1624.3 1692,1625.4 1734.8,1625 1777.5,1624.1 1820.2,1623.1 1863,1624.6 1905.8,1625.4 1948.5,1623.8 1991.2,1623.8 2034,1624.3 2076.8,1624.6 2119.5,1622.2 2162.2,1623.1 2205,1622.7 2247.8,1623.3 2290.5,1623.4 2333.2,1621.7 2376,1619.9 2418.8,1621.3 2461.5,1622.9"/>
<polyline points="1606.5,1625 1649.2,1626.6 1692,1624.1 1734.8,1624.3 1777.5,1622.8 1820.2,1623.5 1863,1622 1905.8,1622.7 1948.5,1624.4 1991.2,1626.2 2034,1625.2 2076.8,1624.2 2119.5,1622.4 2162.2,1624.5 2205,1623.8 2247.8,1624.3 2290.5,1624.1 2333.2,1625.4 2376,1625.8 2418.8,1625.1 2461.5,1623"/>
<polyline points="1606.5,1633.9 1649.2,1632.7 1692,1631.1 1734.8,1633.2 1777.5,1634.9 1820.2,1632.8 1863,1631.2 1905.8,1632.1 1948.5,1634.4 1991.2,1632.5 2034,1633.4 2076.8,1631.9 2119.5,1632 2162.2,1631.2 2205,1633.4 2247.8,1632.4 2290.5,1634 2333.2,1634.3 2376,1632.8 2418.8,1631.8 2461.5,1633.7"/>
<polyline points="1606.5,1632.5 1649.2,1632.3 1692,1632.7 1734.8,1634.1 1777.5,1634.5 1820.2,1632.9 1863,1631 1905.8,1633.2 1948.5,1632.6 1991.2,1631.4 2034,1633.5 2076.8,1631.7 2119.5,1633.4 2162.2,1632.6 2205,1632.2 2247.8,1631.7 2290.5,1632.6 2333.2,1632.8 2376,1632.2 2418.8,1632.5 2461.5,1631.7"/>
<polyline points="1606.5,1628.6 1649.2,1630.5 1692,1629.3 1734.8,1629.1 1777.5,1630 1820.2,1628.4 1863,1627.2 1905.8,1627.7 1948.5,1629.2 1991.2,1629.1 2034,1630.5 2076.8,1631.3 2119.5,1630.7 2162.2,1631.7 2205,1630.9 2247.8,1630.1 2290.5,1631.5 2333.2,1630 2376,1631.2 2418.8,1629.4 2461.5,1627.9"/>
<polyline points="1606.5,1629.1 1649.2,1628.5 1692,1628.7 1734.8,1626.4 1777.5,1628.2 1820.2,1626.4 1863,1624.7 1905.8,1624.5 1948.5,1624 1991.2,1626.3 2034,1624.6 2076.8,1625.4 2119.5,1624.1 2162.2,1623.4 2205,1625.9 2247.8,1625.1 2290.5,1624 2333.2,1626.8 2376,1627.5 2418.8,1626.4 2461.5,1628.1"/>
<polyline points="1606.5,1621.9 1649.2,1620.3 1692,1622 1734.8,1621.7 1777.5,1619.8 1820.2,1621.3 1863,1622.2 1905.8,1621.8 1948.5,1622.3 1991.2,1623.8 2034,1624.3 2076.8,1624.7 2119.5,1621.8 2162.2,1620.8 2205,1619.2 2247.8,1621.1 2290.5,1619.9 2333.2,1621.8 2376,1621.4 2418.8,1620.7 2461.5,1621.4"/>
<polyline points="1606.5,1621.1 1649.2,1620.9 1692,1619.5 1734.8,1621.7 1777.5,1619.6 1820.2,1619.6 1863,1620.5 1905.8,1619.6 1948.5,1621.1 1991.2,1619.2 2034,1619.5 2076.8,1620.6 2119.5,1619.8 2162.2,1620.5 2205,1622.1 2247.8,1620.9 2290.5,1622.9 2333.2,1621.1 2376,1622.2 2418.8,1621.4 2461.5,1619.4"/>
<polyline points="1606.5,1543.5 1649.2,1544.5 1692,1546.5 1734.8,1547.7 1777.5,1548.1 1820.2,1546.5 1863,1546.1 1905.8,1545.5 1948.5,1543.5 1991.2,1545.2 2034,1546 2076.8,1544.9 2119.5,1546.6 2162.2,1547.9 2205,1547.4 2247.8,1548.1 2290.5,1547.5 2333.2,1547.6 2376,1546.3 2418.8,1545.3 2461.5,1546.2"/>
<polyline points="1606.5,1543.7 1649.2,1545.2 1692,1542.9 1734.8,1544.2 1777.5,1545.4 1820.2,1546.5 1863,1545.1 1905.8,1543.1 1948.5,1542.1 1991.2,1543 2034,1544.1 2076.8,1546 2119.5,1544.7 2162.2,1544.1 2205,1544.5 2247.8,1543.7 2290.5,1543.9 2333.2,1542 2376,1541.5 2418.8,1543.2 2461.5,1541.7"/>
<polyline points="1606.5,1553 1649.2,1553.4 1692,1554.4 1734.8,1555.8 1777.5,1553.8 1820.2,1555.6 1863,1554.6 1905.8,1552.4 1948.5,1554.1 1991.2,1555 2034,1554 2076.8,1553.7 2119.5,1552.9 2162.2,1551.7 2205,1553.4 2247.8,1554.1 2290.5,1554.6 2333.2,1556 2376,1553.5 2418.8,1552.2 2461.5,1551.6"/>
<polyline points="1606.5,1552.3 1649.2,1551.7 1692,1552.5 1734.8,1551.8 1777.5,1552.6 1820.2,1554 1863,1555.6 1905.8,1556.1 1948.5,1557.3 1991.2,1556.9 2034,1554.9 2076.8,1553.7 2119.5,1552.3 2162.2,1551.9 2205,1553.4 2247.8,1553.3 2290.5,1553.7 2333.2,1552.5 2376,1552.8 2418.8,1554 2461.5,1553.3"/>
<polyline points="1606.5,1539.2 1649.2,1537.3 1692,1539.5 1734.8,1540 1777.5,1540.5 1820.2,1538.8 1863,1536.7 1905.8,1536.1 1948.5,1537.4 1991.2,1536 2034,1537.3 2076.8,1538.6 2119.5,1536.7 2162.2,1536.6 2205,1536.2 2247.8,1536.1 2290.5,1534.7 2333.2,1535.8 2376,1535.1 2418.8,1535.2 2461.5,1534.5"/>
<polyline points="1606.5,1545.7 1649.2,1545.7 1692,1546.8 1734.8,1547.9 1777.5,1547 1820.2,1548.7 1863,1546.4 1905.8,1547.9 1948.5,1549.5 1991.2,1550.2 2034,1547.4 2076.8,1547.8 2119.5,1548.9 2162.2,1550.2 2205,1551 2247.8,1548.9 2290.5,1547.7 2333.2,1546.6 2376,1545.6 2418.8,1547.7 2461.5,1547"/>
<polyline points="1606.5,1546.6 1649.2,1545.6 1692,1544.7 1734.8,1547.4 1777.5,1546.1 1820.2,1544.9 1863,1544 1905.8,1546.7 1948.5,1548.3 1991.2,1549.7 2034,1551.1 2076.8,1548.7 2119.5,1547.2 2162.2,1546.8 2205,1545.8 2247.8,1545.9 2290.5,1547.3 2333.2,1549.1 2376,1550.4 2418.8,1548.6 2461.5,1549.6"/>
<polyline points="1606.5,1548.9 1649.2,1550.8 1692,1551.1 1734.8,1551.2 1777.5,1549.6 1820.2,1549.8 1863,1550.2 1905.8,1547.8 1948.5,1548 1991.2,1546.8 2034,1546.8 2076.8,1549.3 2119.5,1549.4 2162.2,1549.4 2205,1548.1 2247.8,1548.8 2290.5,1547.9 2333.2,1548 2376,1549.3 2418.8,1547.6 2461.5,1549.6"/>
<polyline points="1606.5,1541.7 1649.2,1543.4 1692,1543.7 1734.8,1541.6 1777.5,1539.3 1820.2,1541.7 1863,1541.3 1905.8,1541.1 1948.5,1539.7 1991.2,1541.2 2034,1541 2076.8,1541.4 2119.5,1539.7 2162.2,1540.9 2205,1538.9 2247.8,1540.3 2290.5,1541.5 2333.2,1540.3 2376,1540.4 2418.8,1542 2461.5,1540.9"/>
<polyline points="1606.5,1551.3 1649.2,1550.9 1692,1550.2 1734.8,1550.3 1777.5,1551.6 1820.2,1552.3 1863,1552.8 1905.8,1551.1 1948.5,1553.2 1991.2,1551.4 2034,1553.7 2076.8,1554.5 2119.5,1554.9 2162.2,1552.5 2205,1552.5 2247.8,1553 2290.5,1551.3 2333.2,1552.7 2376,1552.8 2418.8,1552.6 2461.5,1551.5"/>
<polyline points="1606.5,1540.9 1649.2,1541.7 1692,1542.3 1734.8,1543.5 1777.5,1541.5 1820.2,1540.8 1863,1540 1905.8,1541.8 1948.5,1542 1991.2,1540.7 2034,1540.6 2076.8,1542.4 2119.5,1542.3 2162.2,1540.5 2205,1541.8 2247.8,1543 2290.5,1543.4 2333.2,1542 2376,1540.4 2418.8,1542.1 2461.5,1543.4"/>
<polyline points="1606.5,1468.6 1649.2,1468.3 1692,1469.6 1734.8,1469.8 1777.5,1470.5 1820.2,1467.8 1863,1466.9 1905.8,1468.8 1948.5,1466.7 1991.2,1468.7 2034,1468.9 2076.8,1466.6 2119.5,1465.8 2162.2,1465.5 2205,1466.5 2247.8,1468.1 2290.5,1467.5 2333.2,1469.2 2376,1470 2418.8,1469.9 2461.5,1471.2"/>
<polyline points="1606.5,1464.2 1649.2,1463.8 1692,1464.3 1734.8,1464.1 1777.5,1464.6 1820.2,1466.3 1863,1465.6 1905.8,1466 1948.5,1464.8 1991.2,1463.3 2034,1464.2 2076.8,1464.3 2119.5,1463.6 2162.2,1464.5 2205,1465.9 2247.8,1464.8 2290.5,1463.5 2333.2,1462.9 2376,1462.9 2418.8,1462.2 2461.5,1462.4"/>
<polyline points="1606.5,1461.6 1649.2,1462.4 1692,1461.6 1734.8,1463.2 1777.5,1463 1820.2,1461.4 1863,1460.5 1905.8,1460.3 1948.5,1461.7 1991.2,1461.9 2034,1462 2076.8,1461.3 2119.5,1461.7 2162.2,1460.9 2205,1459.3 2247.8,1461.3 2290.5,1460.7 2333.2,1459.8 2376,1460.7 2418.8,1461 2461.5,1459.2"/>
<polyline points="1606.5,1471.2 1649.2,1472.6 1692,1471.1 1734.8,1469.3 1777.5,1469.9 1820.2,1471.9 1863,1471.5 1905.8,1471.2 1948.5,1470.4 1991.2,1470.6 2034,1470.3 2076.8,1469.2 2119.5,1469.8 2162.2,1470.6 2205,1469 2247.8,1470.9 2290.5,1470.3 2333.2,1471 2376,1470 2418.8,1472 2461.5,1469.8"/>
<polyline points="1606.5,1468 1649.2,1468.3 1692,1468.1 1734.8,1469.5 1777.5,1468.8 1820.2,1468.3 1863,1466.9 1905.8,1467.3 1948.5,1467.9 1991.2,1468.5 2034,1466.8 2076.8,1464.8 2119.5,1465.1 2162.2,1466.6 2205,1465.2 2247.8,1465.9 2290.5,1467.2 2333.2,1468.4 2376,1466.6 2418.8,1465.2 2461.5,1464.9"/>
<polyline points="1606.5,1464 1649.2,1465.2 1692,1463 1734.8,1464 1777.5,1463.5 1820.2,1462.4 1863,1461.7 1905.8,1462.6 1948.5,1464 1991.2,1463.9 2034,1465.5 2076.8,1463.8 2119.5,1464.5 2162.2,1463 2205,1464.3 2247.8,1464.8 2290.5,1465.7 2333.2,1465.6 2376,1466.5 2418.8,1467.8 2461.5,1465.9"/>
<polyline points="1606.5,1468.4 1649.2,1468.9 1692,1468.5 1734.8,1468.5 1777.5,1467.6 1820.2,1466.9 1863,1467.6 1905.8,1465.7 1948.5,1464.8 1991.2,1467.4 2034,1466 2076.8,1464.8 2119.5,1464.4 2162.2,1466.7 2205,1465.6 2247.8,1465.6 2290.5,1468.1 2333.2,1469.9 2376,1467.3 2418.8,1466.7 2461.5,1467.9"/>
<polyline points="1606.5,1471.8 1649.2,1472.4 1692,1470.6 1734.8,1471.2 1777.5,1472.3 1820.2,1470.1 1863,1468.9 1905.8,1470.7 1948.5,1469 1991.2,1468.9 2034,1468.2 2076.8,1468.1 2119.5,1467.2 2162.2,1466.9 2205,1466.6 2247.8,1468.9 2290.5,1468.5 2333.2,1468.9 2376,1468.4 2418.8,1469.2 2461.5,1468"/>
<polyline points="1606.5,1463.8 1649.2,1464.6 1692,1465.6 1734.8,1464.8 1777.5,1466 1820.2,1465.2 1863,1466 1905.8,1465.1 1948.5,1464.4 1991.2,1463.8 2034,1462 2076.8,1464.3 2119.5,1462.5 2162.2,1462.7 2205,1462.5 2247.8,1461.9 2290.5,1460.8 2333.2,1462 2376,1462.6 2418.8,1460.8 2461.5,1463.1"/>
<polyline points="1606.5,1461 1649.2,1463.1 1692,1462.2 1734.8,1461.2 1777.5,1459.6 1820.2,1460.8 1863,1459.1 1905.8,1459.8 1948.5,1460.4 1991.2,1459.1 2034,1461.7 2076.8,1460.8 2119.5,1460.5 2162.2,1461.5 2205,1460 2247.8,1461 2290.5,1461.3 2333.2,1461.2 2376,1460.2 2418.8,1461.8 2461.5,1462"/>
<polyline points="1606.5,1464.8 1649.2,1463.6 1692,1464.8 1734.8,1463.6 1777.5,1464.4 1820.2,1464.6 1863,1465.7 1905.8,1465.4 1948.5,1463.4 1991.2,1463.2 2034,1462.6 2076.8,1464 2119.5,1465.1 2162.2,1465.9 2205,1465.3 2247.8,1464.7 2290.5,1463.6 2333.2,1465.9 2376,1464.7 2418.8,1463.3 2461.5,1463.6"/>
<polyline points="1606.5,1390.1 1649.2,1391.9 1692,1392.4 1734.8,1389.7 1777.5,1389.2 1820.2,1388.6 1863,1387.6 1905.8,1386.4 1948.5,1386.8 1991.2,1387.1 2034,1387.2 2076.8,1387 2119.5,1387.3 2162.2,1387.2 2205,1389 2247.8,1388.4 2290.5,1388.8 2333.2,1387.9 2376,1390 2418.8,1391.1 2461.5,1392.4"/>
<polyline points="1606.5,1375.7 1649.2,1375.6 1692,1376.7 1734.8,1375.6 1777.5,1375 1820.2,1375.5 1863,1377 1905.8,1378 1948.5,1378.1 1991.2,1378.7 2034,1378.6 2076.8,1377.7 2119.5,1375.8 2162.2,1378.1 2205,1377.6 2247.8,1379.5 2290.5,1380.4 2333.2,1378.2 2376,1377.7 2418.8,1375.9 2461.5,1376.6"/>
<polyline points="1606.5,1390.3 1649.2,1389.8 1692,1388.1 1734.8,1386.6 1777.5,1387.7 1820.2,1388.7 1863,1390.7 1905.8,1389.9 1948.5,1391 1991.2,1392.1 2034,1393.4 2076.8,1394.4 2119.5,1392.3 2162.2,1393.1 2205,1390.2 2247.8,1391.8 2290.5,1389.7 2333.2,1391.3 2376,1392.8 2418.8,1391.1 2461.5,1391.8"/>
<polyline points="1606.5,1379.4 1649.2,1380.8 1692,1378.9 1734.8,1377.8 1777.5,1376.4 1820.2,1376 1863,1378.3 1905.8,1377.7 1948.5,1377 1991.2,1377.5 2034,1375.9 2076.8,1377.6 2119.5,1375.8 2162.2,1375.6 2205,1378.4 2247.8,1380.3 2290.5,1379 2333.2,1377.4 2376,1379.4 2418.8,1379.8 2461.5,1378.3"/>
<polyline points="1606.5,1385.9 1649.2,1386.4 1692,1388.5 1734.8,1388.7 1777.5,1388 1820.2,1388.1 1863,1387.1 1905.8,1388.7 1948.5,1387.1 1991.2,1387.7 2034,1387 2076.8,1386.6 2119.5,1387.2 2162.2,1387.7 2205,1386.4 2247.8,1384.9 2290.5,1384.5 2333.2,1385.1 2376,1386.6 2418.8,1388.7 2461.5,1386.3"/>
<polyline points="1606.5,1377.3 1649.2,1378.3 1692,1378 1734.8,1376.2 1777.5,1375.6 1820.2,1376.1 1863,1377.6 1905.8,1378.2 1948.5,1376.7 1991.2,1377.8 2034,1377.3 2076.8,1377.3 2119.5,1376 2162.2,1375.5 2205,1377.3 2247.8,1379.8 2290.5,1380.4 2333.2,1380.2 2376,1379.3 2418.8,1377.8 2461.5,1376.5"/>
<polyline points="1606.5,1388.1 1649.2,1387.2 1692,1386.4 1734.8,1387 1777.5,1388.6 1820.2,1387.4 1863,1386.8 1905.8,1386.8 1948.5,1385.9 1991.2,1387.6 2034,1389.8 2076.8,1389.5 2119.5,1388.2 2162.2,1389.8 2205,1388.7 2247.8,1387.1 2290.5,1388.9 2333.2,1388.6 2376,1388.1 2418.8,1388.7 2461.5,1390.1"/>
<polyline points="1606.5,1384.9 1649.2,1384 1692,1384.8 1734.8,1386.8 1777.5,1385.3 1820.2,1384.4 1863,1385.9 1905.8,1385.6 1948.5,1384.1 1991.2,1383.1 2034,1383.8 2076.8,1384.6 2119.5,1384.6 2162.2,1386.3 2205,1387.4 2247.8,1388.3 2290.5,1386.8 2333.2,1387.1 2376,1386.5 2418.8,1386.7 2461.5,1386.4"/>
<polyline points="1606.5,1389.5 1649.2,1386.9 1692,1387.7 1734.8,1389.3 1777.5,1388.3 1820.2,1386.9 1863,1388.5 1905.8,1387.9 1948.5,1388.5 1991.2,1388.1 2034,1390 2076.8,1391.2 2119.5,1388.1 2162.2,1386.5 2205,1386.9 2247.8,1386.9 2290.5,1388.1 2333.2,1386.8 2376,1387.4 2418.8,1385.6 2461.5,1385.2"/>
<polyline points="1606.5,1374.8 1649.2,1376.4 1692,1378.4 1734.8,1379.1 1777.5,1379.7 1820.2,1380.5 1863,1381.2 1905.8,1379.6 1948.5,1377.2 1991.2,1377.2 2034,1375.2 2076.8,1374 2119.5,1376.6 2162.2,1376.2 2205,1376.8 2247.8,1378.3 2290.5,1376 2333.2,1377.2 2376,1376.8 2418.8,1376.2 2461.5,1374.5"/>
<polyline points="1606.5,1379.6 1649.2,1379.7 1692,1380.9 1734.8,1378.5 1777.5,1376.7 1820.2,1378.5 1863,1380.6 1905.8,1381.2 1948.5,1381.2 1991.2,1378.9 2034,1377.3 2076.8,1376.5 2119.5,1379.1 2162.2,1378 2205,1377.5 2247.8,1377.4 2290.5,1375.9 2333.2,1378.7 2376,1380.3 2418.8,1378.9 2461.5,1377.2"/>
<polyline points="1606.5,1298 1649.2,1297.4 1692,1296.3 1734.8,1298.2 1777.5,1298.6 1820.2,1299.2 1863,1300.1 1905.8,1299.3 1948.5,1300 1991.2,1300.2 2034,1300.8 2076.8,1299 2119.5,1300.4 2162.2,1298.6 2205,1299.4 2247.8,1300.6 2290.5,1297.8 2333.2,1298.8 2376,1296.5 2418.8,1295.2 2461.5,1294.2"/>
<polyline points="1606.5,1306.2 1649.2,1307.8 1692,1305.5 1734.8,1304.2 1777.5,1304.2 1820.2,1304.9 1863,1305.9 1905.8,1304.6 1948.5,1305.1 1991.2,1304.8 2034,1306.6 2076.8,1307.6 2119.5,1308.9 2162.2,1307.2 2205,1306.6 2247.8,1307.9 2290.5,1305.8 2333.2,1306.8 2376,1306.9 2418.8,1308 2461.5,1308.4"/>
<polyline points="1606.5,1295.2 1649.2,1296.3 1692,1295.8 1734.8,1296.2 1777.5,1294 1820.2,1295.8 1863,1293.4 1905.8,1295.6 1948.5,1293.6 1991.2,1293.2 2034,1294.8 2076.8,1294.8 2119.5,1295.6 2162.2,1296.3 2205,1297 2247.8,1296.8 2290.5,1294.1 2333.2,1292.2 2376,1291.1 2418.8,1293.8 2461.5,1294.9"/>
<polyline points="1606.5,1295.4 1649.2,1293.9 1692,1294.7 1734.8,1292.4 1777.5,1294.7 1820.2,1293.1 1863,1293.9 1905.8,1295.3 1948.5,1296.8 1991.2,1294.5 2034,1294.1 2076.8,1295.2 2119.5,1295 2162.2,1292.9 2205,1294.3 2247.8,1293.8 2290.5,1295.2 2333.2,1296 2376,1294.2 2418.8,1293.1 2461.5,1294.5"/>
<polyline points="1606.5,1308.7 1649.2,1307.7 1692,1307.5 1734.8,1308.3 1777.5,1309.1 1820.2,1308 1863,1306.8 1905.8,1305.6 1948.5,1305.7 1991.2,1307.3 2034,1309 2076.8,1307.4 2119.5,1307.6 2162.2,1306.5 2205,1308.5 2247.8,1306.8 2290.5,1307.5 2333.2,1305.9 2376,1304.8 2418.8,1305.4 2461.5,1307.9"/>
<polyline points="1606.5,1293.5 1649.2,1291.9 1692,1293.3 1734.8,1294.6 1777.5,1292.9 1820.2,1293.6 1863,1294.9 1905.8,1295 1948.5,1294.1 1991.2,1295.9 2034,1295.1 2076.8,1294.8 2119.5,1294.3 2162.2,1295.6 2205,1294 2247.8,1292.5 2290.5,1291.3 2333.2,1292.6 2376,1292 2418.8,1292.9 2461.5,1292"/>
<polyline points="1606.5,1305.7 1649.2,1304.3 1692,1305.2 1734.8,1305.8 1777.5,1306.1 1820.2,1306.3 1863,1308.5 1905.8,1306.2 1948.5,1307.7 1991.2,1308.9 2034,1310 2076.8,1310.2 2119.5,1308 2162.2,1309.7 2205,1310.6 2247.8,1308.8 2290.5,1309.6 2333.2,1310.9 2376,1309.4 2418.8,1308.4 2461.5,1308"/>
<polyline points="1606.5,1298.4 1649.2,1296.4 1692,1295.6 1734.8,1297.8 1777.5,1299 1820.2,1298.4 1863,1297.9 1905.8,1298.5 1948.5,1299.5 1991.2,1299.1 2034,1299.9 2076.8,1298.5 2119.5,1296.5 2162.2,1298 2205,1297.4 2247.8,1296.2 2290.5,1297.7 2333.2,1296.1 2376,1294.5 2418.8,1295.6 2461.5,1296.3"/>
<polyline points="1606.5,1294.4 1649.2,1294.9 1692,1293 1734.8,1292.3 1777.5,1293.6 1820.2,1294.9 1863,1295.5 1905.8,1295.5 1948.5,1293.2 1991.2,1292.4 2034,1291.3 2076.8,1291 2119.5,1290.6 2162.2,1293.6 2205,1293.8 2247.8,1292.1 2290.5,1291.1 2333.2,1293.1 2376,1293.9 2418.8,1293.5 2461.5,1294.4"/>
<polyline points="1606.5,1301.3 1649.2,1301.1 1692,1300.6 1734.8,1302.3 1777.5,1302.9 1820.2,1300 1863,1298.7 1905.8,1297.2 1948.5,1297.4 1991.2,1296.8 2034,1296 2076.8,1295.5 2119.5,1298.6 2162.2,1298.3 2205,1299.7 2247.8,1298.9 2290.5,1300 2333.2,1299.7 2376,1297.9 2418.8,1297.9 2461.5,1299.4"/>
<polyline points="1606.5,1300 1649.2,1298.1 1692,1299.5 1734.8,1300.3 1777.5,1299.6 1820.2,1301.2 1863,1300.4 1905.8,1298.3 1948.5,1298.7 1991.2,1299.9 2034,1300 2076.8,1299.8 2119.5,1301.2 2162.2,1302.3 2205,1303.1 2247.8,1302.9 2290.5,1302.3 2333.2,1302.4 2376,1302.7 2418.8,1303.5 2461.5,1302.2"/>
<polyline points="1606.5,1216.6 1649.2,1216.5 1692,1216.7 1734.8,1216.4 1777.5,1218.4 1820.2,1217.3 1863,1217.8 1905.8,1217.7 1948.5,1217.3 1991.2,1217.7 2034,1218.8 2076.8,1219.9 2119.5,1220.8 2162.2,1219.9 2205,1220 2247.8,1219 2290.5,1221.2 2333.2,1221 2376,1218.4 2418.8,1219.6 2461.5,1218.9"/>
<polyline points="1606.5,1219.5 1649.2,1220.5 1692,1217.8 1734.8,1219.3 1777.5,1218 1820.2,1220.1 1863,1222.1 1905.8,1219.4 1948.5,1219.7 1991.2,1221.8 2034,1221.7 2076.8,1221.3 2119.5,1219.6 2162.2,1221.5 2205,1222.2 2247.8,1219.1 2290.5,1218.1 2333.2,1220.2 2376,1220.8 2418.8,1221.1 2461.5,1219.7"/>
<polyline points="1606.5,1871.6 1649.2,1870.1 1692,1869.1 1734.8,1870 1777.5,1869.5 1820.2,1869.1 1863,1868.8 1905.8,1869.9 1948.5,1869.2 1991.2,1869.1 2034,1868 2076.8,1871.1 2119.5,1869.6 2162.2,1872.8 2205,1871.3 2247.8,1871.2 2290.5,1871.5 2333.2,1869.4 2376,1869.9 2418.8,1871 2461.5,1870"/>
<polyline points="1606.5,1871.2 1649.2,1871.2 1692,1872.4 1734.8,1872.8 1777.5,1873.1 1820.2,1872 1863,1873.3 1905.8,1873.8 1948.5,1873.3 1991.2,1873.8 2034,1874.4 2076.8,1872.6 2119.5,1871 2162.2,1871.6 2205,1872.3 2247.8,1874.1 2290.5,1874.7 2333.2,1876 2376,1874.7 2418.8,1873.8 2461.5,1875.6"/>
</g>
<g fill="none" stroke="#777" stroke-width="1.4" stroke-opacity="0.55">
<polyline points="2162.2,1811 2205,1812.4 2247.8,1812.7 2290.5,1811.3 2333.2,1813.3"/>
<polyline points="2205,1850.8 2247.8,1850.5 2290.5,1851 2333.2,1850.4 2376,1850.5 2418.8,1849.3 2461.5,1848.8"/>
<polyline points="1820.2,1810.7 1863,1811.3 1905.8,1809.8 1948.5,1809.6"/>
<polyline points="1820.2,1846.1 1863,1844.9 1905.8,1846.5 1948.5,1847.6 1991.2,1847.5 2034,1847.6 2076.8,1846.4"/>
<polyline points="2076.8,1805.3 2119.5,1805.6 2162.2,1803.6 2205,1802.8"/>
<polyline points="2205,1846.2 2247.8,1845.4 2290.5,1844.2 2333.2,1843.7 2376,1844.9 2418.8,1846.6"/>
<polyline points="1734.8,1801.7 1777.5,1803.1 1820.2,1802.4 1863,1803.4 1905.8,1802.6"/>
<polyline points="1606.5,1860.6 1649.2,1859.8 1692,1861.4 1734.8,1861.6"/>
<polyline points="2034,1858.6 2076.8,1858.3 2119.5,1857.9 2162.2,1858.6"/>
<polyline points="1863,1776.6 1905.8,1776.2 1948.5,1776 1991.2,1777.3"/>
<polyline points="1948.5,1765.3 1991.2,1765.3 2034,1764.6 2076.8,1766.6 2119.5,1768.1 2162.2,1766.7 2205,1767.2"/>
<polyline points="1692,1771.3 1734.8,1772.3 1777.5,1770.5 1820.2,1770.2"/>
<polyline points="1991.2,1735.2 2034,1735.7 2076.8,1735.4 2119.5,1734 2162.2,1735.4 2205,1736.3 2247.8,1736.4"/>
<polyline points="2205,1764.1 2247.8,1762.6 2290.5,1761.9 2333.2,1763 2376,1762.8"/>
<polyline points="1649.2,1715.3 1692,1714.9 1734.8,1715 1777.5,1715.5 1820.2,1716"/>
<polyline points="2162.2,1738.8 2205,1739.5 2247.8,1739.3 2290.5,1740.3 2333.2,1738.2"/>
<polyline points="1649.2,1725.2 1692,1725.6 1734.8,1725.9 1777.5,1727.1 1820.2,1727.8 1863,1726"/>
<polyline points="1863,1725.6 1905.8,1726.1 1948.5,1726.1 1991.2,1726.7 2034,1727.9"/>
<polyline points="1692,1687.1 1734.8,1686.7 1777.5,1685.6 1820.2,1685.6"/>
<polyline points="2119.5,1638.4 2162.2,1638.6 2205,1637.5 2247.8,1637.8 2290.5,1636.2"/>
<polyline points="1905.8,1688.3 1948.5,1688.1 1991.2,1689.1 2034,1687.9 2076.8,1688.5"/>
<polyline points="1820.2,1643.2 1863,1643.1 1905.8,1644.3 1948.5,1643 1991.2,1642.4"/>
<polyline points="1777.5,1694.4 1820.2,1693.3 1863,1694.3 1905.8,1695.5 1948.5,1694 1991.2,1693 2034,1692.1"/>
<polyline points="2034,1689.3 2076.8,1687.5 2119.5,1686.6 2162.2,1686.2"/>
<polyline points="1777.5,1683.1 1820.2,1684 1863,1682.7 1905.8,1683.3"/>
<polyline points="1905.8,1635.7 1948.5,1637.2 1991.2,1637.6 2034,1636.5 2076.8,1636"/>
<polyline points="2076.8,1656.4 2119.5,1655 2162.2,1655.6 2205,1655.2 2247.8,1656.3 2290.5,1657.4 2333.2,1655.5"/>
<polyline points="1606.5,1616.4 1649.2,1617 1692,1617.4 1734.8,1617.3 1777.5,1616.9 1820.2,1617.8 1863,1617.6"/>
<polyline points="1734.8,1610.8 1777.5,1611.8 1820.2,1612 1863,1611.2 1905.8,1611.8 1948.5,1613.4 1991.2,1611.7"/>
<polyline points="2205,1552.4 2247.8,1552.3 2290.5,1554.3 2333.2,1554.8"/>
<polyline points="1649.2,1556.8 1692,1557.3 1734.8,1556.5 1777.5,1555.7 1820.2,1556.9 1863,1558.4 1905.8,1556.7"/>
<polyline points="1820.2,1564.3 1863,1563.7 1905.8,1564.9 1948.5,1564.1 1991.2,1563 2034,1562.5 2076.8,1563.1"/>
<polyline points="2076.8,1600.9 2119.5,1601.7 2162.2,1600.2 2205,1600.9 2247.8,1601.4 2290.5,1599.4"/>
<polyline points="1863,1607.9 1905.8,1608.2 1948.5,1609 1991.2,1607.7"/>
<polyline points="1734.8,1568.9 1777.5,1569.1 1820.2,1567.6 1863,1568.5"/>
<polyline points="2076.8,1571 2119.5,1571.9 2162.2,1571.3 2205,1572.5 2247.8,1572.4"/>
<polyline points="1692,1531.1 1734.8,1531.7 1777.5,1532.8 1820.2,1532 1863,1533.7 1905.8,1533.3 1948.5,1534.5"/>
<polyline points="1649.2,1485.8 1692,1487 1734.8,1487.1 1777.5,1486.8 1820.2,1486.9 1863,1487.6"/>
<polyline points="1905.8,1519.4 1948.5,1518.2 1991.2,1516.6 2034,1516.8 2076.8,1518.5 2119.5,1518.4 2162.2,1518.5"/>
<polyline points="1820.2,1535.1 1863,1536.3 1905.8,1536.5 1948.5,1535.6"/>
<polyline points="1649.2,1476.9 1692,1478.7 1734.8,1478.8 1777.5,1479.6 1820.2,1479.5"/>
<polyline points="2076.8,1518.5 2119.5,1519.3 2162.2,1520.3 2205,1518.9 2247.8,1519.6 2290.5,1520"/>
<polyline points="1777.5,1475 1820.2,1475.9 1863,1474.2 1905.8,1472.6 1948.5,1471.3"/>
<polyline points="1734.8,1472.3 1777.5,1471.5 1820.2,1470 1863,1470.3 1905.8,1470.4 1948.5,1472.1 1991.2,1473"/>
<polyline points="1863,1525.4 1905.8,1524.7 1948.5,1525.4 1991.2,1526.8"/>
<polyline points="2162.2,1411.7 2205,1412.7 2247.8,1413.5 2290.5,1411.9 2333.2,1410.2 2376,1411.7 2418.8,1413"/>
<polyline points="1692,1456.1 1734.8,1456.1 1777.5,1455.7 1820.2,1456.1 1863,1456.9 1905.8,1457.9 1948.5,1457.7"/>
<polyline points="1948.5,1399.4 1991.2,1398.3 2034,1398.7 2076.8,1398.4 2119.5,1400.6"/>
<polyline points="1777.5,1395.4 1820.2,1395.9 1863,1395.7 1905.8,1396.7 1948.5,1397.3 1991.2,1395.9 2034,1397.7"/>
<polyline points="2076.8,1439.5 2119.5,1440.9 2162.2,1440.4 2205,1440.1 2247.8,1438.7 2290.5,1439.6 2333.2,1440.6"/>
<polyline points="1649.2,1402.7 1692,1401.1 1734.8,1401.1 1777.5,1402.5 1820.2,1401.1"/>
<polyline points="1734.8,1395.3 1777.5,1396.4 1820.2,1396.4 1863,1396.1 1905.8,1395.4 1948.5,1394.8"/>
<polyline points="2034,1453.3 2076.8,1454.8 2119.5,1454.6 2162.2,1454.5"/>
<polyline points="2076.8,1449.4 2119.5,1448.7 2162.2,1448.7 2205,1447.3"/>
<polyline points="2119.5,1367.1 2162.2,1365.9 2205,1367.3 2247.8,1367.8"/>
<polyline points="2076.8,1327.9 2119.5,1329.1 2162.2,1329.9 2205,1327.9 2247.8,1329.2"/>
<polyline points="2205,1367 2247.8,1365.9 2290.5,1366.4 2333.2,1365.4 2376,1365 2418.8,1364.2"/>
<polyline points="1948.5,1357.9 1991.2,1359.7 2034,1359 2076.8,1360.2 2119.5,1359.6 2162.2,1358.3"/>
<polyline points="2205,1354.8 2247.8,1355.6 2290.5,1355.3 2333.2,1353.8 2376,1353.6"/>
<polyline points="1905.8,1372.5 1948.5,1372.9 1991.2,1373.5 2034,1371.3"/>
<polyline points="1991.2,1309.8 2034,1309.2 2076.8,1308.4 2119.5,1307.4 2162.2,1309.7 2205,1310.3"/>
<polyline points="1905.8,1363.3 1948.5,1365.1 1991.2,1365.9 2034,1364.3"/>
<polyline points="1692,1310.1 1734.8,1308.8 1777.5,1308.7 1820.2,1310.4 1863,1310.8 1905.8,1311.4 1948.5,1309.6"/>
<polyline points="2162.2,1275.4 2205,1276.2 2247.8,1276.3 2290.5,1274.8 2333.2,1275.9 2376,1276.5"/>
<polyline points="1606.5,1239.5 1649.2,1237.9 1692,1239.8 1734.8,1240.8 1777.5,1239.8"/>
<polyline points="1649.2,1238.7 1692,1238.3 1734.8,1238 1777.5,1239.3 1820.2,1238.3 1863,1236.9"/>
<polyline points="2119.5,1290.6 2162.2,1290.3 2205,1291 2247.8,1291.7 2290.5,1290.6 2333.2,1289.5 2376,1288.5"/>
<polyline points="2119.5,1277.5 2162.2,1277.7 2205,1277.4 2247.8,1278.2 2290.5,1278 2333.2,1278.4"/>
<polyline points="2034,1286 2076.8,1285.5 2119.5,1286 2162.2,1285.1 2205,1284.7 2247.8,1283.9"/>
<polyline points="1606.5,1274.8 1649.2,1275 1692,1274 1734.8,1272.7 1777.5,1273 1820.2,1274.6 1863,1273.8"/>
<polyline points="1948.5,1231.9 1991.2,1232.5 2034,1230.5 2076.8,1230.2 2119.5,1231 2162.2,1231.3"/>
<polyline points="2119.5,1238.1 2162.2,1236.9 2205,1236.4 2247.8,1237.7 2290.5,1239.1 2333.2,1237.7 2376,1237.9"/>
</g>
<polyline points="1606.5,1829 1649.2,1829.3 1692,1830.3 1734.8,1830.8 1777.5,1830.8 1820.2,1829.8 1863,1828.7 1905.8,1830.2 1948.5,1829.6 1991.2,1830.6 2034,1830.3 2076.8,1830.7 2119.5,1830.6 2162.2,1830.8 2205,1830.7 2247.8,1828.9 2290.5,1829.5 2333.2,1829.1 2376,1830.9 2418.8,1830.2 2461.5,1829.3" fill="none" stroke="#b47be2" stroke-width="3.2"/>
<g fill="#b47be2">
<circle cx="1616.8" cy="1829.6" r="9.6"/>
<circle cx="1606.5" cy="1829" r="9.6"/>
<circle cx="1649.2" cy="1829.3" r="9.6"/>
<circle cx="1692" cy="1830.3" r="9.6"/>
<circle cx="1734.8" cy="1830.8" r="9.6"/>
<circle cx="1777.5" cy="1830.8" r="9.6"/>
<circle cx="1820.2" cy="1829.8" r="9.6"/>
<circle cx="1863" cy="1828.7" r="9.6"/>
<circle cx="1905.8" cy="1830.2" r="9.6"/>
<circle cx="1948.5" cy="1829.6" r="9.6"/>
<circle cx="1991.2" cy="1830.6" r="9.6"/>
<circle cx="2034" cy="1830.3" r="9.6"/>
<circle cx="2076.8" cy="1830.7" r="9.6"/>
<circle cx="2119.5" cy="1830.6" r="9.6"/>
<circle cx="2162.2" cy="1830.8" r="9.6"/>
<circle cx="2205" cy="1830.7" r="9.6"/>
<circle cx="2247.8" cy="1828.9" r="9.6"/>
<circle cx="2290.5" cy="1829.5" r="9.6"/>
<circle cx="2333.2" cy="1829.1" r="9.6"/>
<circle cx="2376" cy="1830.9" r="9.6"/>
<circle cx="2418.8" cy="1830.2" r="9.6"/>
<circle cx="2461.5" cy="1829.3" r="9.6"/>
</g>
<polyline points="1606.5,1749.4 1649.2,1748.6 1692,1749.4 1734.8,1748.6 1777.5,1747.3 1820.2,1749.4 1863,1748.2 1905.8,1747.9 1948.5,1747.5 1991.2,1749 2034,1747.3 2076.8,1747.5 2119.5,1749.2 2162.2,1747.9 2205,1747.5 2247.8,1747 2290.5,1748.5 2333.2,1747.1 2376,1747.3 2418.8,1749.4 2461.5,1748.7" fill="none" stroke="#b47be2" stroke-width="3.2"/>
<g fill="#b47be2">
<circle cx="1616.8" cy="1748.2" r="9.6"/>
<circle cx="1606.5" cy="1749.4" r="9.6"/>
<circle cx="1649.2" cy="1748.6" r="9.6"/>
<circle cx="1692" cy="1749.4" r="9.6"/>
<circle cx="1734.8" cy="1748.6" r="9.6"/>
<circle cx="1777.5" cy="1747.3" r="9.6"/>
<circle cx="1820.2" cy="1749.4" r="9.6"/>
<circle cx="1863" cy="1748.2" r="9.6"/>
<circle cx="1905.8" cy="1747.9" r="9.6"/>
<circle cx="1948.5" cy="1747.5" r="9.6"/>
<circle cx="1991.2" cy="1749" r="9.6"/>
<circle cx="2034" cy="1747.3" r="9.6"/>
<circle cx="2076.8" cy="1747.5" r="9.6"/>
<circle cx="2119.5" cy="1749.2" r="9.6"/>
<circle cx="2162.2" cy="1747.9" r="9.6"/>
<circle cx="2205" cy="1747.5" r="9.6"/>
<circle cx="2247.8" cy="1747" r="9.6"/>
<circle cx="2290.5" cy="1748.5" r="9.6"/>
<circle cx="2333.2" cy="1747.1" r="9.6"/>
<circle cx="2376" cy="1747.3" r="9.6"/>
<circle cx="2418.8" cy="1749.4" r="9.6"/>
<circle cx="2461.5" cy="1748.7" r="9.6"/>
</g>
<polyline points="1606.5,1666 1649.2,1666.8 1692,1666.6 1734.8,1665.8 1777.5,1665.5 1820.2,1667.2 1863,1667.5 1905.8,1667.1 1948.5,1666.3 1991.2,1665.5 2034,1666.7 2076.8,1666.7 2119.5,1666.7 2162.2,1665.9 2205,1665.5 2247.8,1667.2 2290.5,1665.2 2333.2,1666.2 2376,1667 2418.8,1666.1 2461.5,1665.6" fill="none" stroke="#b47be2" stroke-width="3.2"/>
<g fill="#b47be2">
<circle cx="1616.8" cy="1666.4" r="9.6"/>
<circle cx="1606.5" cy="1666" r="9.6"/>
<circle cx="1649.2" cy="1666.8" r="9.6"/>
<circle cx="1692" cy="1666.6" r="9.6"/>
<circle cx="1734.8" cy="1665.8" r="9.6"/>
<circle cx="1777.5" cy="1665.5" r="9.6"/>
<circle cx="1820.2" cy="1667.2" r="9.6"/>
<circle cx="1863" cy="1667.5" r="9.6"/>
<circle cx="1905.8" cy="1667.1" r="9.6"/>
<circle cx="1948.5" cy="1666.3" r="9.6"/>
<circle cx="1991.2" cy="1665.5" r="9.6"/>
<circle cx="2034" cy="1666.7" r="9.6"/>
<circle cx="2076.8" cy="1666.7" r="9.6"/>
<circle cx="2119.5" cy="1666.7" r="9.6"/>
<circle cx="2162.2" cy="1665.9" r="9.6"/>
<circle cx="2205" cy="1665.5" r="9.6"/>
<circle cx="2247.8" cy="1667.2" r="9.6"/>
<circle cx="2290.5" cy="1665.2" r="9.6"/>
<circle cx="2333.2" cy="1666.2" r="9.6"/>
<circle cx="2376" cy="1667" r="9.6"/>
<circle cx="2418.8" cy="1666.1" r="9.6"/>
<circle cx="2461.5" cy="1665.6" r="9.6"/>
</g>
<polyline points="1606.5,1585 1649.2,1586.1 1692,1584.6 1734.8,1584.5 1777.5,1584.8 1820.2,1584.4 1863,1584.8 1905.8,1585.3 1948.5,1584.8 1991.2,1585.5 2034,1585.5 2076.8,1584.8 2119.5,1585.9 2162.2,1584.2 2205,1583.7 2247.8,1585.8 2290.5,1584.6 2333.2,1585.2 2376,1583.7 2418.8,1583.8 2461.5,1584.6" fill="none" stroke="#b47be2" stroke-width="3.2"/>
<g fill="#b47be2">
<circle cx="1616.8" cy="1584.9" r="9.6"/>
<circle cx="1606.5" cy="1585" r="9.6"/>
<circle cx="1649.2" cy="1586.1" r="9.6"/>
<circle cx="1692" cy="1584.6" r="9.6"/>
<circle cx="1734.8" cy="1584.5" r="9.6"/>
<circle cx="1777.5" cy="1584.8" r="9.6"/>
<circle cx="1820.2" cy="1584.4" r="9.6"/>
<circle cx="1863" cy="1584.8" r="9.6"/>
<circle cx="1905.8" cy="1585.3" r="9.6"/>
<circle cx="1948.5" cy="1584.8" r="9.6"/>
<circle cx="1991.2" cy="1585.5" r="9.6"/>
<circle cx="2034" cy="1585.5" r="9.6"/>
<circle cx="2076.8" cy="1584.8" r="9.6"/>
<circle cx="2119.5" cy="1585.9" r="9.6"/>
<circle cx="2162.2" cy="1584.2" r="9.6"/>
<circle cx="2205" cy="1583.7" r="9.6"/>
<circle cx="2247.8" cy="1585.8" r="9.6"/>
<circle cx="2290.5" cy="1584.6" r="9.6"/>
<circle cx="2333.2" cy="1585.2" r="9.6"/>
<circle cx="2376" cy="1583.7" r="9.6"/>
<circle cx="2418.8" cy="1583.8" r="9.6"/>
<circle cx="2461.5" cy="1584.6" r="9.6"/>
</g>
<polyline points="1606.5,1504.4 1649.2,1503.4 1692,1504.2 1734.8,1502.8 1777.5,1504.1 1820.2,1503.2 1863,1502.9 1905.8,1502.5 1948.5,1502.6 1991.2,1502.6 2034,1502.8 2076.8,1503.4 2119.5,1503.8 2162.2,1503 2205,1503.6 2247.8,1502.6 2290.5,1504.2 2333.2,1502.5 2376,1502.5 2418.8,1503.7 2461.5,1504.2" fill="none" stroke="#b47be2" stroke-width="3.2"/>
<g fill="#b47be2">
<circle cx="1616.8" cy="1503.5" r="9.6"/>
<circle cx="1606.5" cy="1504.4" r="9.6"/>
<circle cx="1649.2" cy="1503.4" r="9.6"/>
<circle cx="1692" cy="1504.2" r="9.6"/>
<circle cx="1734.8" cy="1502.8" r="9.6"/>
<circle cx="1777.5" cy="1504.1" r="9.6"/>
<circle cx="1820.2" cy="1503.2" r="9.6"/>
<circle cx="1863" cy="1502.9" r="9.6"/>
<circle cx="1905.8" cy="1502.5" r="9.6"/>
<circle cx="1948.5" cy="1502.6" r="9.6"/>
<circle cx="1991.2" cy="1502.6" r="9.6"/>
<circle cx="2034" cy="1502.8" r="9.6"/>
<circle cx="2076.8" cy="1503.4" r="9.6"/>
<circle cx="2119.5" cy="1503.8" r="9.6"/>
<circle cx="2162.2" cy="1503" r="9.6"/>
<circle cx="2205" cy="1503.6" r="9.6"/>
<circle cx="2247.8" cy="1502.6" r="9.6"/>
<circle cx="2290.5" cy="1504.2" r="9.6"/>
<circle cx="2333.2" cy="1502.5" r="9.6"/>
<circle cx="2376" cy="1502.5" r="9.6"/>
<circle cx="2418.8" cy="1503.7" r="9.6"/>
<circle cx="2461.5" cy="1504.2" r="9.6"/>
</g>
<polyline points="1606.5,1420.1 1649.2,1422 1692,1420.4 1734.8,1422 1777.5,1420.1 1820.2,1419.8 1863,1420.4 1905.8,1421.2 1948.5,1421.5 1991.2,1421.1 2034,1419.8 2076.8,1421.1 2119.5,1420.4 2162.2,1419.9 2205,1422 2247.8,1422 2290.5,1420.3 2333.2,1421.4 2376,1421.2 2418.8,1421.2 2461.5,1421" fill="none" stroke="#b47be2" stroke-width="3.2"/>
<g fill="#b47be2">
<circle cx="1616.8" cy="1420.8" r="9.6"/>
<circle cx="1606.5" cy="1420.1" r="9.6"/>
<circle cx="1649.2" cy="1422" r="9.6"/>
<circle cx="1692" cy="1420.4" r="9.6"/>
<circle cx="1734.8" cy="1422" r="9.6"/>
<circle cx="1777.5" cy="1420.1" r="9.6"/>
<circle cx="1820.2" cy="1419.8" r="9.6"/>
<circle cx="1863" cy="1420.4" r="9.6"/>
<circle cx="1905.8" cy="1421.2" r="9.6"/>
<circle cx="1948.5" cy="1421.5" r="9.6"/>
<circle cx="1991.2" cy="1421.1" r="9.6"/>
<circle cx="2034" cy="1419.8" r="9.6"/>
<circle cx="2076.8" cy="1421.1" r="9.6"/>
<circle cx="2119.5" cy="1420.4" r="9.6"/>
<circle cx="2162.2" cy="1419.9" r="9.6"/>
<circle cx="2205" cy="1422" r="9.6"/>
<circle cx="2247.8" cy="1422" r="9.6"/>
<circle cx="2290.5" cy="1420.3" r="9.6"/>
<circle cx="2333.2" cy="1421.4" r="9.6"/>
<circle cx="2376" cy="1421.2" r="9.6"/>
<circle cx="2418.8" cy="1421.2" r="9.6"/>
<circle cx="2461.5" cy="1421" r="9.6"/>
</g>
<polyline points="1606.5,1339.9 1649.2,1338.4 1692,1339.4 1734.8,1338.2 1777.5,1338.6 1820.2,1339.4 1863,1338.3 1905.8,1338.7 1948.5,1338.2 1991.2,1340.3 2034,1339.9 2076.8,1340.4 2119.5,1340.6 2162.2,1338.4 2205,1340 2247.8,1339.8 2290.5,1339.1 2333.2,1338.2 2376,1340.1 2418.8,1340.5 2461.5,1338.7" fill="none" stroke="#b47be2" stroke-width="3.2"/>
<g fill="#b47be2">
<circle cx="1616.8" cy="1339.4" r="9.6"/>
<circle cx="1606.5" cy="1339.9" r="9.6"/>
<circle cx="1649.2" cy="1338.4" r="9.6"/>
<circle cx="1692" cy="1339.4" r="9.6"/>
<circle cx="1734.8" cy="1338.2" r="9.6"/>
<circle cx="1777.5" cy="1338.6" r="9.6"/>
<circle cx="1820.2" cy="1339.4" r="9.6"/>
<circle cx="1863" cy="1338.3" r="9.6"/>
<circle cx="1905.8" cy="1338.7" r="9.6"/>
<circle cx="1948.5" cy="1338.2" r="9.6"/>
<circle cx="1991.2" cy="1340.3" r="9.6"/>
<circle cx="2034" cy="1339.9" r="9.6"/>
<circle cx="2076.8" cy="1340.4" r="9.6"/>
<circle cx="2119.5" cy="1340.6" r="9.6"/>
<circle cx="2162.2" cy="1338.4" r="9.6"/>
<circle cx="2205" cy="1340" r="9.6"/>
<circle cx="2247.8" cy="1339.8" r="9.6"/>
<circle cx="2290.5" cy="1339.1" r="9.6"/>
<circle cx="2333.2" cy="1338.2" r="9.6"/>
<circle cx="2376" cy="1340.1" r="9.6"/>
<circle cx="2418.8" cy="1340.5" r="9.6"/>
<circle cx="2461.5" cy="1338.7" r="9.6"/>
</g>
<polyline points="1606.5,1266.5 1649.2,1266.8 1692,1268.4 1734.8,1266.7 1777.5,1267.5 1820.2,1267.5 1863,1268.2 1905.8,1266.3 1948.5,1266.9 1991.2,1266.6 2034,1268.2 2076.8,1266.3 2119.5,1268.2 2162.2,1267.8 2205,1267.3 2247.8,1267.7 2290.5,1266.7 2333.2,1267.4 2376,1267.6 2418.8,1267.5 2461.5,1267" fill="none" stroke="#b47be2" stroke-width="3.2"/>
<g fill="#b47be2">
<circle cx="1616.8" cy="1267.3" r="9.6"/>
<circle cx="1606.5" cy="1266.5" r="9.6"/>
<circle cx="1649.2" cy="1266.8" r="9.6"/>
<circle cx="1692" cy="1268.4" r="9.6"/>
<circle cx="1734.8" cy="1266.7" r="9.6"/>
<circle cx="1777.5" cy="1267.5" r="9.6"/>
<circle cx="1820.2" cy="1267.5" r="9.6"/>
<circle cx="1863" cy="1268.2" r="9.6"/>
<circle cx="1905.8" cy="1266.3" r="9.6"/>
<circle cx="1948.5" cy="1266.9" r="9.6"/>
<circle cx="1991.2" cy="1266.6" r="9.6"/>
<circle cx="2034" cy="1268.2" r="9.6"/>
<circle cx="2076.8" cy="1266.3" r="9.6"/>
<circle cx="2119.5" cy="1268.2" r="9.6"/>
<circle cx="2162.2" cy="1267.8" r="9.6"/>
<circle cx="2205" cy="1267.3" r="9.6"/>
<circle cx="2247.8" cy="1267.7" r="9.6"/>
<circle cx="2290.5" cy="1266.7" r="9.6"/>
<circle cx="2333.2" cy="1267.4" r="9.6"/>
<circle cx="2376" cy="1267.6" r="9.6"/>
<circle cx="2418.8" cy="1267.5" r="9.6"/>
<circle cx="2461.5" cy="1267" r="9.6"/>
</g>
<rect x="1520.8" y="1178" width="1025.5" height="735.8" fill="none" stroke="#4d4d4d" stroke-width="2.8" rx="2"/>
<line x1="1520.8" y1="1873" x2="1528.3" y2="1873" stroke="#4d4d4d" stroke-width="2.8" />
<line x1="1520.8" y1="1832.1" x2="1535.8" y2="1832.1" stroke="#4d4d4d" stroke-width="2.8" />
<line x1="1520.8" y1="1791.2" x2="1528.3" y2="1791.2" stroke="#4d4d4d" stroke-width="2.8" />
<line x1="1520.8" y1="1750.2" x2="1535.8" y2="1750.2" stroke="#4d4d4d" stroke-width="2.8" />
<line x1="1520.8" y1="1709.3" x2="1528.3" y2="1709.3" stroke="#4d4d4d" stroke-width="2.8" />
<line x1="1520.8" y1="1668.4" x2="1535.8" y2="1668.4" stroke="#4d4d4d" stroke-width="2.8" />
<line x1="1520.8" y1="1627.5" x2="1528.3" y2="1627.5" stroke="#4d4d4d" stroke-width="2.8" />
<line x1="1520.8" y1="1586.5" x2="1535.8" y2="1586.5" stroke="#4d4d4d" stroke-width="2.8" />
<line x1="1520.8" y1="1545.6" x2="1528.3" y2="1545.6" stroke="#4d4d4d" stroke-width="2.8" />
<line x1="1520.8" y1="1504.7" x2="1535.8" y2="1504.7" stroke="#4d4d4d" stroke-width="2.8" />
<line x1="1520.8" y1="1463.8" x2="1528.3" y2="1463.8" stroke="#4d4d4d" stroke-width="2.8" />
<line x1="1520.8" y1="1422.8" x2="1535.8" y2="1422.8" stroke="#4d4d4d" stroke-width="2.8" />
<line x1="1520.8" y1="1381.9" x2="1528.3" y2="1381.9" stroke="#4d4d4d" stroke-width="2.8" />
<line x1="1520.8" y1="1341" x2="1535.8" y2="1341" stroke="#4d4d4d" stroke-width="2.8" />
<line x1="1520.8" y1="1300.1" x2="1528.3" y2="1300.1" stroke="#4d4d4d" stroke-width="2.8" />
<line x1="1520.8" y1="1259.1" x2="1535.8" y2="1259.1" stroke="#4d4d4d" stroke-width="2.8" />
<line x1="1520.8" y1="1218.2" x2="1528.3" y2="1218.2" stroke="#4d4d4d" stroke-width="2.8" />
<line x1="1606.5" y1="1913.8" x2="1606.5" y2="1896.8" stroke="#4d4d4d" stroke-width="2.8" />
<line x1="1692" y1="1913.8" x2="1692" y2="1905.8" stroke="#4d4d4d" stroke-width="2.8" />
<line x1="1777.5" y1="1913.8" x2="1777.5" y2="1896.8" stroke="#4d4d4d" stroke-width="2.8" />
<line x1="1863" y1="1913.8" x2="1863" y2="1905.8" stroke="#4d4d4d" stroke-width="2.8" />
<line x1="1948.5" y1="1913.8" x2="1948.5" y2="1896.8" stroke="#4d4d4d" stroke-width="2.8" />
<line x1="2034" y1="1913.8" x2="2034" y2="1905.8" stroke="#4d4d4d" stroke-width="2.8" />
<line x1="2119.5" y1="1913.8" x2="2119.5" y2="1896.8" stroke="#4d4d4d" stroke-width="2.8" />
<line x1="2205" y1="1913.8" x2="2205" y2="1905.8" stroke="#4d4d4d" stroke-width="2.8" />
<line x1="2290.5" y1="1913.8" x2="2290.5" y2="1896.8" stroke="#4d4d4d" stroke-width="2.8" />
<line x1="2376" y1="1913.8" x2="2376" y2="1905.8" stroke="#4d4d4d" stroke-width="2.8" />
<line x1="2461.5" y1="1913.8" x2="2461.5" y2="1896.8" stroke="#4d4d4d" stroke-width="2.8" />
<text x="1492" y="1927.4" font-size="42.5" text-anchor="end" fill="#111" textLength="28" lengthAdjust="spacingAndGlyphs">2</text>
<text x="1492" y="1845.6" font-size="42.5" text-anchor="end" fill="#111" textLength="28" lengthAdjust="spacingAndGlyphs">4</text>
<text x="1492" y="1763.8" font-size="42.5" text-anchor="end" fill="#111" textLength="28" lengthAdjust="spacingAndGlyphs">6</text>
<text x="1492" y="1681.9" font-size="42.5" text-anchor="end" fill="#111" textLength="28" lengthAdjust="spacingAndGlyphs">8</text>
<text x="1492" y="1600" font-size="42.5" text-anchor="end" fill="#111" textLength="50" lengthAdjust="spacingAndGlyphs">10</text>
<text x="1492" y="1518.2" font-size="42.5" text-anchor="end" fill="#111" textLength="50" lengthAdjust="spacingAndGlyphs">12</text>
<text x="1492" y="1436.3" font-size="42.5" text-anchor="end" fill="#111" textLength="50" lengthAdjust="spacingAndGlyphs">14</text>
<text x="1492" y="1354.5" font-size="42.5" text-anchor="end" fill="#111" textLength="50" lengthAdjust="spacingAndGlyphs">16</text>
<text x="1492" y="1272.6" font-size="42.5" text-anchor="end" fill="#111" textLength="50" lengthAdjust="spacingAndGlyphs">18</text>
<text x="1492" y="1190.8" font-size="42.5" text-anchor="end" fill="#111" textLength="56" lengthAdjust="spacingAndGlyphs">20</text>
<text x="1607.5" y="1972.5" font-size="42.5" text-anchor="middle" fill="#111" textLength="28.5" lengthAdjust="spacingAndGlyphs">0</text>
<text x="1778" y="1972.5" font-size="42.5" text-anchor="middle" fill="#111" textLength="84" lengthAdjust="spacingAndGlyphs">200</text>
<text x="1949" y="1972.5" font-size="42.5" text-anchor="middle" fill="#111" textLength="85" lengthAdjust="spacingAndGlyphs">400</text>
<text x="2120" y="1972.5" font-size="42.5" text-anchor="middle" fill="#111" textLength="84" lengthAdjust="spacingAndGlyphs">600</text>
<text x="2291" y="1972.5" font-size="42.5" text-anchor="middle" fill="#111" textLength="84" lengthAdjust="spacingAndGlyphs">800</text>
<text x="2454" y="1972.5" font-size="42.5" text-anchor="middle" fill="#111" textLength="120" lengthAdjust="spacingAndGlyphs">1,000</text>
<text x="2035" y="2049" font-size="50.5" text-anchor="middle" fill="#111" textLength="190" lengthAdjust="spacingAndGlyphs">Time (s)</text>
<text x="1392" y="1546" font-size="50.5" text-anchor="middle" fill="#111" textLength="298" lengthAdjust="spacingAndGlyphs" transform="rotate(-90 1392 1546)">Current (μA)</text>
</g>
</svg>
</body></html>
